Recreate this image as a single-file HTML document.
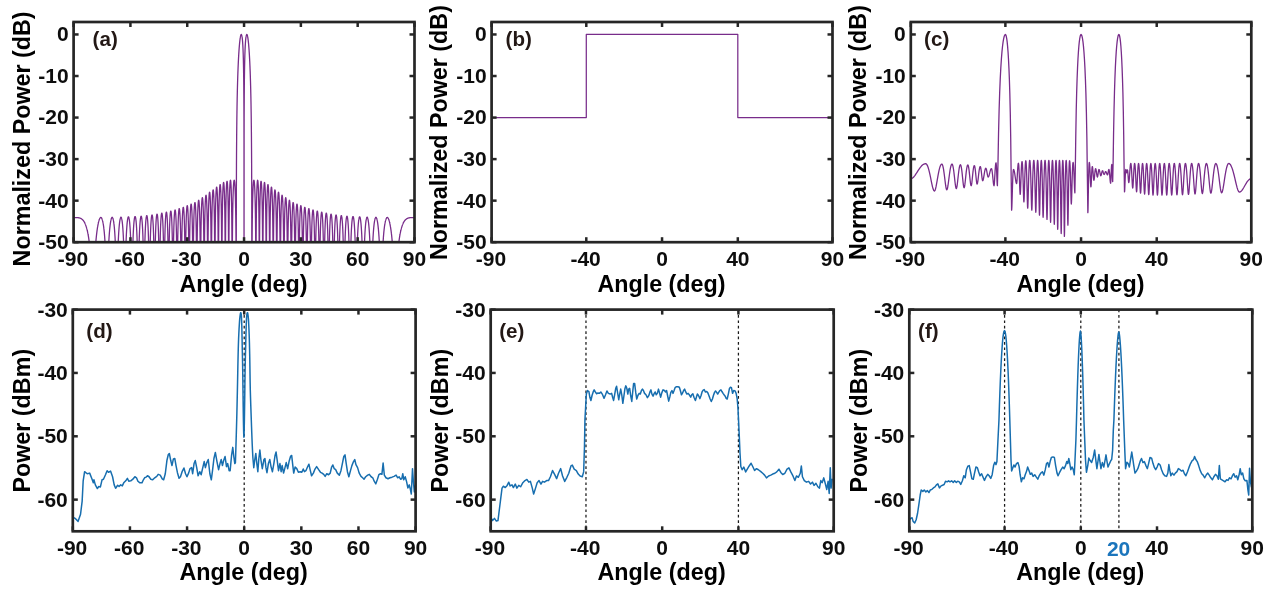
<!DOCTYPE html>
<html lang="en"><head><meta charset="utf-8"><title>Beam patterns</title>
<style>
html,body{margin:0;padding:0;background:#fff;}
body{width:1268px;height:592px;overflow:hidden;}
svg{display:block;}
text{font-family:"Liberation Sans", Arial, Helvetica, sans-serif;font-weight:bold;}
.tl{font-size:21px;fill:#0d0d0d;}
.al{font-size:23.3px;fill:#000;}
.tag{font-size:20.6px;fill:#231815;}
</style></head><body>
<svg width="1268" height="592" viewBox="0 0 1268 592">
<rect width="1268" height="592" fill="#fff"/>
<clipPath id="cpa"><rect x="73.60" y="22.00" width="340.90" height="220.20"/></clipPath>
<clipPath id="cpb"><rect x="491.60" y="22.00" width="340.90" height="220.20"/></clipPath>
<clipPath id="cpc"><rect x="910.80" y="22.00" width="340.50" height="220.20"/></clipPath>
<clipPath id="cpd"><rect x="72.80" y="309.60" width="342.80" height="221.70"/></clipPath>
<clipPath id="cpe"><rect x="490.70" y="309.60" width="343.00" height="221.70"/></clipPath>
<clipPath id="cpf"><rect x="909.30" y="309.60" width="343.00" height="221.70"/></clipPath>
<g clip-path="url(#cpa)">
<path d="M73.60,217.56 L73.65,217.56 L73.69,217.56 L73.74,217.56 L73.79,217.56 L73.84,217.56 L73.88,217.56 L73.93,217.56 L73.98,217.56 L74.03,217.56 L74.07,217.56 L74.12,217.56 L74.17,217.56 L74.22,217.56 L74.26,217.56 L74.31,217.56 L74.36,217.56 L74.40,217.56 L74.45,217.56 L74.50,217.56 L74.55,217.56 L74.59,217.56 L74.64,217.56 L74.69,217.56 L74.74,217.56 L74.78,217.56 L74.83,217.56 L74.88,217.56 L74.93,217.56 L74.97,217.56 L75.02,217.56 L75.07,217.56 L75.12,217.56 L75.16,217.56 L75.21,217.56 L75.26,217.56 L75.30,217.56 L75.35,217.57 L75.40,217.57 L75.45,217.57 L75.49,217.57 L75.54,217.57 L75.59,217.57 L75.64,217.57 L75.68,217.57 L75.73,217.57 L75.78,217.57 L75.83,217.57 L75.87,217.57 L75.92,217.57 L75.97,217.57 L76.01,217.57 L76.06,217.57 L76.11,217.57 L76.16,217.58 L76.20,217.58 L76.25,217.58 L76.30,217.58 L76.35,217.58 L76.39,217.58 L76.44,217.58 L76.49,217.58 L76.54,217.59 L76.58,217.59 L76.63,217.59 L76.68,217.59 L76.72,217.59 L76.77,217.59 L76.82,217.60 L76.87,217.60 L76.91,217.60 L76.96,217.60 L77.01,217.61 L77.06,217.61 L77.10,217.61 L77.15,217.61 L77.20,217.62 L77.25,217.62 L77.29,217.62 L77.34,217.63 L77.39,217.63 L77.44,217.63 L77.48,217.64 L77.53,217.64 L77.58,217.64 L77.62,217.65 L77.67,217.65 L77.72,217.66 L77.77,217.66 L77.81,217.66 L77.86,217.67 L77.91,217.67 L77.96,217.68 L78.00,217.68 L78.05,217.69 L78.10,217.69 L78.15,217.70 L78.19,217.71 L78.24,217.71 L78.29,217.72 L78.33,217.73 L78.38,217.73 L78.43,217.74 L78.48,217.75 L78.52,217.75 L78.57,217.76 L78.62,217.77 L78.67,217.78 L78.71,217.78 L78.76,217.79 L78.81,217.80 L78.86,217.81 L78.90,217.82 L78.95,217.83 L79.00,217.84 L79.04,217.85 L79.09,217.86 L79.14,217.87 L79.19,217.88 L79.23,217.89 L79.28,217.90 L79.33,217.91 L79.38,217.93 L79.42,217.94 L79.47,217.95 L79.52,217.96 L79.57,217.98 L79.61,217.99 L79.66,218.00 L79.71,218.02 L79.76,218.03 L79.80,218.05 L79.85,218.06 L79.90,218.08 L79.94,218.09 L79.99,218.11 L80.04,218.13 L80.09,218.14 L80.13,218.16 L80.18,218.18 L80.23,218.20 L80.28,218.21 L80.32,218.23 L80.37,218.25 L80.42,218.27 L80.47,218.29 L80.51,218.31 L80.56,218.33 L80.61,218.36 L80.65,218.38 L80.70,218.40 L80.75,218.42 L80.80,218.45 L80.84,218.47 L80.89,218.49 L80.94,218.52 L80.99,218.54 L81.03,218.57 L81.08,218.60 L81.13,218.62 L81.18,218.65 L81.22,218.68 L81.27,218.71 L81.32,218.73 L81.36,218.76 L81.41,218.79 L81.46,218.82 L81.51,218.86 L81.55,218.89 L81.60,218.92 L81.65,218.95 L81.70,218.99 L81.74,219.02 L81.79,219.05 L81.84,219.09 L81.89,219.13 L81.93,219.16 L81.98,219.20 L82.03,219.24 L82.08,219.28 L82.12,219.32 L82.17,219.36 L82.22,219.40 L82.26,219.44 L82.31,219.48 L82.36,219.52 L82.41,219.57 L82.45,219.61 L82.50,219.66 L82.55,219.70 L82.60,219.75 L82.64,219.80 L82.69,219.84 L82.74,219.89 L82.79,219.94 L82.83,219.99 L82.88,220.05 L82.93,220.10 L82.97,220.15 L83.02,220.21 L83.07,220.26 L83.12,220.32 L83.16,220.37 L83.21,220.43 L83.26,220.49 L83.31,220.55 L83.35,220.61 L83.40,220.67 L83.45,220.73 L83.50,220.80 L83.54,220.86 L83.59,220.93 L83.64,220.99 L83.68,221.06 L83.73,221.13 L83.78,221.20 L83.83,221.27 L83.87,221.34 L83.92,221.41 L83.97,221.49 L84.02,221.56 L84.06,221.64 L84.11,221.72 L84.16,221.79 L84.21,221.87 L84.25,221.95 L84.30,222.04 L84.35,222.12 L84.40,222.20 L84.44,222.29 L84.49,222.38 L84.54,222.47 L84.58,222.56 L84.63,222.65 L84.68,222.74 L84.73,222.83 L84.77,222.93 L84.82,223.02 L84.87,223.12 L84.92,223.22 L84.96,223.32 L85.01,223.42 L85.06,223.53 L85.11,223.63 L85.15,223.74 L85.20,223.85 L85.25,223.96 L85.29,224.07 L85.34,224.18 L85.39,224.30 L85.44,224.41 L85.48,224.53 L85.53,224.65 L85.58,224.77 L85.63,224.90 L85.67,225.02 L85.72,225.15 L85.77,225.28 L85.82,225.41 L85.86,225.54 L85.91,225.67 L85.96,225.81 L86.00,225.95 L86.05,226.09 L86.10,226.23 L86.15,226.37 L86.19,226.52 L86.24,226.67 L86.29,226.82 L86.34,226.97 L86.38,227.12 L86.43,227.28 L86.48,227.44 L86.53,227.60 L86.57,227.76 L86.62,227.93 L86.67,228.10 L86.72,228.27 L86.76,228.44 L86.81,228.62 L86.86,228.79 L86.90,228.97 L86.95,229.16 L87.00,229.34 L87.05,229.53 L87.09,229.72 L87.14,229.92 L87.19,230.11 L87.24,230.31 L87.28,230.52 L87.33,230.72 L87.38,230.93 L87.43,231.14 L87.47,231.36 L87.52,231.58 L87.57,231.80 L87.61,232.02 L87.66,232.25 L87.71,232.48 L87.76,232.71 L87.80,232.95 L87.85,233.19 L87.90,233.44 L87.95,233.69 L87.99,233.94 L88.04,234.20 L88.09,234.46 L88.14,234.72 L88.18,234.99 L88.23,235.26 L88.28,235.54 L88.32,235.82 L88.37,236.11 L88.42,236.40 L88.47,236.69 L88.51,236.99 L88.56,237.30 L88.61,237.61 L88.66,237.92 L88.70,238.24 L88.75,238.57 L88.80,238.89 L88.85,239.23 L88.89,239.57 L88.94,239.92 L88.99,240.27 L89.04,240.63 L89.08,240.99 L89.13,241.36 L89.18,241.74 L89.22,242.12 L89.27,242.52 L89.32,242.91 L89.37,243.32 L89.41,243.73 L89.46,244.15 L89.51,244.58 L89.56,245.01 L89.60,245.45 L89.65,245.90 L89.70,246.36 L89.75,246.83 L89.79,247.31 L89.84,247.80 L89.89,248.30 L89.93,248.80 L89.98,249.32 L90.03,249.85 L90.08,250.39 L90.12,250.94 L90.17,251.50 L90.22,252.07 L90.27,252.66 L90.31,253.26 L90.36,253.87 L90.41,254.50 L90.46,255.14 L90.50,255.80 L90.55,256.48 L90.60,257.16 L90.64,257.87 L90.69,258.60 L90.74,259.34 L90.79,260.10 L90.83,260.89 L90.88,261.69 L90.93,262.52 L90.98,263.37 L91.02,264.24 L91.07,265.14 L91.12,266.07 L91.17,267.03 L91.21,267.13 L91.26,267.13 L91.31,267.13 L91.36,267.13 L91.40,267.13 L91.45,267.13 L91.50,267.13 L91.54,267.13 L91.59,267.13 L91.64,267.13 L91.69,267.13 L91.73,267.13 L91.78,267.13 L91.83,267.13 L91.88,267.13 L91.92,267.13 L91.97,267.13 L92.02,267.13 L92.07,267.13 L92.11,267.13 L92.16,267.13 L92.21,267.13 L92.25,267.13 L92.30,267.13 L92.35,267.13 L92.40,267.13 L92.44,267.13 L92.49,267.13 L92.54,267.13 L92.59,267.13 L92.63,267.13 L92.68,267.13 L92.73,267.13 L92.78,267.13 L92.82,267.13 L92.87,267.13 L92.92,267.13 L92.97,267.13 L93.01,267.13 L93.06,267.13 L93.11,267.13 L93.15,267.13 L93.20,267.13 L93.25,267.13 L93.30,267.13 L93.34,267.13 L93.39,267.13 L93.44,267.13 L93.49,267.13 L93.53,267.13 L93.58,267.13 L93.63,267.13 L93.68,267.13 L93.72,267.13 L93.77,267.13 L93.82,267.13 L93.86,267.13 L93.91,267.13 L93.96,267.13 L94.01,267.13 L94.05,267.13 L94.10,267.13 L94.15,267.13 L94.20,267.13 L94.24,267.13 L94.29,267.13 L94.34,266.60 L94.39,265.48 L94.43,264.40 L94.48,263.35 L94.53,262.33 L94.57,261.34 L94.62,260.37 L94.67,259.43 L94.72,258.52 L94.76,257.63 L94.81,256.76 L94.86,255.91 L94.91,255.08 L94.95,254.27 L95.00,253.48 L95.05,252.71 L95.10,251.95 L95.14,251.21 L95.19,250.49 L95.24,249.78 L95.29,249.09 L95.33,248.41 L95.38,247.75 L95.43,247.10 L95.47,246.46 L95.52,245.83 L95.57,245.22 L95.62,244.62 L95.66,244.02 L95.71,243.45 L95.76,242.88 L95.81,242.32 L95.85,241.77 L95.90,241.23 L95.95,240.70 L96.00,240.18 L96.04,239.67 L96.09,239.17 L96.14,238.68 L96.18,238.20 L96.23,237.72 L96.28,237.25 L96.33,236.79 L96.37,236.34 L96.42,235.90 L96.47,235.46 L96.52,235.03 L96.56,234.61 L96.61,234.20 L96.66,233.79 L96.71,233.39 L96.75,232.99 L96.80,232.61 L96.85,232.22 L96.89,231.85 L96.94,231.48 L96.99,231.12 L97.04,230.76 L97.08,230.41 L97.13,230.07 L97.18,229.73 L97.23,229.39 L97.27,229.07 L97.32,228.74 L97.37,228.43 L97.42,228.11 L97.46,227.81 L97.51,227.51 L97.56,227.21 L97.61,226.92 L97.65,226.64 L97.70,226.36 L97.75,226.08 L97.79,225.81 L97.84,225.54 L97.89,225.28 L97.94,225.03 L97.98,224.78 L98.03,224.53 L98.08,224.29 L98.13,224.05 L98.17,223.82 L98.22,223.59 L98.27,223.37 L98.32,223.15 L98.36,222.93 L98.41,222.72 L98.46,222.52 L98.50,222.31 L98.55,222.12 L98.60,221.92 L98.65,221.73 L98.69,221.55 L98.74,221.37 L98.79,221.19 L98.84,221.02 L98.88,220.85 L98.93,220.69 L98.98,220.53 L99.03,220.37 L99.07,220.22 L99.12,220.08 L99.17,219.93 L99.21,219.79 L99.26,219.66 L99.31,219.53 L99.36,219.40 L99.40,219.28 L99.45,219.16 L99.50,219.05 L99.55,218.93 L99.59,218.83 L99.64,218.73 L99.69,218.63 L99.74,218.53 L99.78,218.44 L99.83,218.36 L99.88,218.27 L99.93,218.19 L99.97,218.12 L100.02,218.05 L100.07,217.98 L100.11,217.92 L100.16,217.86 L100.21,217.81 L100.26,217.76 L100.30,217.71 L100.35,217.67 L100.40,217.63 L100.45,217.60 L100.49,217.57 L100.54,217.54 L100.59,217.52 L100.64,217.51 L100.68,217.49 L100.73,217.48 L100.78,217.48 L100.82,217.48 L100.87,217.48 L100.92,217.49 L100.97,217.50 L101.01,217.52 L101.06,217.54 L101.11,217.57 L101.16,217.60 L101.20,217.63 L101.25,217.67 L101.30,217.71 L101.35,217.76 L101.39,217.81 L101.44,217.87 L101.49,217.93 L101.53,218.00 L101.58,218.07 L101.63,218.15 L101.68,218.23 L101.72,218.31 L101.77,218.41 L101.82,218.50 L101.87,218.60 L101.91,218.71 L101.96,218.82 L102.01,218.94 L102.06,219.06 L102.10,219.18 L102.15,219.32 L102.20,219.45 L102.25,219.60 L102.29,219.74 L102.34,219.90 L102.39,220.06 L102.43,220.22 L102.48,220.40 L102.53,220.57 L102.58,220.76 L102.62,220.95 L102.67,221.14 L102.72,221.34 L102.77,221.55 L102.81,221.77 L102.86,221.99 L102.91,222.22 L102.96,222.45 L103.00,222.69 L103.05,222.94 L103.10,223.20 L103.14,223.46 L103.19,223.73 L103.24,224.01 L103.29,224.30 L103.33,224.59 L103.38,224.89 L103.43,225.20 L103.48,225.52 L103.52,225.85 L103.57,226.19 L103.62,226.53 L103.67,226.88 L103.71,227.25 L103.76,227.62 L103.81,228.00 L103.85,228.40 L103.90,228.80 L103.95,229.21 L104.00,229.64 L104.04,230.07 L104.09,230.52 L104.14,230.98 L104.19,231.45 L104.23,231.93 L104.28,232.42 L104.33,232.93 L104.38,233.45 L104.42,233.99 L104.47,234.54 L104.52,235.11 L104.57,235.69 L104.61,236.29 L104.66,236.90 L104.71,237.53 L104.75,238.18 L104.80,238.85 L104.85,239.53 L104.90,240.24 L104.94,240.97 L104.99,241.72 L105.04,242.49 L105.09,243.29 L105.13,244.11 L105.18,244.96 L105.23,245.83 L105.28,246.74 L105.32,247.67 L105.37,248.64 L105.42,249.64 L105.46,250.68 L105.51,251.75 L105.56,252.87 L105.61,254.03 L105.65,255.24 L105.70,256.49 L105.75,257.80 L105.80,259.17 L105.84,260.60 L105.89,262.10 L105.94,263.67 L105.99,265.32 L106.03,267.05 L106.08,267.13 L106.13,267.13 L106.17,267.13 L106.22,267.13 L106.27,267.13 L106.32,267.13 L106.36,267.13 L106.41,267.13 L106.46,267.13 L106.51,267.13 L106.55,267.13 L106.60,267.13 L106.65,267.13 L106.70,267.13 L106.74,267.13 L106.79,267.13 L106.84,267.13 L106.89,267.13 L106.93,267.13 L106.98,267.13 L107.03,267.13 L107.07,267.13 L107.12,267.13 L107.17,267.13 L107.22,267.13 L107.26,267.13 L107.31,267.13 L107.36,267.13 L107.41,267.13 L107.45,267.13 L107.50,267.13 L107.55,267.13 L107.60,267.13 L107.64,267.13 L107.69,267.13 L107.74,267.13 L107.78,267.13 L107.83,267.13 L107.88,266.07 L107.93,264.28 L107.97,262.58 L108.02,260.97 L108.07,259.42 L108.12,257.95 L108.16,256.54 L108.21,255.18 L108.26,253.88 L108.31,252.63 L108.35,251.43 L108.40,250.27 L108.45,249.15 L108.49,248.07 L108.54,247.03 L108.59,246.02 L108.64,245.04 L108.68,244.10 L108.73,243.18 L108.78,242.30 L108.83,241.44 L108.87,240.60 L108.92,239.80 L108.97,239.01 L109.02,238.25 L109.06,237.51 L109.11,236.79 L109.16,236.09 L109.21,235.41 L109.25,234.75 L109.30,234.10 L109.35,233.48 L109.39,232.87 L109.44,232.28 L109.49,231.70 L109.54,231.14 L109.58,230.60 L109.63,230.06 L109.68,229.55 L109.73,229.05 L109.77,228.56 L109.82,228.08 L109.87,227.62 L109.92,227.17 L109.96,226.73 L110.01,226.30 L110.06,225.89 L110.10,225.49 L110.15,225.10 L110.20,224.72 L110.25,224.35 L110.29,223.99 L110.34,223.64 L110.39,223.31 L110.44,222.98 L110.48,222.66 L110.53,222.36 L110.58,222.06 L110.63,221.77 L110.67,221.50 L110.72,221.23 L110.77,220.97 L110.81,220.72 L110.86,220.48 L110.91,220.25 L110.96,220.03 L111.00,219.82 L111.05,219.61 L111.10,219.42 L111.15,219.23 L111.19,219.06 L111.24,218.89 L111.29,218.73 L111.34,218.57 L111.38,218.43 L111.43,218.30 L111.48,218.17 L111.53,218.05 L111.57,217.94 L111.62,217.84 L111.67,217.75 L111.71,217.66 L111.76,217.59 L111.81,217.52 L111.86,217.46 L111.90,217.41 L111.95,217.36 L112.00,217.33 L112.05,217.30 L112.09,217.28 L112.14,217.27 L112.19,217.27 L112.24,217.28 L112.28,217.30 L112.33,217.32 L112.38,217.35 L112.42,217.39 L112.47,217.44 L112.52,217.50 L112.57,217.57 L112.61,217.65 L112.66,217.73 L112.71,217.83 L112.76,217.93 L112.80,218.04 L112.85,218.16 L112.90,218.29 L112.95,218.44 L112.99,218.58 L113.04,218.74 L113.09,218.91 L113.13,219.09 L113.18,219.28 L113.23,219.48 L113.28,219.69 L113.32,219.91 L113.37,220.14 L113.42,220.38 L113.47,220.63 L113.51,220.89 L113.56,221.17 L113.61,221.45 L113.66,221.75 L113.70,222.06 L113.75,222.38 L113.80,222.72 L113.85,223.06 L113.89,223.42 L113.94,223.79 L113.99,224.18 L114.03,224.58 L114.08,225.00 L114.13,225.43 L114.18,225.87 L114.22,226.33 L114.27,226.80 L114.32,227.30 L114.37,227.81 L114.41,228.33 L114.46,228.88 L114.51,229.44 L114.56,230.02 L114.60,230.62 L114.65,231.24 L114.70,231.89 L114.74,232.55 L114.79,233.24 L114.84,233.95 L114.89,234.69 L114.93,235.45 L114.98,236.24 L115.03,237.06 L115.08,237.91 L115.12,238.79 L115.17,239.70 L115.22,240.65 L115.27,241.63 L115.31,242.66 L115.36,243.72 L115.41,244.83 L115.45,245.98 L115.50,247.19 L115.55,248.44 L115.60,249.76 L115.64,251.13 L115.69,252.57 L115.74,254.09 L115.79,255.68 L115.83,257.36 L115.88,259.13 L115.93,261.01 L115.98,263.00 L116.02,265.12 L116.07,267.13 L116.12,267.13 L116.17,267.13 L116.21,267.13 L116.26,267.13 L116.31,267.13 L116.35,267.13 L116.40,267.13 L116.45,267.13 L116.50,267.13 L116.54,267.13 L116.59,267.13 L116.64,267.13 L116.69,267.13 L116.73,267.13 L116.78,267.13 L116.83,267.13 L116.88,267.13 L116.92,267.13 L116.97,267.13 L117.02,267.13 L117.06,267.13 L117.11,267.13 L117.16,267.13 L117.21,267.13 L117.25,267.13 L117.30,267.13 L117.35,267.13 L117.40,267.13 L117.44,267.13 L117.49,266.50 L117.54,264.21 L117.59,262.08 L117.63,260.06 L117.68,258.17 L117.73,256.38 L117.77,254.68 L117.82,253.06 L117.87,251.53 L117.92,250.06 L117.96,248.66 L118.01,247.33 L118.06,246.05 L118.11,244.82 L118.15,243.65 L118.20,242.52 L118.25,241.43 L118.30,240.38 L118.34,239.38 L118.39,238.41 L118.44,237.48 L118.49,236.58 L118.53,235.71 L118.58,234.87 L118.63,234.07 L118.67,233.29 L118.72,232.53 L118.77,231.81 L118.82,231.10 L118.86,230.42 L118.91,229.77 L118.96,229.14 L119.01,228.52 L119.05,227.93 L119.10,227.36 L119.15,226.81 L119.20,226.28 L119.24,225.77 L119.29,225.27 L119.34,224.79 L119.38,224.33 L119.43,223.89 L119.48,223.46 L119.53,223.05 L119.57,222.66 L119.62,222.28 L119.67,221.91 L119.72,221.57 L119.76,221.23 L119.81,220.91 L119.86,220.60 L119.91,220.31 L119.95,220.03 L120.00,219.77 L120.05,219.52 L120.09,219.28 L120.14,219.06 L120.19,218.85 L120.24,218.65 L120.28,218.46 L120.33,218.29 L120.38,218.13 L120.43,217.99 L120.47,217.85 L120.52,217.73 L120.57,217.62 L120.62,217.52 L120.66,217.44 L120.71,217.37 L120.76,217.31 L120.81,217.26 L120.85,217.22 L120.90,217.20 L120.95,217.19 L120.99,217.19 L121.04,217.20 L121.09,217.23 L121.14,217.27 L121.18,217.32 L121.23,217.38 L121.28,217.46 L121.33,217.54 L121.37,217.65 L121.42,217.76 L121.47,217.89 L121.52,218.03 L121.56,218.18 L121.61,218.35 L121.66,218.53 L121.70,218.73 L121.75,218.94 L121.80,219.16 L121.85,219.40 L121.89,219.66 L121.94,219.92 L121.99,220.21 L122.04,220.51 L122.08,220.82 L122.13,221.16 L122.18,221.50 L122.23,221.87 L122.27,222.25 L122.32,222.65 L122.37,223.07 L122.41,223.51 L122.46,223.96 L122.51,224.44 L122.56,224.93 L122.60,225.45 L122.65,225.99 L122.70,226.55 L122.75,227.13 L122.79,227.74 L122.84,228.37 L122.89,229.02 L122.94,229.71 L122.98,230.42 L123.03,231.16 L123.08,231.93 L123.13,232.73 L123.17,233.56 L123.22,234.43 L123.27,235.33 L123.31,236.28 L123.36,237.26 L123.41,238.28 L123.46,239.35 L123.50,240.47 L123.55,241.64 L123.60,242.87 L123.65,244.15 L123.69,245.49 L123.74,246.91 L123.79,248.39 L123.84,249.96 L123.88,251.61 L123.93,253.36 L123.98,255.21 L124.02,257.19 L124.07,259.29 L124.12,261.54 L124.17,263.96 L124.21,266.56 L124.26,267.13 L124.31,267.13 L124.36,267.13 L124.40,267.13 L124.45,267.13 L124.50,267.13 L124.55,267.13 L124.59,267.13 L124.64,267.13 L124.69,267.13 L124.73,267.13 L124.78,267.13 L124.83,267.13 L124.88,267.13 L124.92,267.13 L124.97,267.13 L125.02,267.13 L125.07,267.13 L125.11,267.13 L125.16,267.13 L125.21,267.13 L125.26,267.13 L125.30,267.13 L125.35,267.13 L125.40,267.13 L125.45,265.71 L125.49,263.10 L125.54,260.67 L125.59,258.42 L125.63,256.30 L125.68,254.32 L125.73,252.45 L125.78,250.68 L125.82,249.02 L125.87,247.43 L125.92,245.93 L125.97,244.50 L126.01,243.14 L126.06,241.84 L126.11,240.59 L126.16,239.41 L126.20,238.27 L126.25,237.19 L126.30,236.14 L126.34,235.15 L126.39,234.19 L126.44,233.27 L126.49,232.39 L126.53,231.54 L126.58,230.73 L126.63,229.94 L126.68,229.19 L126.72,228.47 L126.77,227.78 L126.82,227.12 L126.87,226.48 L126.91,225.86 L126.96,225.28 L127.01,224.71 L127.06,224.17 L127.10,223.66 L127.15,223.16 L127.20,222.69 L127.24,222.23 L127.29,221.80 L127.34,221.39 L127.39,221.00 L127.43,220.63 L127.48,220.27 L127.53,219.94 L127.58,219.62 L127.62,219.32 L127.67,219.04 L127.72,218.78 L127.77,218.54 L127.81,218.31 L127.86,218.10 L127.91,217.90 L127.95,217.73 L128.00,217.57 L128.05,217.42 L128.10,217.29 L128.14,217.18 L128.19,217.09 L128.24,217.01 L128.29,216.95 L128.33,216.90 L128.38,216.87 L128.43,216.86 L128.48,216.86 L128.52,216.88 L128.57,216.91 L128.62,216.97 L128.66,217.03 L128.71,217.12 L128.76,217.22 L128.81,217.34 L128.85,217.47 L128.90,217.63 L128.95,217.80 L129.00,217.99 L129.04,218.19 L129.09,218.41 L129.14,218.66 L129.19,218.92 L129.23,219.20 L129.28,219.50 L129.33,219.81 L129.38,220.15 L129.42,220.51 L129.47,220.89 L129.52,221.29 L129.56,221.72 L129.61,222.16 L129.66,222.63 L129.71,223.12 L129.75,223.64 L129.80,224.18 L129.85,224.75 L129.90,225.35 L129.94,225.97 L129.99,226.62 L130.04,227.31 L130.09,228.02 L130.13,228.77 L130.18,229.55 L130.23,230.36 L130.27,231.22 L130.32,232.11 L130.37,233.04 L130.42,234.02 L130.46,235.04 L130.51,236.11 L130.56,237.24 L130.61,238.42 L130.65,239.65 L130.70,240.96 L130.75,242.32 L130.80,243.77 L130.84,245.29 L130.89,246.90 L130.94,248.60 L130.98,250.41 L131.03,252.34 L131.08,254.39 L131.13,256.59 L131.17,258.95 L131.22,261.50 L131.27,264.26 L131.32,267.13 L131.36,267.13 L131.41,267.13 L131.46,267.13 L131.51,267.13 L131.55,267.13 L131.60,267.13 L131.65,267.13 L131.70,267.13 L131.74,267.13 L131.79,267.13 L131.84,267.13 L131.88,267.13 L131.93,267.13 L131.98,267.13 L132.03,267.13 L132.07,267.13 L132.12,267.13 L132.17,267.13 L132.22,267.13 L132.26,267.13 L132.31,267.13 L132.36,267.13 L132.41,264.72 L132.45,261.86 L132.50,259.23 L132.55,256.79 L132.59,254.52 L132.64,252.40 L132.69,250.41 L132.74,248.54 L132.78,246.78 L132.83,245.12 L132.88,243.55 L132.93,242.06 L132.97,240.65 L133.02,239.31 L133.07,238.03 L133.12,236.81 L133.16,235.65 L133.21,234.55 L133.26,233.49 L133.30,232.48 L133.35,231.52 L133.40,230.60 L133.45,229.72 L133.49,228.88 L133.54,228.08 L133.59,227.31 L133.64,226.58 L133.68,225.88 L133.73,225.21 L133.78,224.57 L133.83,223.96 L133.87,223.38 L133.92,222.82 L133.97,222.30 L134.02,221.80 L134.06,221.32 L134.11,220.87 L134.16,220.45 L134.20,220.05 L134.25,219.67 L134.30,219.32 L134.35,218.98 L134.39,218.67 L134.44,218.39 L134.49,218.12 L134.54,217.87 L134.58,217.65 L134.63,217.45 L134.68,217.26 L134.73,217.10 L134.77,216.96 L134.82,216.84 L134.87,216.73 L134.91,216.65 L134.96,216.59 L135.01,216.55 L135.06,216.53 L135.10,216.53 L135.15,216.54 L135.20,216.58 L135.25,216.64 L135.29,216.72 L135.34,216.82 L135.39,216.94 L135.44,217.08 L135.48,217.24 L135.53,217.43 L135.58,217.63 L135.62,217.86 L135.67,218.10 L135.72,218.37 L135.77,218.67 L135.81,218.98 L135.86,219.33 L135.91,219.69 L135.96,220.08 L136.00,220.49 L136.05,220.93 L136.10,221.40 L136.15,221.90 L136.19,222.42 L136.24,222.97 L136.29,223.55 L136.34,224.17 L136.38,224.81 L136.43,225.49 L136.48,226.20 L136.52,226.95 L136.57,227.74 L136.62,228.57 L136.67,229.44 L136.71,230.35 L136.76,231.31 L136.81,232.31 L136.86,233.37 L136.90,234.48 L136.95,235.65 L137.00,236.88 L137.05,238.18 L137.09,239.55 L137.14,241.00 L137.19,242.53 L137.23,244.16 L137.28,245.88 L137.33,247.71 L137.38,249.67 L137.42,251.76 L137.47,254.01 L137.52,256.43 L137.57,259.04 L137.61,261.89 L137.66,265.01 L137.71,267.13 L137.76,267.13 L137.80,267.13 L137.85,267.13 L137.90,267.13 L137.94,267.13 L137.99,267.13 L138.04,267.13 L138.09,267.13 L138.13,267.13 L138.18,267.13 L138.23,267.13 L138.28,267.13 L138.32,267.13 L138.37,267.13 L138.42,267.13 L138.47,267.13 L138.51,267.13 L138.56,267.13 L138.61,267.13 L138.66,266.31 L138.70,263.02 L138.75,260.02 L138.80,257.27 L138.84,254.74 L138.89,252.39 L138.94,250.20 L138.99,248.16 L139.03,246.25 L139.08,244.45 L139.13,242.76 L139.18,241.17 L139.22,239.66 L139.27,238.23 L139.32,236.88 L139.37,235.60 L139.41,234.38 L139.46,233.23 L139.51,232.13 L139.55,231.08 L139.60,230.09 L139.65,229.14 L139.70,228.24 L139.74,227.38 L139.79,226.56 L139.84,225.79 L139.89,225.05 L139.93,224.35 L139.98,223.68 L140.03,223.05 L140.08,222.45 L140.12,221.88 L140.17,221.35 L140.22,220.84 L140.26,220.36 L140.31,219.91 L140.36,219.49 L140.41,219.10 L140.45,218.74 L140.50,218.40 L140.55,218.08 L140.60,217.79 L140.64,217.53 L140.69,217.29 L140.74,217.08 L140.79,216.89 L140.83,216.73 L140.88,216.59 L140.93,216.47 L140.98,216.37 L141.02,216.30 L141.07,216.26 L141.12,216.24 L141.16,216.23 L141.21,216.26 L141.26,216.30 L141.31,216.37 L141.35,216.46 L141.40,216.58 L141.45,216.72 L141.50,216.89 L141.54,217.08 L141.59,217.30 L141.64,217.54 L141.69,217.81 L141.73,218.10 L141.78,218.42 L141.83,218.77 L141.87,219.15 L141.92,219.55 L141.97,219.99 L142.02,220.45 L142.06,220.95 L142.11,221.47 L142.16,222.03 L142.21,222.63 L142.25,223.26 L142.30,223.92 L142.35,224.63 L142.40,225.37 L142.44,226.16 L142.49,226.98 L142.54,227.86 L142.58,228.78 L142.63,229.75 L142.68,230.77 L142.73,231.85 L142.77,232.99 L142.82,234.19 L142.87,235.46 L142.92,236.80 L142.96,238.23 L143.01,239.73 L143.06,241.34 L143.11,243.04 L143.15,244.85 L143.20,246.79 L143.25,248.87 L143.30,251.10 L143.34,253.51 L143.39,256.12 L143.44,258.96 L143.48,262.08 L143.53,265.52 L143.58,267.13 L143.63,267.13 L143.67,267.13 L143.72,267.13 L143.77,267.13 L143.82,267.13 L143.86,267.13 L143.91,267.13 L143.96,267.13 L144.01,267.13 L144.05,267.13 L144.10,267.13 L144.15,267.13 L144.19,267.13 L144.24,267.13 L144.29,267.13 L144.34,267.13 L144.38,267.13 L144.43,266.65 L144.48,263.04 L144.53,259.78 L144.57,256.80 L144.62,254.08 L144.67,251.57 L144.72,249.24 L144.76,247.08 L144.81,245.06 L144.86,243.18 L144.90,241.41 L144.95,239.74 L145.00,238.17 L145.05,236.70 L145.09,235.30 L145.14,233.98 L145.19,232.73 L145.24,231.55 L145.28,230.42 L145.33,229.36 L145.38,228.35 L145.43,227.40 L145.47,226.49 L145.52,225.63 L145.57,224.81 L145.62,224.04 L145.66,223.31 L145.71,222.62 L145.76,221.97 L145.80,221.35 L145.85,220.77 L145.90,220.23 L145.95,219.72 L145.99,219.24 L146.04,218.80 L146.09,218.38 L146.14,218.00 L146.18,217.64 L146.23,217.32 L146.28,217.02 L146.33,216.76 L146.37,216.52 L146.42,216.31 L146.47,216.13 L146.51,215.97 L146.56,215.85 L146.61,215.75 L146.66,215.67 L146.70,215.63 L146.75,215.61 L146.80,215.62 L146.85,215.65 L146.89,215.72 L146.94,215.81 L146.99,215.92 L147.04,216.07 L147.08,216.24 L147.13,216.44 L147.18,216.67 L147.22,216.93 L147.27,217.22 L147.32,217.54 L147.37,217.89 L147.41,218.28 L147.46,218.69 L147.51,219.14 L147.56,219.62 L147.60,220.14 L147.65,220.69 L147.70,221.28 L147.75,221.90 L147.79,222.57 L147.84,223.28 L147.89,224.03 L147.94,224.83 L147.98,225.67 L148.03,226.57 L148.08,227.51 L148.12,228.51 L148.17,229.57 L148.22,230.69 L148.27,231.88 L148.31,233.13 L148.36,234.47 L148.41,235.88 L148.46,237.38 L148.50,238.98 L148.55,240.68 L148.60,242.50 L148.65,244.44 L148.69,246.53 L148.74,248.78 L148.79,251.21 L148.83,253.85 L148.88,256.73 L148.93,259.90 L148.98,263.40 L149.02,267.13 L149.07,267.13 L149.12,267.13 L149.17,267.13 L149.21,267.13 L149.26,267.13 L149.31,267.13 L149.36,267.13 L149.40,267.13 L149.45,267.13 L149.50,267.13 L149.54,267.13 L149.59,267.13 L149.64,267.13 L149.69,267.13 L149.73,267.13 L149.78,267.13 L149.83,267.02 L149.88,263.08 L149.92,259.55 L149.97,256.37 L150.02,253.46 L150.07,250.80 L150.11,248.34 L150.16,246.07 L150.21,243.95 L150.26,241.98 L150.30,240.14 L150.35,238.42 L150.40,236.79 L150.44,235.27 L150.49,233.84 L150.54,232.48 L150.59,231.21 L150.63,230.00 L150.68,228.86 L150.73,227.79 L150.78,226.77 L150.82,225.81 L150.87,224.90 L150.92,224.04 L150.97,223.23 L151.01,222.47 L151.06,221.75 L151.11,221.07 L151.15,220.44 L151.20,219.84 L151.25,219.29 L151.30,218.77 L151.34,218.28 L151.39,217.84 L151.44,217.42 L151.49,217.05 L151.53,216.70 L151.58,216.39 L151.63,216.11 L151.68,215.86 L151.72,215.64 L151.77,215.46 L151.82,215.30 L151.86,215.18 L151.91,215.09 L151.96,215.02 L152.01,214.99 L152.05,214.99 L152.10,215.01 L152.15,215.07 L152.20,215.16 L152.24,215.28 L152.29,215.43 L152.34,215.61 L152.39,215.82 L152.43,216.06 L152.48,216.34 L152.53,216.65 L152.58,217.00 L152.62,217.38 L152.67,217.79 L152.72,218.25 L152.76,218.73 L152.81,219.26 L152.86,219.83 L152.91,220.44 L152.95,221.09 L153.00,221.78 L153.05,222.52 L153.10,223.31 L153.14,224.15 L153.19,225.04 L153.24,225.99 L153.29,227.00 L153.33,228.06 L153.38,229.20 L153.43,230.40 L153.47,231.68 L153.52,233.04 L153.57,234.48 L153.62,236.03 L153.66,237.67 L153.71,239.43 L153.76,241.31 L153.81,243.33 L153.85,245.50 L153.90,247.86 L153.95,250.41 L154.00,253.19 L154.04,256.24 L154.09,259.61 L154.14,263.37 L154.18,267.13 L154.23,267.13 L154.28,267.13 L154.33,267.13 L154.37,267.13 L154.42,267.13 L154.47,267.13 L154.52,267.13 L154.56,267.13 L154.61,267.13 L154.66,267.13 L154.71,267.13 L154.75,267.13 L154.80,267.13 L154.85,267.13 L154.90,267.13 L154.94,265.78 L154.99,261.69 L155.04,258.05 L155.08,254.77 L155.13,251.78 L155.18,249.06 L155.23,246.55 L155.27,244.23 L155.32,242.09 L155.37,240.09 L155.42,238.22 L155.46,236.48 L155.51,234.85 L155.56,233.32 L155.61,231.88 L155.65,230.52 L155.70,229.25 L155.75,228.05 L155.79,226.91 L155.84,225.85 L155.89,224.84 L155.94,223.90 L155.98,223.01 L156.03,222.17 L156.08,221.38 L156.13,220.64 L156.17,219.95 L156.22,219.30 L156.27,218.70 L156.32,218.13 L156.36,217.61 L156.41,217.13 L156.46,216.69 L156.50,216.28 L156.55,215.91 L156.60,215.58 L156.65,215.29 L156.69,215.02 L156.74,214.80 L156.79,214.61 L156.84,214.45 L156.88,214.32 L156.93,214.23 L156.98,214.18 L157.03,214.16 L157.07,214.16 L157.12,214.21 L157.17,214.28 L157.22,214.39 L157.26,214.54 L157.31,214.72 L157.36,214.93 L157.40,215.18 L157.45,215.46 L157.50,215.79 L157.55,216.15 L157.59,216.54 L157.64,216.98 L157.69,217.46 L157.74,217.98 L157.78,218.54 L157.83,219.14 L157.88,219.79 L157.93,220.49 L157.97,221.24 L158.02,222.04 L158.07,222.89 L158.11,223.80 L158.16,224.77 L158.21,225.81 L158.26,226.91 L158.30,228.08 L158.35,229.32 L158.40,230.65 L158.45,232.07 L158.49,233.58 L158.54,235.20 L158.59,236.93 L158.64,238.78 L158.68,240.78 L158.73,242.93 L158.78,245.25 L158.82,247.78 L158.87,250.53 L158.92,253.56 L158.97,256.90 L159.01,260.63 L159.06,264.83 L159.11,267.13 L159.16,267.13 L159.20,267.13 L159.25,267.13 L159.30,267.13 L159.35,267.13 L159.39,267.13 L159.44,267.13 L159.49,267.13 L159.54,267.13 L159.58,267.13 L159.63,267.13 L159.68,267.13 L159.72,267.13 L159.77,267.13 L159.82,263.39 L159.87,259.29 L159.91,255.63 L159.96,252.34 L160.01,249.36 L160.06,246.63 L160.10,244.13 L160.15,241.82 L160.20,239.68 L160.25,237.69 L160.29,235.84 L160.34,234.11 L160.39,232.49 L160.43,230.98 L160.48,229.55 L160.53,228.22 L160.58,226.96 L160.62,225.79 L160.67,224.68 L160.72,223.64 L160.77,222.66 L160.81,221.74 L160.86,220.88 L160.91,220.08 L160.96,219.32 L161.00,218.62 L161.05,217.96 L161.10,217.35 L161.15,216.79 L161.19,216.27 L161.24,215.79 L161.29,215.36 L161.33,214.96 L161.38,214.61 L161.43,214.29 L161.48,214.01 L161.52,213.77 L161.57,213.57 L161.62,213.41 L161.67,213.28 L161.71,213.19 L161.76,213.13 L161.81,213.12 L161.86,213.14 L161.90,213.19 L161.95,213.29 L162.00,213.42 L162.04,213.58 L162.09,213.79 L162.14,214.03 L162.19,214.32 L162.23,214.64 L162.28,215.00 L162.33,215.41 L162.38,215.86 L162.42,216.35 L162.47,216.88 L162.52,217.47 L162.57,218.10 L162.61,218.78 L162.66,219.51 L162.71,220.29 L162.75,221.13 L162.80,222.03 L162.85,223.00 L162.90,224.02 L162.94,225.12 L162.99,226.29 L163.04,227.54 L163.09,228.88 L163.13,230.31 L163.18,231.84 L163.23,233.47 L163.28,235.23 L163.32,237.11 L163.37,239.14 L163.42,241.34 L163.47,243.71 L163.51,246.30 L163.56,249.14 L163.61,252.26 L163.65,255.71 L163.70,259.59 L163.75,263.97 L163.80,267.13 L163.84,267.13 L163.89,267.13 L163.94,267.13 L163.99,267.13 L164.03,267.13 L164.08,267.13 L164.13,267.13 L164.18,267.13 L164.22,267.13 L164.27,267.13 L164.32,267.13 L164.36,267.13 L164.41,267.13 L164.46,263.93 L164.51,259.49 L164.55,255.56 L164.60,252.05 L164.65,248.89 L164.70,246.01 L164.74,243.38 L164.79,240.96 L164.84,238.73 L164.89,236.66 L164.93,234.74 L164.98,232.95 L165.03,231.28 L165.07,229.72 L165.12,228.26 L165.17,226.90 L165.22,225.62 L165.26,224.42 L165.31,223.29 L165.36,222.24 L165.41,221.25 L165.45,220.32 L165.50,219.46 L165.55,218.65 L165.60,217.90 L165.64,217.21 L165.69,216.56 L165.74,215.96 L165.79,215.41 L165.83,214.91 L165.88,214.45 L165.93,214.03 L165.97,213.66 L166.02,213.33 L166.07,213.04 L166.12,212.80 L166.16,212.59 L166.21,212.43 L166.26,212.30 L166.31,212.22 L166.35,212.17 L166.40,212.16 L166.45,212.19 L166.50,212.26 L166.54,212.37 L166.59,212.52 L166.64,212.72 L166.68,212.95 L166.73,213.22 L166.78,213.54 L166.83,213.90 L166.87,214.30 L166.92,214.75 L166.97,215.25 L167.02,215.80 L167.06,216.39 L167.11,217.03 L167.16,217.73 L167.21,218.49 L167.25,219.30 L167.30,220.17 L167.35,221.11 L167.39,222.11 L167.44,223.19 L167.49,224.34 L167.54,225.57 L167.58,226.88 L167.63,228.29 L167.68,229.81 L167.73,231.43 L167.77,233.17 L167.82,235.05 L167.87,237.07 L167.92,239.26 L167.96,241.63 L168.01,244.22 L168.06,247.06 L168.11,250.18 L168.15,253.65 L168.20,257.54 L168.25,261.95 L168.29,267.03 L168.34,267.13 L168.39,267.13 L168.44,267.13 L168.48,267.13 L168.53,267.13 L168.58,267.13 L168.63,267.13 L168.67,267.13 L168.72,267.13 L168.77,267.13 L168.82,267.13 L168.86,267.13 L168.91,266.38 L168.96,261.32 L169.00,256.92 L169.05,253.03 L169.10,249.55 L169.15,246.41 L169.19,243.56 L169.24,240.95 L169.29,238.56 L169.34,236.35 L169.38,234.31 L169.43,232.41 L169.48,230.64 L169.53,229.00 L169.57,227.47 L169.62,226.03 L169.67,224.69 L169.71,223.44 L169.76,222.27 L169.81,221.17 L169.86,220.15 L169.90,219.19 L169.95,218.30 L170.00,217.47 L170.05,216.70 L170.09,215.98 L170.14,215.32 L170.19,214.71 L170.24,214.15 L170.28,213.65 L170.33,213.18 L170.38,212.77 L170.43,212.40 L170.47,212.08 L170.52,211.80 L170.57,211.57 L170.61,211.38 L170.66,211.23 L170.71,211.12 L170.76,211.06 L170.80,211.04 L170.85,211.06 L170.90,211.12 L170.95,211.23 L170.99,211.38 L171.04,211.58 L171.09,211.81 L171.14,212.10 L171.18,212.42 L171.23,212.80 L171.28,213.22 L171.32,213.69 L171.37,214.21 L171.42,214.78 L171.47,215.40 L171.51,216.08 L171.56,216.82 L171.61,217.62 L171.66,218.48 L171.70,219.40 L171.75,220.40 L171.80,221.47 L171.85,222.61 L171.89,223.84 L171.94,225.16 L171.99,226.57 L172.03,228.09 L172.08,229.72 L172.13,231.48 L172.18,233.37 L172.22,235.42 L172.27,237.64 L172.32,240.05 L172.37,242.68 L172.41,245.57 L172.46,248.76 L172.51,252.32 L172.56,256.31 L172.60,260.86 L172.65,266.12 L172.70,267.13 L172.75,267.13 L172.79,267.13 L172.84,267.13 L172.89,267.13 L172.93,267.13 L172.98,267.13 L173.03,267.13 L173.08,267.13 L173.12,267.13 L173.17,267.13 L173.22,267.13 L173.27,262.91 L173.31,258.03 L173.36,253.77 L173.41,249.99 L173.46,246.61 L173.50,243.55 L173.55,240.78 L173.60,238.24 L173.64,235.90 L173.69,233.75 L173.74,231.76 L173.79,229.91 L173.83,228.19 L173.88,226.59 L173.93,225.11 L173.98,223.72 L174.02,222.42 L174.07,221.21 L174.12,220.08 L174.17,219.03 L174.21,218.05 L174.26,217.14 L174.31,216.29 L174.35,215.50 L174.40,214.78 L174.45,214.11 L174.50,213.50 L174.54,212.94 L174.59,212.43 L174.64,211.98 L174.69,211.57 L174.73,211.21 L174.78,210.90 L174.83,210.64 L174.88,210.42 L174.92,210.25 L174.97,210.12 L175.02,210.04 L175.07,210.00 L175.11,210.01 L175.16,210.06 L175.21,210.15 L175.25,210.29 L175.30,210.48 L175.35,210.71 L175.40,210.99 L175.44,211.32 L175.49,211.70 L175.54,212.12 L175.59,212.60 L175.63,213.14 L175.68,213.72 L175.73,214.37 L175.78,215.07 L175.82,215.83 L175.87,216.66 L175.92,217.55 L175.96,218.52 L176.01,219.56 L176.06,220.67 L176.11,221.88 L176.15,223.17 L176.20,224.56 L176.25,226.05 L176.30,227.66 L176.34,229.39 L176.39,231.27 L176.44,233.29 L176.49,235.49 L176.53,237.88 L176.58,240.49 L176.63,243.36 L176.67,246.53 L176.72,250.07 L176.77,254.04 L176.82,258.56 L176.86,263.79 L176.91,267.13 L176.96,267.13 L177.01,267.13 L177.05,267.13 L177.10,267.13 L177.15,267.13 L177.20,267.13 L177.24,267.13 L177.29,267.13 L177.34,267.13 L177.39,267.13 L177.43,266.49 L177.48,260.78 L177.53,255.89 L177.57,251.62 L177.62,247.84 L177.67,244.45 L177.72,241.40 L177.76,238.62 L177.81,236.08 L177.86,233.75 L177.91,231.61 L177.95,229.62 L178.00,227.78 L178.05,226.08 L178.10,224.49 L178.14,223.01 L178.19,221.64 L178.24,220.36 L178.28,219.16 L178.33,218.05 L178.38,217.02 L178.43,216.06 L178.47,215.17 L178.52,214.34 L178.57,213.58 L178.62,212.88 L178.66,212.24 L178.71,211.66 L178.76,211.13 L178.81,210.65 L178.85,210.23 L178.90,209.86 L178.95,209.54 L178.99,209.27 L179.04,209.04 L179.09,208.87 L179.14,208.74 L179.18,208.66 L179.23,208.63 L179.28,208.64 L179.33,208.71 L179.37,208.82 L179.42,208.98 L179.47,209.19 L179.52,209.44 L179.56,209.75 L179.61,210.11 L179.66,210.52 L179.71,210.99 L179.75,211.51 L179.80,212.08 L179.85,212.72 L179.89,213.41 L179.94,214.17 L179.99,215.00 L180.04,215.89 L180.08,216.86 L180.13,217.91 L180.18,219.04 L180.23,220.25 L180.27,221.56 L180.32,222.97 L180.37,224.49 L180.42,226.12 L180.46,227.89 L180.51,229.80 L180.56,231.88 L180.60,234.13 L180.65,236.59 L180.70,239.28 L180.75,242.24 L180.79,245.53 L180.84,249.21 L180.89,253.36 L180.94,258.11 L180.98,263.65 L181.03,267.13 L181.08,267.13 L181.13,267.13 L181.17,267.13 L181.22,267.13 L181.27,267.13 L181.31,267.13 L181.36,267.13 L181.41,267.13 L181.46,267.13 L181.50,267.13 L181.55,262.04 L181.60,256.66 L181.65,252.02 L181.69,247.95 L181.74,244.33 L181.79,241.08 L181.84,238.14 L181.88,235.47 L181.93,233.02 L181.98,230.77 L182.03,228.70 L182.07,226.79 L182.12,225.01 L182.17,223.37 L182.21,221.84 L182.26,220.42 L182.31,219.10 L182.36,217.87 L182.40,216.73 L182.45,215.67 L182.50,214.69 L182.55,213.78 L182.59,212.94 L182.64,212.17 L182.69,211.46 L182.74,210.81 L182.78,210.22 L182.83,209.69 L182.88,209.22 L182.92,208.80 L182.97,208.43 L183.02,208.12 L183.07,207.85 L183.11,207.64 L183.16,207.48 L183.21,207.37 L183.26,207.31 L183.30,207.30 L183.35,207.33 L183.40,207.42 L183.45,207.55 L183.49,207.74 L183.54,207.98 L183.59,208.27 L183.63,208.61 L183.68,209.01 L183.73,209.46 L183.78,209.97 L183.82,210.54 L183.87,211.18 L183.92,211.87 L183.97,212.63 L184.01,213.46 L184.06,214.36 L184.11,215.34 L184.16,216.39 L184.20,217.54 L184.25,218.77 L184.30,220.10 L184.35,221.54 L184.39,223.09 L184.44,224.77 L184.49,226.58 L184.53,228.55 L184.58,230.68 L184.63,233.01 L184.68,235.56 L184.72,238.35 L184.77,241.45 L184.82,244.89 L184.87,248.76 L184.91,253.15 L184.96,258.23 L185.01,264.20 L185.06,267.13 L185.10,267.13 L185.15,267.13 L185.20,267.13 L185.24,267.13 L185.29,267.13 L185.34,267.13 L185.39,267.13 L185.43,267.13 L185.48,267.13 L185.53,263.03 L185.58,257.15 L185.62,252.14 L185.67,247.77 L185.72,243.92 L185.77,240.48 L185.81,237.39 L185.86,234.58 L185.91,232.02 L185.95,229.67 L186.00,227.52 L186.05,225.53 L186.10,223.69 L186.14,221.98 L186.19,220.40 L186.24,218.94 L186.29,217.58 L186.33,216.32 L186.38,215.14 L186.43,214.06 L186.48,213.05 L186.52,212.12 L186.57,211.26 L186.62,210.48 L186.67,209.75 L186.71,209.10 L186.76,208.50 L186.81,207.97 L186.85,207.49 L186.90,207.07 L186.95,206.70 L187.00,206.39 L187.04,206.14 L187.09,205.93 L187.14,205.78 L187.19,205.68 L187.23,205.64 L187.28,205.65 L187.33,205.71 L187.38,205.82 L187.42,205.98 L187.47,206.20 L187.52,206.47 L187.56,206.80 L187.61,207.19 L187.66,207.63 L187.71,208.13 L187.75,208.69 L187.80,209.31 L187.85,210.00 L187.90,210.76 L187.94,211.59 L187.99,212.49 L188.04,213.47 L188.09,214.54 L188.13,215.69 L188.18,216.94 L188.23,218.28 L188.27,219.74 L188.32,221.31 L188.37,223.02 L188.42,224.86 L188.46,226.86 L188.51,229.04 L188.56,231.42 L188.61,234.03 L188.65,236.90 L188.70,240.08 L188.75,243.64 L188.80,247.64 L188.84,252.21 L188.89,257.52 L188.94,263.81 L188.99,267.13 L189.03,267.13 L189.08,267.13 L189.13,267.13 L189.17,267.13 L189.22,267.13 L189.27,267.13 L189.32,267.13 L189.36,267.13 L189.41,265.56 L189.46,258.88 L189.51,253.29 L189.55,248.48 L189.60,244.29 L189.65,240.58 L189.70,237.25 L189.74,234.26 L189.79,231.54 L189.84,229.05 L189.88,226.78 L189.93,224.68 L189.98,222.75 L190.03,220.97 L190.07,219.32 L190.12,217.79 L190.17,216.37 L190.22,215.06 L190.26,213.84 L190.31,212.72 L190.36,211.68 L190.41,210.72 L190.45,209.83 L190.50,209.02 L190.55,208.28 L190.59,207.60 L190.64,206.99 L190.69,206.44 L190.74,205.95 L190.78,205.52 L190.83,205.15 L190.88,204.84 L190.93,204.58 L190.97,204.38 L191.02,204.23 L191.07,204.14 L191.12,204.10 L191.16,204.11 L191.21,204.18 L191.26,204.31 L191.31,204.49 L191.35,204.72 L191.40,205.01 L191.45,205.36 L191.49,205.77 L191.54,206.24 L191.59,206.77 L191.64,207.36 L191.68,208.02 L191.73,208.75 L191.78,209.55 L191.83,210.43 L191.87,211.38 L191.92,212.42 L191.97,213.55 L192.02,214.77 L192.06,216.09 L192.11,217.52 L192.16,219.07 L192.20,220.75 L192.25,222.57 L192.30,224.55 L192.35,226.70 L192.39,229.05 L192.44,231.63 L192.49,234.47 L192.54,237.61 L192.58,241.12 L192.63,245.08 L192.68,249.59 L192.73,254.82 L192.77,261.01 L192.82,267.13 L192.87,267.13 L192.91,267.13 L192.96,267.13 L193.01,267.13 L193.06,267.13 L193.10,267.13 L193.15,267.13 L193.20,267.13 L193.25,264.00 L193.29,257.21 L193.34,251.54 L193.39,246.68 L193.44,242.45 L193.48,238.70 L193.53,235.35 L193.58,232.34 L193.63,229.60 L193.67,227.11 L193.72,224.83 L193.77,222.73 L193.81,220.80 L193.86,219.02 L193.91,217.37 L193.96,215.84 L194.00,214.43 L194.05,213.12 L194.10,211.92 L194.15,210.80 L194.19,209.77 L194.24,208.82 L194.29,207.95 L194.34,207.15 L194.38,206.43 L194.43,205.77 L194.48,205.18 L194.52,204.65 L194.57,204.18 L194.62,203.78 L194.67,203.43 L194.71,203.15 L194.76,202.92 L194.81,202.75 L194.86,202.63 L194.90,202.57 L194.95,202.56 L195.00,202.60 L195.05,202.70 L195.09,202.86 L195.14,203.07 L195.19,203.35 L195.24,203.68 L195.28,204.07 L195.33,204.52 L195.38,205.04 L195.42,205.63 L195.47,206.28 L195.52,207.00 L195.57,207.80 L195.61,208.68 L195.66,209.63 L195.71,210.67 L195.76,211.81 L195.80,213.04 L195.85,214.37 L195.90,215.82 L195.95,217.39 L195.99,219.10 L196.04,220.95 L196.09,222.96 L196.13,225.16 L196.18,227.57 L196.23,230.22 L196.28,233.14 L196.32,236.39 L196.37,240.03 L196.42,244.15 L196.47,248.87 L196.51,254.38 L196.56,260.98 L196.61,267.13 L196.66,267.13 L196.70,267.13 L196.75,267.13 L196.80,267.13 L196.84,267.13 L196.89,267.13 L196.94,267.13 L196.99,266.72 L197.03,258.93 L197.08,252.57 L197.13,247.20 L197.18,242.57 L197.22,238.52 L197.27,234.91 L197.32,231.69 L197.37,228.77 L197.41,226.12 L197.46,223.71 L197.51,221.49 L197.56,219.45 L197.60,217.58 L197.65,215.84 L197.70,214.24 L197.74,212.76 L197.79,211.39 L197.84,210.13 L197.89,208.96 L197.93,207.88 L197.98,206.88 L198.03,205.97 L198.08,205.14 L198.12,204.38 L198.17,203.69 L198.22,203.07 L198.27,202.51 L198.31,202.02 L198.36,201.59 L198.41,201.23 L198.45,200.92 L198.50,200.67 L198.55,200.49 L198.60,200.36 L198.64,200.29 L198.69,200.27 L198.74,200.31 L198.79,200.41 L198.83,200.57 L198.88,200.79 L198.93,201.07 L198.98,201.41 L199.02,201.81 L199.07,202.28 L199.12,202.81 L199.16,203.41 L199.21,204.08 L199.26,204.83 L199.31,205.65 L199.35,206.55 L199.40,207.54 L199.45,208.62 L199.50,209.80 L199.54,211.07 L199.59,212.46 L199.64,213.97 L199.69,215.60 L199.73,217.38 L199.78,219.32 L199.83,221.43 L199.88,223.74 L199.92,226.28 L199.97,229.08 L200.02,232.19 L200.06,235.66 L200.11,239.57 L200.16,244.03 L200.21,249.21 L200.25,255.34 L200.30,262.81 L200.35,267.13 L200.40,267.13 L200.44,267.13 L200.49,267.13 L200.54,267.13 L200.59,267.13 L200.63,267.13 L200.68,267.13 L200.73,258.74 L200.77,251.89 L200.82,246.18 L200.87,241.29 L200.92,237.03 L200.96,233.26 L201.01,229.90 L201.06,226.88 L201.11,224.13 L201.15,221.64 L201.20,219.35 L201.25,217.25 L201.30,215.32 L201.34,213.54 L201.39,211.90 L201.44,210.38 L201.48,208.98 L201.53,207.68 L201.58,206.49 L201.63,205.39 L201.67,204.37 L201.72,203.44 L201.77,202.59 L201.82,201.82 L201.86,201.12 L201.91,200.49 L201.96,199.93 L202.01,199.43 L202.05,199.00 L202.10,198.63 L202.15,198.32 L202.20,198.08 L202.24,197.89 L202.29,197.77 L202.34,197.70 L202.38,197.70 L202.43,197.76 L202.48,197.87 L202.53,198.05 L202.57,198.29 L202.62,198.59 L202.67,198.95 L202.72,199.38 L202.76,199.88 L202.81,200.44 L202.86,201.08 L202.91,201.79 L202.95,202.58 L203.00,203.44 L203.05,204.40 L203.09,205.44 L203.14,206.57 L203.19,207.81 L203.24,209.16 L203.28,210.62 L203.33,212.21 L203.38,213.95 L203.43,215.83 L203.47,217.89 L203.52,220.14 L203.57,222.61 L203.62,225.33 L203.66,228.35 L203.71,231.71 L203.76,235.49 L203.80,239.80 L203.85,244.76 L203.90,250.61 L203.95,257.67 L203.99,266.56 L204.04,267.13 L204.09,267.13 L204.14,267.13 L204.18,267.13 L204.23,267.13 L204.28,267.13 L204.33,266.88 L204.37,257.79 L204.42,250.58 L204.47,244.61 L204.52,239.53 L204.56,235.12 L204.61,231.24 L204.66,227.79 L204.70,224.69 L204.75,221.89 L204.80,219.33 L204.85,217.00 L204.89,214.87 L204.94,212.91 L204.99,211.10 L205.04,209.44 L205.08,207.90 L205.13,206.48 L205.18,205.17 L205.23,203.97 L205.27,202.85 L205.32,201.83 L205.37,200.90 L205.41,200.05 L205.46,199.27 L205.51,198.57 L205.56,197.94 L205.60,197.38 L205.65,196.89 L205.70,196.47 L205.75,196.11 L205.79,195.81 L205.84,195.58 L205.89,195.41 L205.94,195.30 L205.98,195.24 L206.03,195.25 L206.08,195.31 L206.12,195.44 L206.17,195.63 L206.22,195.89 L206.27,196.20 L206.31,196.59 L206.36,197.04 L206.41,197.56 L206.46,198.15 L206.50,198.81 L206.55,199.55 L206.60,200.38 L206.65,201.28 L206.69,202.28 L206.74,203.37 L206.79,204.56 L206.84,205.85 L206.88,207.27 L206.93,208.81 L206.98,210.48 L207.02,212.31 L207.07,214.30 L207.12,216.48 L207.17,218.87 L207.21,221.51 L207.26,224.42 L207.31,227.67 L207.36,231.32 L207.40,235.46 L207.45,240.22 L207.50,245.78 L207.55,252.46 L207.59,260.76 L207.64,267.13 L207.69,267.13 L207.73,267.13 L207.78,267.13 L207.83,267.13 L207.88,267.13 L207.92,266.61 L207.97,256.83 L208.02,249.18 L208.07,242.91 L208.11,237.61 L208.16,233.04 L208.21,229.02 L208.26,225.46 L208.30,222.27 L208.35,219.38 L208.40,216.77 L208.44,214.38 L208.49,212.19 L208.54,210.18 L208.59,208.34 L208.63,206.64 L208.68,205.07 L208.73,203.62 L208.78,202.29 L208.82,201.06 L208.87,199.93 L208.92,198.89 L208.97,197.94 L209.01,197.07 L209.06,196.28 L209.11,195.57 L209.16,194.93 L209.20,194.36 L209.25,193.87 L209.30,193.44 L209.34,193.07 L209.39,192.77 L209.44,192.54 L209.49,192.36 L209.53,192.25 L209.58,192.21 L209.63,192.24 L209.68,192.33 L209.72,192.48 L209.77,192.70 L209.82,192.98 L209.87,193.32 L209.91,193.74 L209.96,194.22 L210.01,194.78 L210.05,195.41 L210.10,196.11 L210.15,196.90 L210.20,197.77 L210.24,198.72 L210.29,199.77 L210.34,200.92 L210.39,202.17 L210.43,203.54 L210.48,205.02 L210.53,206.64 L210.58,208.41 L210.62,210.34 L210.67,212.44 L210.72,214.75 L210.76,217.29 L210.81,220.09 L210.86,223.20 L210.91,226.69 L210.95,230.62 L211.00,235.12 L211.05,240.34 L211.10,246.54 L211.14,254.11 L211.19,263.81 L211.24,267.13 L211.29,267.13 L211.33,267.13 L211.38,267.13 L211.43,267.13 L211.48,267.13 L211.52,257.42 L211.57,249.05 L211.62,242.30 L211.66,236.66 L211.71,231.83 L211.76,227.62 L211.81,223.91 L211.85,220.59 L211.90,217.60 L211.95,214.90 L212.00,212.44 L212.04,210.19 L212.09,208.13 L212.14,206.24 L212.19,204.50 L212.23,202.90 L212.28,201.42 L212.33,200.06 L212.37,198.82 L212.42,197.67 L212.47,196.61 L212.52,195.65 L212.56,194.77 L212.61,193.98 L212.66,193.26 L212.71,192.62 L212.75,192.05 L212.80,191.55 L212.85,191.12 L212.90,190.76 L212.94,190.46 L212.99,190.23 L213.04,190.07 L213.08,189.96 L213.13,189.92 L213.18,189.94 L213.23,190.03 L213.27,190.17 L213.32,190.39 L213.37,190.67 L213.42,191.01 L213.46,191.43 L213.51,191.91 L213.56,192.47 L213.61,193.11 L213.65,193.82 L213.70,194.62 L213.75,195.50 L213.80,196.47 L213.84,197.53 L213.89,198.70 L213.94,199.98 L213.98,201.37 L214.03,202.88 L214.08,204.54 L214.13,206.35 L214.17,208.32 L214.22,210.48 L214.27,212.86 L214.32,215.47 L214.36,218.37 L214.41,221.60 L214.46,225.23 L214.51,229.34 L214.55,234.07 L214.60,239.60 L214.65,246.22 L214.69,254.45 L214.74,265.23 L214.79,267.13 L214.84,267.13 L214.88,267.13 L214.93,267.13 L214.98,267.13 L215.03,261.07 L215.07,251.19 L215.12,243.49 L215.17,237.18 L215.22,231.86 L215.26,227.27 L215.31,223.25 L215.36,219.68 L215.40,216.48 L215.45,213.60 L215.50,210.99 L215.55,208.61 L215.59,206.43 L215.64,204.43 L215.69,202.60 L215.74,200.91 L215.78,199.35 L215.83,197.92 L215.88,196.61 L215.93,195.40 L215.97,194.29 L216.02,193.27 L216.07,192.34 L216.12,191.50 L216.16,190.73 L216.21,190.05 L216.26,189.44 L216.30,188.91 L216.35,188.44 L216.40,188.04 L216.45,187.72 L216.49,187.45 L216.54,187.26 L216.59,187.13 L216.64,187.06 L216.68,187.07 L216.73,187.14 L216.78,187.28 L216.83,187.48 L216.87,187.75 L216.92,188.09 L216.97,188.50 L217.01,188.98 L217.06,189.53 L217.11,190.16 L217.16,190.87 L217.20,191.66 L217.25,192.54 L217.30,193.51 L217.35,194.58 L217.39,195.74 L217.44,197.02 L217.49,198.41 L217.54,199.93 L217.58,201.59 L217.63,203.40 L217.68,205.38 L217.72,207.55 L217.77,209.93 L217.82,212.55 L217.87,215.46 L217.91,218.70 L217.96,222.34 L218.01,226.47 L218.06,231.22 L218.10,236.78 L218.15,243.44 L218.20,251.73 L218.25,262.61 L218.29,267.13 L218.34,267.13 L218.39,267.13 L218.44,267.13 L218.48,267.13 L218.53,257.81 L218.58,248.02 L218.62,240.37 L218.67,234.10 L218.72,228.81 L218.77,224.25 L218.81,220.25 L218.86,216.70 L218.91,213.53 L218.96,210.66 L219.00,208.07 L219.05,205.70 L219.10,203.54 L219.15,201.56 L219.19,199.74 L219.24,198.07 L219.29,196.53 L219.33,195.12 L219.38,193.82 L219.43,192.62 L219.48,191.53 L219.52,190.53 L219.57,189.62 L219.62,188.79 L219.67,188.05 L219.71,187.39 L219.76,186.80 L219.81,186.28 L219.86,185.84 L219.90,185.46 L219.95,185.16 L220.00,184.92 L220.04,184.75 L220.09,184.65 L220.14,184.61 L220.19,184.64 L220.23,184.74 L220.28,184.91 L220.33,185.14 L220.38,185.44 L220.42,185.81 L220.47,186.26 L220.52,186.77 L220.57,187.37 L220.61,188.04 L220.66,188.79 L220.71,189.63 L220.76,190.55 L220.80,191.58 L220.85,192.70 L220.90,193.93 L220.94,195.27 L220.99,196.73 L221.04,198.33 L221.09,200.08 L221.13,201.99 L221.18,204.08 L221.23,206.37 L221.28,208.89 L221.32,211.68 L221.37,214.78 L221.42,218.25 L221.47,222.18 L221.51,226.66 L221.56,231.87 L221.61,238.05 L221.65,245.60 L221.70,255.28 L221.75,267.13 L221.80,267.13 L221.84,267.13 L221.89,267.13 L221.94,267.13 L221.99,260.12 L222.03,249.11 L222.08,240.72 L222.13,233.97 L222.18,228.33 L222.22,223.50 L222.27,219.30 L222.32,215.59 L222.36,212.28 L222.41,209.31 L222.46,206.62 L222.51,204.17 L222.55,201.94 L222.60,199.90 L222.65,198.03 L222.70,196.31 L222.74,194.73 L222.79,193.28 L222.84,191.95 L222.89,190.72 L222.93,189.60 L222.98,188.58 L223.03,187.65 L223.08,186.80 L223.12,186.04 L223.17,185.36 L223.22,184.76 L223.26,184.23 L223.31,183.77 L223.36,183.39 L223.41,183.07 L223.45,182.82 L223.50,182.65 L223.55,182.54 L223.60,182.49 L223.64,182.53 L223.69,182.63 L223.74,182.80 L223.79,183.04 L223.83,183.35 L223.88,183.73 L223.93,184.18 L223.97,184.71 L224.02,185.31 L224.07,185.99 L224.12,186.75 L224.16,187.60 L224.21,188.54 L224.26,189.58 L224.31,190.71 L224.35,191.96 L224.40,193.32 L224.45,194.80 L224.50,196.42 L224.54,198.18 L224.59,200.12 L224.64,202.23 L224.68,204.55 L224.73,207.10 L224.78,209.92 L224.83,213.06 L224.87,216.58 L224.92,220.55 L224.97,225.10 L225.02,230.39 L225.06,236.68 L225.11,244.39 L225.16,254.30 L225.21,267.13 L225.25,267.13 L225.30,267.13 L225.35,267.13 L225.40,267.13 L225.44,257.21 L225.49,246.49 L225.54,238.29 L225.58,231.66 L225.63,226.11 L225.68,221.36 L225.73,217.21 L225.77,213.56 L225.82,210.29 L225.87,207.36 L225.92,204.71 L225.96,202.30 L226.01,200.10 L226.06,198.09 L226.11,196.25 L226.15,194.56 L226.20,193.01 L226.25,191.59 L226.29,190.28 L226.34,189.09 L226.39,187.99 L226.44,187.00 L226.48,186.09 L226.53,185.28 L226.58,184.54 L226.63,183.89 L226.67,183.32 L226.72,182.82 L226.77,182.39 L226.82,182.03 L226.86,181.75 L226.91,181.53 L226.96,181.38 L227.00,181.31 L227.05,181.29 L227.10,181.35 L227.15,181.48 L227.19,181.67 L227.24,181.94 L227.29,182.27 L227.34,182.68 L227.38,183.16 L227.43,183.71 L227.48,184.35 L227.53,185.06 L227.57,185.86 L227.62,186.75 L227.67,187.73 L227.72,188.81 L227.76,189.99 L227.81,191.29 L227.86,192.70 L227.90,194.25 L227.95,195.94 L228.00,197.78 L228.05,199.79 L228.09,202.00 L228.14,204.43 L228.19,207.11 L228.24,210.08 L228.28,213.39 L228.33,217.12 L228.38,221.35 L228.43,226.24 L228.47,231.97 L228.52,238.88 L228.57,247.53 L228.61,259.04 L228.66,267.13 L228.71,267.13 L228.76,267.13 L228.80,267.13 L228.85,262.97 L228.90,250.28 L228.95,240.95 L228.99,233.59 L229.04,227.54 L229.09,222.41 L229.14,217.97 L229.18,214.08 L229.23,210.63 L229.28,207.54 L229.33,204.76 L229.37,202.23 L229.42,199.93 L229.47,197.83 L229.51,195.91 L229.56,194.16 L229.61,192.54 L229.66,191.06 L229.70,189.70 L229.75,188.46 L229.80,187.32 L229.85,186.28 L229.89,185.34 L229.94,184.49 L229.99,183.72 L230.04,183.04 L230.08,182.43 L230.13,181.90 L230.18,181.45 L230.22,181.07 L230.27,180.76 L230.32,180.52 L230.37,180.35 L230.41,180.24 L230.46,180.21 L230.51,180.26 L230.56,180.38 L230.60,180.57 L230.65,180.83 L230.70,181.15 L230.75,181.56 L230.79,182.03 L230.84,182.58 L230.89,183.21 L230.93,183.92 L230.98,184.71 L231.03,185.59 L231.08,186.56 L231.12,187.63 L231.17,188.81 L231.22,190.09 L231.27,191.49 L231.31,193.02 L231.36,194.69 L231.41,196.52 L231.46,198.51 L231.50,200.69 L231.55,203.09 L231.60,205.73 L231.65,208.65 L231.69,211.91 L231.74,215.57 L231.79,219.71 L231.83,224.47 L231.88,230.04 L231.93,236.71 L231.98,244.99 L232.02,255.83 L232.07,267.13 L232.12,267.13 L232.17,267.13 L232.21,267.13 L232.26,267.13 L232.31,258.27 L232.36,248.43 L232.40,240.75 L232.45,234.46 L232.50,229.15 L232.54,224.56 L232.59,220.53 L232.64,216.95 L232.69,213.74 L232.73,210.83 L232.78,208.18 L232.83,205.76 L232.88,203.54 L232.92,201.49 L232.97,199.59 L233.02,197.84 L233.07,196.21 L233.11,194.70 L233.16,193.30 L233.21,191.99 L233.25,190.77 L233.30,189.65 L233.35,188.60 L233.40,187.63 L233.44,186.72 L233.49,185.89 L233.54,185.13 L233.59,184.42 L233.63,183.78 L233.68,183.19 L233.73,182.67 L233.78,182.19 L233.82,181.77 L233.87,181.40 L233.92,181.08 L233.97,180.82 L234.01,180.60 L234.06,180.43 L234.11,180.31 L234.15,180.24 L234.20,180.21 L234.25,180.23 L234.30,180.31 L234.34,180.42 L234.39,180.59 L234.44,180.81 L234.49,181.07 L234.53,181.39 L234.58,181.76 L234.63,182.18 L234.68,182.65 L234.72,183.18 L234.77,183.76 L234.82,184.40 L234.86,185.11 L234.91,185.87 L234.96,186.70 L235.01,187.60 L235.05,188.58 L235.10,189.62 L235.15,190.75 L235.20,191.97 L235.24,193.27 L235.29,194.68 L235.34,196.19 L235.39,197.82 L235.43,199.58 L235.48,201.48 L235.53,203.53 L235.57,205.76 L235.62,208.19 L235.67,210.84 L235.72,213.75 L235.76,216.98 L235.81,220.57 L235.86,224.62 L235.91,229.23 L235.95,234.57 L236.00,240.91 L236.05,248.65 L236.10,258.59 L236.14,267.13 L236.19,267.13 L236.24,267.13 L236.29,246.04 L236.33,210.02 L236.38,189.86 L236.43,175.79 L236.47,164.96 L236.52,156.16 L236.57,148.74 L236.62,142.33 L236.66,136.69 L236.71,131.65 L236.76,127.10 L236.81,122.95 L236.85,119.14 L236.90,115.61 L236.95,112.33 L237.00,109.26 L237.04,106.39 L237.09,103.68 L237.14,101.12 L237.18,98.70 L237.23,96.40 L237.28,94.21 L237.33,92.12 L237.37,90.12 L237.42,88.21 L237.47,86.37 L237.52,84.61 L237.56,82.92 L237.61,81.29 L237.66,79.72 L237.71,78.20 L237.75,76.74 L237.80,75.32 L237.85,73.96 L237.89,72.63 L237.94,71.35 L237.99,70.11 L238.04,68.90 L238.08,67.74 L238.13,66.60 L238.18,65.50 L238.23,64.43 L238.27,63.39 L238.32,62.38 L238.37,61.39 L238.42,60.44 L238.46,59.50 L238.51,58.60 L238.56,57.71 L238.61,56.85 L238.65,56.02 L238.70,55.20 L238.75,54.41 L238.79,53.63 L238.84,52.88 L238.89,52.15 L238.94,51.43 L238.98,50.73 L239.03,50.05 L239.08,49.39 L239.13,48.75 L239.17,48.12 L239.22,47.51 L239.27,46.92 L239.32,46.34 L239.36,45.77 L239.41,45.23 L239.46,44.69 L239.50,44.18 L239.55,43.67 L239.60,43.18 L239.65,42.71 L239.69,42.25 L239.74,41.80 L239.79,41.37 L239.84,40.95 L239.88,40.54 L239.93,40.15 L239.98,39.77 L240.03,39.40 L240.07,39.05 L240.12,38.71 L240.17,38.38 L240.21,38.07 L240.26,37.77 L240.31,37.48 L240.36,37.20 L240.40,36.94 L240.45,36.69 L240.50,36.45 L240.55,36.23 L240.59,36.02 L240.64,35.82 L240.69,35.64 L240.74,35.46 L240.78,35.31 L240.83,35.16 L240.88,35.03 L240.93,34.91 L240.97,34.80 L241.02,34.71 L241.07,34.64 L241.11,34.57 L241.16,34.52 L241.21,34.49 L241.26,34.47 L241.30,34.46 L241.35,34.47 L241.40,34.50 L241.45,34.54 L241.49,34.60 L241.54,34.67 L241.59,34.77 L241.64,34.87 L241.68,35.00 L241.73,35.14 L241.78,35.31 L241.82,35.49 L241.87,35.69 L241.92,35.91 L241.97,36.15 L242.01,36.42 L242.06,36.70 L242.11,37.01 L242.16,37.35 L242.20,37.70 L242.25,38.09 L242.30,38.50 L242.35,38.94 L242.39,39.41 L242.44,39.91 L242.49,40.44 L242.53,41.01 L242.58,41.61 L242.63,42.25 L242.68,42.93 L242.72,43.65 L242.77,44.42 L242.82,45.24 L242.87,46.11 L242.91,47.03 L242.96,48.02 L243.01,49.07 L243.06,50.19 L243.10,51.39 L243.15,52.67 L243.20,54.05 L243.25,55.53 L243.29,57.12 L243.34,58.85 L243.39,60.72 L243.43,62.75 L243.48,64.98 L243.53,67.44 L243.58,70.16 L243.62,73.21 L243.67,76.65 L243.72,80.60 L243.77,85.20 L243.81,90.69 L243.86,97.47 L243.91,106.29 L243.96,118.80 L244.00,140.33 L244.05,267.13 L244.10,140.33 L244.14,118.80 L244.19,106.29 L244.24,97.47 L244.29,90.69 L244.33,85.20 L244.38,80.60 L244.43,76.65 L244.48,73.21 L244.52,70.16 L244.57,67.44 L244.62,64.98 L244.67,62.75 L244.71,60.72 L244.76,58.85 L244.81,57.12 L244.85,55.53 L244.90,54.05 L244.95,52.67 L245.00,51.39 L245.04,50.19 L245.09,49.07 L245.14,48.02 L245.19,47.03 L245.23,46.11 L245.28,45.24 L245.33,44.42 L245.38,43.65 L245.42,42.93 L245.47,42.25 L245.52,41.61 L245.57,41.01 L245.61,40.44 L245.66,39.91 L245.71,39.41 L245.75,38.94 L245.80,38.50 L245.85,38.09 L245.90,37.70 L245.94,37.35 L245.99,37.01 L246.04,36.70 L246.09,36.42 L246.13,36.15 L246.18,35.91 L246.23,35.69 L246.28,35.49 L246.32,35.31 L246.37,35.14 L246.42,35.00 L246.46,34.87 L246.51,34.77 L246.56,34.67 L246.61,34.60 L246.65,34.54 L246.70,34.50 L246.75,34.47 L246.80,34.46 L246.84,34.47 L246.89,34.49 L246.94,34.52 L246.99,34.57 L247.03,34.64 L247.08,34.71 L247.13,34.80 L247.17,34.91 L247.22,35.03 L247.27,35.16 L247.32,35.31 L247.36,35.46 L247.41,35.64 L247.46,35.82 L247.51,36.02 L247.55,36.23 L247.60,36.45 L247.65,36.69 L247.70,36.94 L247.74,37.20 L247.79,37.48 L247.84,37.77 L247.89,38.07 L247.93,38.38 L247.98,38.71 L248.03,39.05 L248.07,39.40 L248.12,39.77 L248.17,40.15 L248.22,40.54 L248.26,40.95 L248.31,41.37 L248.36,41.80 L248.41,42.25 L248.45,42.71 L248.50,43.18 L248.55,43.67 L248.60,44.18 L248.64,44.69 L248.69,45.23 L248.74,45.77 L248.78,46.34 L248.83,46.92 L248.88,47.51 L248.93,48.12 L248.97,48.75 L249.02,49.39 L249.07,50.05 L249.12,50.73 L249.16,51.43 L249.21,52.15 L249.26,52.88 L249.31,53.63 L249.35,54.41 L249.40,55.20 L249.45,56.02 L249.49,56.85 L249.54,57.71 L249.59,58.60 L249.64,59.50 L249.68,60.44 L249.73,61.39 L249.78,62.38 L249.83,63.39 L249.87,64.43 L249.92,65.50 L249.97,66.60 L250.02,67.74 L250.06,68.90 L250.11,70.11 L250.16,71.35 L250.21,72.63 L250.25,73.96 L250.30,75.32 L250.35,76.74 L250.39,78.20 L250.44,79.72 L250.49,81.29 L250.54,82.92 L250.58,84.61 L250.63,86.37 L250.68,88.21 L250.73,90.12 L250.77,92.12 L250.82,94.21 L250.87,96.40 L250.92,98.70 L250.96,101.12 L251.01,103.68 L251.06,106.39 L251.10,109.26 L251.15,112.33 L251.20,115.61 L251.25,119.14 L251.29,122.95 L251.34,127.10 L251.39,131.65 L251.44,136.69 L251.48,142.33 L251.53,148.74 L251.58,156.16 L251.63,164.96 L251.67,175.79 L251.72,189.86 L251.77,210.02 L251.81,246.04 L251.86,267.13 L251.91,267.13 L251.96,267.13 L252.00,258.59 L252.05,248.65 L252.10,240.91 L252.15,234.57 L252.19,229.23 L252.24,224.62 L252.29,220.57 L252.34,216.98 L252.38,213.75 L252.43,210.84 L252.48,208.19 L252.53,205.76 L252.57,203.53 L252.62,201.48 L252.67,199.58 L252.71,197.82 L252.76,196.19 L252.81,194.68 L252.86,193.27 L252.90,191.97 L252.95,190.75 L253.00,189.62 L253.05,188.58 L253.09,187.60 L253.14,186.70 L253.19,185.87 L253.24,185.11 L253.28,184.40 L253.33,183.76 L253.38,183.18 L253.42,182.65 L253.47,182.18 L253.52,181.76 L253.57,181.39 L253.61,181.07 L253.66,180.81 L253.71,180.59 L253.76,180.42 L253.80,180.31 L253.85,180.23 L253.90,180.21 L253.95,180.24 L253.99,180.31 L254.04,180.43 L254.09,180.60 L254.13,180.82 L254.18,181.08 L254.23,181.40 L254.28,181.77 L254.32,182.19 L254.37,182.67 L254.42,183.19 L254.47,183.78 L254.51,184.42 L254.56,185.13 L254.61,185.89 L254.66,186.72 L254.70,187.63 L254.75,188.60 L254.80,189.65 L254.85,190.77 L254.89,191.99 L254.94,193.30 L254.99,194.70 L255.03,196.21 L255.08,197.84 L255.13,199.59 L255.18,201.49 L255.22,203.54 L255.27,205.76 L255.32,208.18 L255.37,210.83 L255.41,213.74 L255.46,216.95 L255.51,220.53 L255.56,224.56 L255.60,229.15 L255.65,234.46 L255.70,240.75 L255.74,248.43 L255.79,258.27 L255.84,267.13 L255.89,267.13 L255.93,267.13 L255.98,267.13 L256.03,267.13 L256.08,255.83 L256.12,244.99 L256.17,236.71 L256.22,230.04 L256.27,224.47 L256.31,219.71 L256.36,215.57 L256.41,211.91 L256.45,208.65 L256.50,205.73 L256.55,203.09 L256.60,200.69 L256.64,198.51 L256.69,196.52 L256.74,194.69 L256.79,193.02 L256.83,191.49 L256.88,190.09 L256.93,188.81 L256.98,187.63 L257.02,186.56 L257.07,185.59 L257.12,184.71 L257.17,183.92 L257.21,183.21 L257.26,182.58 L257.31,182.03 L257.35,181.56 L257.40,181.15 L257.45,180.83 L257.50,180.57 L257.54,180.38 L257.59,180.26 L257.64,180.21 L257.69,180.24 L257.73,180.35 L257.78,180.52 L257.83,180.76 L257.88,181.07 L257.92,181.45 L257.97,181.90 L258.02,182.43 L258.06,183.04 L258.11,183.72 L258.16,184.49 L258.21,185.34 L258.25,186.28 L258.30,187.32 L258.35,188.46 L258.40,189.70 L258.44,191.06 L258.49,192.54 L258.54,194.16 L258.59,195.91 L258.63,197.83 L258.68,199.93 L258.73,202.23 L258.77,204.76 L258.82,207.54 L258.87,210.63 L258.92,214.08 L258.96,217.97 L259.01,222.41 L259.06,227.54 L259.11,233.59 L259.15,240.95 L259.20,250.28 L259.25,262.97 L259.30,267.13 L259.34,267.13 L259.39,267.13 L259.44,267.13 L259.49,259.04 L259.53,247.53 L259.58,238.88 L259.63,231.97 L259.67,226.24 L259.72,221.35 L259.77,217.12 L259.82,213.39 L259.86,210.08 L259.91,207.11 L259.96,204.43 L260.01,202.00 L260.05,199.79 L260.10,197.78 L260.15,195.94 L260.20,194.25 L260.24,192.70 L260.29,191.29 L260.34,189.99 L260.38,188.81 L260.43,187.73 L260.48,186.75 L260.53,185.86 L260.57,185.06 L260.62,184.35 L260.67,183.71 L260.72,183.16 L260.76,182.68 L260.81,182.27 L260.86,181.94 L260.91,181.67 L260.95,181.48 L261.00,181.35 L261.05,181.29 L261.10,181.31 L261.14,181.38 L261.19,181.53 L261.24,181.75 L261.28,182.03 L261.33,182.39 L261.38,182.82 L261.43,183.32 L261.47,183.89 L261.52,184.54 L261.57,185.28 L261.62,186.09 L261.66,187.00 L261.71,187.99 L261.76,189.09 L261.81,190.28 L261.85,191.59 L261.90,193.01 L261.95,194.56 L261.99,196.25 L262.04,198.09 L262.09,200.10 L262.14,202.30 L262.18,204.71 L262.23,207.36 L262.28,210.29 L262.33,213.56 L262.37,217.21 L262.42,221.36 L262.47,226.11 L262.52,231.66 L262.56,238.29 L262.61,246.49 L262.66,257.21 L262.70,267.13 L262.75,267.13 L262.80,267.13 L262.85,267.13 L262.89,267.13 L262.94,254.30 L262.99,244.39 L263.04,236.68 L263.08,230.39 L263.13,225.10 L263.18,220.55 L263.23,216.58 L263.27,213.06 L263.32,209.92 L263.37,207.10 L263.42,204.55 L263.46,202.23 L263.51,200.12 L263.56,198.18 L263.60,196.42 L263.65,194.80 L263.70,193.32 L263.75,191.96 L263.79,190.71 L263.84,189.58 L263.89,188.54 L263.94,187.60 L263.98,186.75 L264.03,185.99 L264.08,185.31 L264.13,184.71 L264.17,184.18 L264.22,183.73 L264.27,183.35 L264.31,183.04 L264.36,182.80 L264.41,182.63 L264.46,182.53 L264.50,182.49 L264.55,182.54 L264.60,182.65 L264.65,182.82 L264.69,183.07 L264.74,183.39 L264.79,183.77 L264.84,184.23 L264.88,184.76 L264.93,185.36 L264.98,186.04 L265.02,186.80 L265.07,187.65 L265.12,188.58 L265.17,189.60 L265.21,190.72 L265.26,191.95 L265.31,193.28 L265.36,194.73 L265.40,196.31 L265.45,198.03 L265.50,199.90 L265.55,201.94 L265.59,204.17 L265.64,206.62 L265.69,209.31 L265.74,212.28 L265.78,215.59 L265.83,219.30 L265.88,223.50 L265.92,228.33 L265.97,233.97 L266.02,240.72 L266.07,249.11 L266.11,260.12 L266.16,267.13 L266.21,267.13 L266.26,267.13 L266.30,267.13 L266.35,267.13 L266.40,255.28 L266.45,245.60 L266.49,238.05 L266.54,231.87 L266.59,226.66 L266.63,222.18 L266.68,218.25 L266.73,214.78 L266.78,211.68 L266.82,208.89 L266.87,206.37 L266.92,204.08 L266.97,201.99 L267.01,200.08 L267.06,198.33 L267.11,196.73 L267.16,195.27 L267.20,193.93 L267.25,192.70 L267.30,191.58 L267.34,190.55 L267.39,189.63 L267.44,188.79 L267.49,188.04 L267.53,187.37 L267.58,186.77 L267.63,186.26 L267.68,185.81 L267.72,185.44 L267.77,185.14 L267.82,184.91 L267.87,184.74 L267.91,184.64 L267.96,184.61 L268.01,184.65 L268.06,184.75 L268.10,184.92 L268.15,185.16 L268.20,185.46 L268.24,185.84 L268.29,186.28 L268.34,186.80 L268.39,187.39 L268.43,188.05 L268.48,188.79 L268.53,189.62 L268.58,190.53 L268.62,191.53 L268.67,192.62 L268.72,193.82 L268.77,195.12 L268.81,196.53 L268.86,198.07 L268.91,199.74 L268.95,201.56 L269.00,203.54 L269.05,205.70 L269.10,208.07 L269.14,210.66 L269.19,213.53 L269.24,216.70 L269.29,220.25 L269.33,224.25 L269.38,228.81 L269.43,234.10 L269.48,240.37 L269.52,248.02 L269.57,257.81 L269.62,267.13 L269.66,267.13 L269.71,267.13 L269.76,267.13 L269.81,267.13 L269.85,262.61 L269.90,251.73 L269.95,243.44 L270.00,236.78 L270.04,231.22 L270.09,226.47 L270.14,222.34 L270.19,218.70 L270.23,215.46 L270.28,212.55 L270.33,209.93 L270.38,207.55 L270.42,205.38 L270.47,203.40 L270.52,201.59 L270.56,199.93 L270.61,198.41 L270.66,197.02 L270.71,195.74 L270.75,194.58 L270.80,193.51 L270.85,192.54 L270.90,191.66 L270.94,190.87 L270.99,190.16 L271.04,189.53 L271.09,188.98 L271.13,188.50 L271.18,188.09 L271.23,187.75 L271.27,187.48 L271.32,187.28 L271.37,187.14 L271.42,187.07 L271.46,187.06 L271.51,187.13 L271.56,187.26 L271.61,187.45 L271.65,187.72 L271.70,188.04 L271.75,188.44 L271.80,188.91 L271.84,189.44 L271.89,190.05 L271.94,190.73 L271.98,191.50 L272.03,192.34 L272.08,193.27 L272.13,194.29 L272.17,195.40 L272.22,196.61 L272.27,197.92 L272.32,199.35 L272.36,200.91 L272.41,202.60 L272.46,204.43 L272.51,206.43 L272.55,208.61 L272.60,210.99 L272.65,213.60 L272.70,216.48 L272.74,219.68 L272.79,223.25 L272.84,227.27 L272.88,231.86 L272.93,237.18 L272.98,243.49 L273.03,251.19 L273.07,261.07 L273.12,267.13 L273.17,267.13 L273.22,267.13 L273.26,267.13 L273.31,267.13 L273.36,265.23 L273.41,254.45 L273.45,246.22 L273.50,239.60 L273.55,234.07 L273.59,229.34 L273.64,225.23 L273.69,221.60 L273.74,218.37 L273.78,215.47 L273.83,212.86 L273.88,210.48 L273.93,208.32 L273.97,206.35 L274.02,204.54 L274.07,202.88 L274.12,201.37 L274.16,199.98 L274.21,198.70 L274.26,197.53 L274.30,196.47 L274.35,195.50 L274.40,194.62 L274.45,193.82 L274.49,193.11 L274.54,192.47 L274.59,191.91 L274.64,191.43 L274.68,191.01 L274.73,190.67 L274.78,190.39 L274.83,190.17 L274.87,190.03 L274.92,189.94 L274.97,189.92 L275.02,189.96 L275.06,190.07 L275.11,190.23 L275.16,190.46 L275.20,190.76 L275.25,191.12 L275.30,191.55 L275.35,192.05 L275.39,192.62 L275.44,193.26 L275.49,193.98 L275.54,194.77 L275.58,195.65 L275.63,196.61 L275.68,197.67 L275.73,198.82 L275.77,200.06 L275.82,201.42 L275.87,202.90 L275.91,204.50 L275.96,206.24 L276.01,208.13 L276.06,210.19 L276.10,212.44 L276.15,214.90 L276.20,217.60 L276.25,220.59 L276.29,223.91 L276.34,227.62 L276.39,231.83 L276.44,236.66 L276.48,242.30 L276.53,249.05 L276.58,257.42 L276.62,267.13 L276.67,267.13 L276.72,267.13 L276.77,267.13 L276.81,267.13 L276.86,267.13 L276.91,263.81 L276.96,254.11 L277.00,246.54 L277.05,240.34 L277.10,235.12 L277.15,230.62 L277.19,226.69 L277.24,223.20 L277.29,220.09 L277.34,217.29 L277.38,214.75 L277.43,212.44 L277.48,210.34 L277.52,208.41 L277.57,206.64 L277.62,205.02 L277.67,203.54 L277.71,202.17 L277.76,200.92 L277.81,199.77 L277.86,198.72 L277.90,197.77 L277.95,196.90 L278.00,196.11 L278.05,195.41 L278.09,194.78 L278.14,194.22 L278.19,193.74 L278.23,193.32 L278.28,192.98 L278.33,192.70 L278.38,192.48 L278.42,192.33 L278.47,192.24 L278.52,192.21 L278.57,192.25 L278.61,192.36 L278.66,192.54 L278.71,192.77 L278.76,193.07 L278.80,193.44 L278.85,193.87 L278.90,194.36 L278.94,194.93 L278.99,195.57 L279.04,196.28 L279.09,197.07 L279.13,197.94 L279.18,198.89 L279.23,199.93 L279.28,201.06 L279.32,202.29 L279.37,203.62 L279.42,205.07 L279.47,206.64 L279.51,208.34 L279.56,210.18 L279.61,212.19 L279.66,214.38 L279.70,216.77 L279.75,219.38 L279.80,222.27 L279.84,225.46 L279.89,229.02 L279.94,233.04 L279.99,237.61 L280.03,242.91 L280.08,249.18 L280.13,256.83 L280.18,266.61 L280.22,267.13 L280.27,267.13 L280.32,267.13 L280.37,267.13 L280.41,267.13 L280.46,267.13 L280.51,260.76 L280.55,252.46 L280.60,245.78 L280.65,240.22 L280.70,235.46 L280.74,231.32 L280.79,227.67 L280.84,224.42 L280.89,221.51 L280.93,218.87 L280.98,216.48 L281.03,214.30 L281.08,212.31 L281.12,210.48 L281.17,208.81 L281.22,207.27 L281.26,205.85 L281.31,204.56 L281.36,203.37 L281.41,202.28 L281.45,201.28 L281.50,200.38 L281.55,199.55 L281.60,198.81 L281.64,198.15 L281.69,197.56 L281.74,197.04 L281.79,196.59 L281.83,196.20 L281.88,195.89 L281.93,195.63 L281.98,195.44 L282.02,195.31 L282.07,195.25 L282.12,195.24 L282.16,195.30 L282.21,195.41 L282.26,195.58 L282.31,195.81 L282.35,196.11 L282.40,196.47 L282.45,196.89 L282.50,197.38 L282.54,197.94 L282.59,198.57 L282.64,199.27 L282.69,200.05 L282.73,200.90 L282.78,201.83 L282.83,202.85 L282.87,203.97 L282.92,205.17 L282.97,206.48 L283.02,207.90 L283.06,209.44 L283.11,211.10 L283.16,212.91 L283.21,214.87 L283.25,217.00 L283.30,219.33 L283.35,221.89 L283.40,224.69 L283.44,227.79 L283.49,231.24 L283.54,235.12 L283.58,239.53 L283.63,244.61 L283.68,250.58 L283.73,257.79 L283.77,266.88 L283.82,267.13 L283.87,267.13 L283.92,267.13 L283.96,267.13 L284.01,267.13 L284.06,267.13 L284.11,266.56 L284.15,257.67 L284.20,250.61 L284.25,244.76 L284.30,239.80 L284.34,235.49 L284.39,231.71 L284.44,228.35 L284.48,225.33 L284.53,222.61 L284.58,220.14 L284.63,217.89 L284.67,215.83 L284.72,213.95 L284.77,212.21 L284.82,210.62 L284.86,209.16 L284.91,207.81 L284.96,206.57 L285.01,205.44 L285.05,204.40 L285.10,203.44 L285.15,202.58 L285.19,201.79 L285.24,201.08 L285.29,200.44 L285.34,199.88 L285.38,199.38 L285.43,198.95 L285.48,198.59 L285.53,198.29 L285.57,198.05 L285.62,197.87 L285.67,197.76 L285.72,197.70 L285.76,197.70 L285.81,197.77 L285.86,197.89 L285.90,198.08 L285.95,198.32 L286.00,198.63 L286.05,199.00 L286.09,199.43 L286.14,199.93 L286.19,200.49 L286.24,201.12 L286.28,201.82 L286.33,202.59 L286.38,203.44 L286.43,204.37 L286.47,205.39 L286.52,206.49 L286.57,207.68 L286.62,208.98 L286.66,210.38 L286.71,211.90 L286.76,213.54 L286.80,215.32 L286.85,217.25 L286.90,219.35 L286.95,221.64 L286.99,224.13 L287.04,226.88 L287.09,229.90 L287.14,233.26 L287.18,237.03 L287.23,241.29 L287.28,246.18 L287.33,251.89 L287.37,258.74 L287.42,267.13 L287.47,267.13 L287.51,267.13 L287.56,267.13 L287.61,267.13 L287.66,267.13 L287.70,267.13 L287.75,267.13 L287.80,262.81 L287.85,255.34 L287.89,249.21 L287.94,244.03 L287.99,239.57 L288.04,235.66 L288.08,232.19 L288.13,229.08 L288.18,226.28 L288.22,223.74 L288.27,221.43 L288.32,219.32 L288.37,217.38 L288.41,215.60 L288.46,213.97 L288.51,212.46 L288.56,211.07 L288.60,209.80 L288.65,208.62 L288.70,207.54 L288.75,206.55 L288.79,205.65 L288.84,204.83 L288.89,204.08 L288.94,203.41 L288.98,202.81 L289.03,202.28 L289.08,201.81 L289.12,201.41 L289.17,201.07 L289.22,200.79 L289.27,200.57 L289.31,200.41 L289.36,200.31 L289.41,200.27 L289.46,200.29 L289.50,200.36 L289.55,200.49 L289.60,200.67 L289.65,200.92 L289.69,201.23 L289.74,201.59 L289.79,202.02 L289.83,202.51 L289.88,203.07 L289.93,203.69 L289.98,204.38 L290.02,205.14 L290.07,205.97 L290.12,206.88 L290.17,207.88 L290.21,208.96 L290.26,210.13 L290.31,211.39 L290.36,212.76 L290.40,214.24 L290.45,215.84 L290.50,217.58 L290.54,219.45 L290.59,221.49 L290.64,223.71 L290.69,226.12 L290.73,228.77 L290.78,231.69 L290.83,234.91 L290.88,238.52 L290.92,242.57 L290.97,247.20 L291.02,252.57 L291.07,258.93 L291.11,266.72 L291.16,267.13 L291.21,267.13 L291.26,267.13 L291.30,267.13 L291.35,267.13 L291.40,267.13 L291.44,267.13 L291.49,267.13 L291.54,260.98 L291.59,254.38 L291.63,248.87 L291.68,244.15 L291.73,240.03 L291.78,236.39 L291.82,233.14 L291.87,230.22 L291.92,227.57 L291.97,225.16 L292.01,222.96 L292.06,220.95 L292.11,219.10 L292.15,217.39 L292.20,215.82 L292.25,214.37 L292.30,213.04 L292.34,211.81 L292.39,210.67 L292.44,209.63 L292.49,208.68 L292.53,207.80 L292.58,207.00 L292.63,206.28 L292.68,205.63 L292.72,205.04 L292.77,204.52 L292.82,204.07 L292.86,203.68 L292.91,203.35 L292.96,203.07 L293.01,202.86 L293.05,202.70 L293.10,202.60 L293.15,202.56 L293.20,202.57 L293.24,202.63 L293.29,202.75 L293.34,202.92 L293.39,203.15 L293.43,203.43 L293.48,203.78 L293.53,204.18 L293.58,204.65 L293.62,205.18 L293.67,205.77 L293.72,206.43 L293.76,207.15 L293.81,207.95 L293.86,208.82 L293.91,209.77 L293.95,210.80 L294.00,211.92 L294.05,213.12 L294.10,214.43 L294.14,215.84 L294.19,217.37 L294.24,219.02 L294.29,220.80 L294.33,222.73 L294.38,224.83 L294.43,227.11 L294.47,229.60 L294.52,232.34 L294.57,235.35 L294.62,238.70 L294.66,242.45 L294.71,246.68 L294.76,251.54 L294.81,257.21 L294.85,264.00 L294.90,267.13 L294.95,267.13 L295.00,267.13 L295.04,267.13 L295.09,267.13 L295.14,267.13 L295.18,267.13 L295.23,267.13 L295.28,267.13 L295.33,261.01 L295.37,254.82 L295.42,249.59 L295.47,245.08 L295.52,241.12 L295.56,237.61 L295.61,234.47 L295.66,231.63 L295.71,229.05 L295.75,226.70 L295.80,224.55 L295.85,222.57 L295.90,220.75 L295.94,219.07 L295.99,217.52 L296.04,216.09 L296.08,214.77 L296.13,213.55 L296.18,212.42 L296.23,211.38 L296.27,210.43 L296.32,209.55 L296.37,208.75 L296.42,208.02 L296.46,207.36 L296.51,206.77 L296.56,206.24 L296.61,205.77 L296.65,205.36 L296.70,205.01 L296.75,204.72 L296.79,204.49 L296.84,204.31 L296.89,204.18 L296.94,204.11 L296.98,204.10 L297.03,204.14 L297.08,204.23 L297.13,204.38 L297.17,204.58 L297.22,204.84 L297.27,205.15 L297.32,205.52 L297.36,205.95 L297.41,206.44 L297.46,206.99 L297.51,207.60 L297.55,208.28 L297.60,209.02 L297.65,209.83 L297.69,210.72 L297.74,211.68 L297.79,212.72 L297.84,213.84 L297.88,215.06 L297.93,216.37 L297.98,217.79 L298.03,219.32 L298.07,220.97 L298.12,222.75 L298.17,224.68 L298.22,226.78 L298.26,229.05 L298.31,231.54 L298.36,234.26 L298.40,237.25 L298.45,240.58 L298.50,244.29 L298.55,248.48 L298.59,253.29 L298.64,258.88 L298.69,265.56 L298.74,267.13 L298.78,267.13 L298.83,267.13 L298.88,267.13 L298.93,267.13 L298.97,267.13 L299.02,267.13 L299.07,267.13 L299.11,267.13 L299.16,263.81 L299.21,257.52 L299.26,252.21 L299.30,247.64 L299.35,243.64 L299.40,240.08 L299.45,236.90 L299.49,234.03 L299.54,231.42 L299.59,229.04 L299.64,226.86 L299.68,224.86 L299.73,223.02 L299.78,221.31 L299.83,219.74 L299.87,218.28 L299.92,216.94 L299.97,215.69 L300.01,214.54 L300.06,213.47 L300.11,212.49 L300.16,211.59 L300.20,210.76 L300.25,210.00 L300.30,209.31 L300.35,208.69 L300.39,208.13 L300.44,207.63 L300.49,207.19 L300.54,206.80 L300.58,206.47 L300.63,206.20 L300.68,205.98 L300.72,205.82 L300.77,205.71 L300.82,205.65 L300.87,205.64 L300.91,205.68 L300.96,205.78 L301.01,205.93 L301.06,206.14 L301.10,206.39 L301.15,206.70 L301.20,207.07 L301.25,207.49 L301.29,207.97 L301.34,208.50 L301.39,209.10 L301.43,209.75 L301.48,210.48 L301.53,211.26 L301.58,212.12 L301.62,213.05 L301.67,214.06 L301.72,215.14 L301.77,216.32 L301.81,217.58 L301.86,218.94 L301.91,220.40 L301.96,221.98 L302.00,223.69 L302.05,225.53 L302.10,227.52 L302.15,229.67 L302.19,232.02 L302.24,234.58 L302.29,237.39 L302.33,240.48 L302.38,243.92 L302.43,247.77 L302.48,252.14 L302.52,257.15 L302.57,263.03 L302.62,267.13 L302.67,267.13 L302.71,267.13 L302.76,267.13 L302.81,267.13 L302.86,267.13 L302.90,267.13 L302.95,267.13 L303.00,267.13 L303.04,267.13 L303.09,264.20 L303.14,258.23 L303.19,253.15 L303.23,248.76 L303.28,244.89 L303.33,241.45 L303.38,238.35 L303.42,235.56 L303.47,233.01 L303.52,230.68 L303.57,228.55 L303.61,226.58 L303.66,224.77 L303.71,223.09 L303.75,221.54 L303.80,220.10 L303.85,218.77 L303.90,217.54 L303.94,216.39 L303.99,215.34 L304.04,214.36 L304.09,213.46 L304.13,212.63 L304.18,211.87 L304.23,211.18 L304.28,210.54 L304.32,209.97 L304.37,209.46 L304.42,209.01 L304.47,208.61 L304.51,208.27 L304.56,207.98 L304.61,207.74 L304.65,207.55 L304.70,207.42 L304.75,207.33 L304.80,207.30 L304.84,207.31 L304.89,207.37 L304.94,207.48 L304.99,207.64 L305.03,207.85 L305.08,208.12 L305.13,208.43 L305.18,208.80 L305.22,209.22 L305.27,209.69 L305.32,210.22 L305.36,210.81 L305.41,211.46 L305.46,212.17 L305.51,212.94 L305.55,213.78 L305.60,214.69 L305.65,215.67 L305.70,216.73 L305.74,217.87 L305.79,219.10 L305.84,220.42 L305.89,221.84 L305.93,223.37 L305.98,225.01 L306.03,226.79 L306.07,228.70 L306.12,230.77 L306.17,233.02 L306.22,235.47 L306.26,238.14 L306.31,241.08 L306.36,244.33 L306.41,247.95 L306.45,252.02 L306.50,256.66 L306.55,262.04 L306.60,267.13 L306.64,267.13 L306.69,267.13 L306.74,267.13 L306.79,267.13 L306.83,267.13 L306.88,267.13 L306.93,267.13 L306.97,267.13 L307.02,267.13 L307.07,267.13 L307.12,263.65 L307.16,258.11 L307.21,253.36 L307.26,249.21 L307.31,245.53 L307.35,242.24 L307.40,239.28 L307.45,236.59 L307.50,234.13 L307.54,231.88 L307.59,229.80 L307.64,227.89 L307.68,226.12 L307.73,224.49 L307.78,222.97 L307.83,221.56 L307.87,220.25 L307.92,219.04 L307.97,217.91 L308.02,216.86 L308.06,215.89 L308.11,215.00 L308.16,214.17 L308.21,213.41 L308.25,212.72 L308.30,212.08 L308.35,211.51 L308.39,210.99 L308.44,210.52 L308.49,210.11 L308.54,209.75 L308.58,209.44 L308.63,209.19 L308.68,208.98 L308.73,208.82 L308.77,208.71 L308.82,208.64 L308.87,208.63 L308.92,208.66 L308.96,208.74 L309.01,208.87 L309.06,209.04 L309.11,209.27 L309.15,209.54 L309.20,209.86 L309.25,210.23 L309.29,210.65 L309.34,211.13 L309.39,211.66 L309.44,212.24 L309.48,212.88 L309.53,213.58 L309.58,214.34 L309.63,215.17 L309.67,216.06 L309.72,217.02 L309.77,218.05 L309.82,219.16 L309.86,220.36 L309.91,221.64 L309.96,223.01 L310.00,224.49 L310.05,226.08 L310.10,227.78 L310.15,229.62 L310.19,231.61 L310.24,233.75 L310.29,236.08 L310.34,238.62 L310.38,241.40 L310.43,244.45 L310.48,247.84 L310.53,251.62 L310.57,255.89 L310.62,260.78 L310.67,266.49 L310.71,267.13 L310.76,267.13 L310.81,267.13 L310.86,267.13 L310.90,267.13 L310.95,267.13 L311.00,267.13 L311.05,267.13 L311.09,267.13 L311.14,267.13 L311.19,267.13 L311.24,263.79 L311.28,258.56 L311.33,254.04 L311.38,250.07 L311.43,246.53 L311.47,243.36 L311.52,240.49 L311.57,237.88 L311.61,235.49 L311.66,233.29 L311.71,231.27 L311.76,229.39 L311.80,227.66 L311.85,226.05 L311.90,224.56 L311.95,223.17 L311.99,221.88 L312.04,220.67 L312.09,219.56 L312.14,218.52 L312.18,217.55 L312.23,216.66 L312.28,215.83 L312.32,215.07 L312.37,214.37 L312.42,213.72 L312.47,213.14 L312.51,212.60 L312.56,212.12 L312.61,211.70 L312.66,211.32 L312.70,210.99 L312.75,210.71 L312.80,210.48 L312.85,210.29 L312.89,210.15 L312.94,210.06 L312.99,210.01 L313.03,210.00 L313.08,210.04 L313.13,210.12 L313.18,210.25 L313.22,210.42 L313.27,210.64 L313.32,210.90 L313.37,211.21 L313.41,211.57 L313.46,211.98 L313.51,212.43 L313.56,212.94 L313.60,213.50 L313.65,214.11 L313.70,214.78 L313.75,215.50 L313.79,216.29 L313.84,217.14 L313.89,218.05 L313.93,219.03 L313.98,220.08 L314.03,221.21 L314.08,222.42 L314.12,223.72 L314.17,225.11 L314.22,226.59 L314.27,228.19 L314.31,229.91 L314.36,231.76 L314.41,233.75 L314.46,235.90 L314.50,238.24 L314.55,240.78 L314.60,243.55 L314.64,246.61 L314.69,249.99 L314.74,253.77 L314.79,258.03 L314.83,262.91 L314.88,267.13 L314.93,267.13 L314.98,267.13 L315.02,267.13 L315.07,267.13 L315.12,267.13 L315.17,267.13 L315.21,267.13 L315.26,267.13 L315.31,267.13 L315.35,267.13 L315.40,267.13 L315.45,266.12 L315.50,260.86 L315.54,256.31 L315.59,252.32 L315.64,248.76 L315.69,245.57 L315.73,242.68 L315.78,240.05 L315.83,237.64 L315.88,235.42 L315.92,233.37 L315.97,231.48 L316.02,229.72 L316.07,228.09 L316.11,226.57 L316.16,225.16 L316.21,223.84 L316.25,222.61 L316.30,221.47 L316.35,220.40 L316.40,219.40 L316.44,218.48 L316.49,217.62 L316.54,216.82 L316.59,216.08 L316.63,215.40 L316.68,214.78 L316.73,214.21 L316.78,213.69 L316.82,213.22 L316.87,212.80 L316.92,212.42 L316.96,212.10 L317.01,211.81 L317.06,211.58 L317.11,211.38 L317.15,211.23 L317.20,211.12 L317.25,211.06 L317.30,211.04 L317.34,211.06 L317.39,211.12 L317.44,211.23 L317.49,211.38 L317.53,211.57 L317.58,211.80 L317.63,212.08 L317.67,212.40 L317.72,212.77 L317.77,213.18 L317.82,213.65 L317.86,214.15 L317.91,214.71 L317.96,215.32 L318.01,215.98 L318.05,216.70 L318.10,217.47 L318.15,218.30 L318.20,219.19 L318.24,220.15 L318.29,221.17 L318.34,222.27 L318.39,223.44 L318.43,224.69 L318.48,226.03 L318.53,227.47 L318.57,229.00 L318.62,230.64 L318.67,232.41 L318.72,234.31 L318.76,236.35 L318.81,238.56 L318.86,240.95 L318.91,243.56 L318.95,246.41 L319.00,249.55 L319.05,253.03 L319.10,256.92 L319.14,261.32 L319.19,266.38 L319.24,267.13 L319.28,267.13 L319.33,267.13 L319.38,267.13 L319.43,267.13 L319.47,267.13 L319.52,267.13 L319.57,267.13 L319.62,267.13 L319.66,267.13 L319.71,267.13 L319.76,267.13 L319.81,267.03 L319.85,261.95 L319.90,257.54 L319.95,253.65 L319.99,250.18 L320.04,247.06 L320.09,244.22 L320.14,241.63 L320.18,239.26 L320.23,237.07 L320.28,235.05 L320.33,233.17 L320.37,231.43 L320.42,229.81 L320.47,228.29 L320.52,226.88 L320.56,225.57 L320.61,224.34 L320.66,223.19 L320.71,222.11 L320.75,221.11 L320.80,220.17 L320.85,219.30 L320.89,218.49 L320.94,217.73 L320.99,217.03 L321.04,216.39 L321.08,215.80 L321.13,215.25 L321.18,214.75 L321.23,214.30 L321.27,213.90 L321.32,213.54 L321.37,213.22 L321.42,212.95 L321.46,212.72 L321.51,212.52 L321.56,212.37 L321.60,212.26 L321.65,212.19 L321.70,212.16 L321.75,212.17 L321.79,212.22 L321.84,212.30 L321.89,212.43 L321.94,212.59 L321.98,212.80 L322.03,213.04 L322.08,213.33 L322.13,213.66 L322.17,214.03 L322.22,214.45 L322.27,214.91 L322.31,215.41 L322.36,215.96 L322.41,216.56 L322.46,217.21 L322.50,217.90 L322.55,218.65 L322.60,219.46 L322.65,220.32 L322.69,221.25 L322.74,222.24 L322.79,223.29 L322.84,224.42 L322.88,225.62 L322.93,226.90 L322.98,228.26 L323.03,229.72 L323.07,231.28 L323.12,232.95 L323.17,234.74 L323.21,236.66 L323.26,238.73 L323.31,240.96 L323.36,243.38 L323.40,246.01 L323.45,248.89 L323.50,252.05 L323.55,255.56 L323.59,259.49 L323.64,263.93 L323.69,267.13 L323.74,267.13 L323.78,267.13 L323.83,267.13 L323.88,267.13 L323.92,267.13 L323.97,267.13 L324.02,267.13 L324.07,267.13 L324.11,267.13 L324.16,267.13 L324.21,267.13 L324.26,267.13 L324.30,267.13 L324.35,263.97 L324.40,259.59 L324.45,255.71 L324.49,252.26 L324.54,249.14 L324.59,246.30 L324.63,243.71 L324.68,241.34 L324.73,239.14 L324.78,237.11 L324.82,235.23 L324.87,233.47 L324.92,231.84 L324.97,230.31 L325.01,228.88 L325.06,227.54 L325.11,226.29 L325.16,225.12 L325.20,224.02 L325.25,223.00 L325.30,222.03 L325.35,221.13 L325.39,220.29 L325.44,219.51 L325.49,218.78 L325.53,218.10 L325.58,217.47 L325.63,216.88 L325.68,216.35 L325.72,215.86 L325.77,215.41 L325.82,215.00 L325.87,214.64 L325.91,214.32 L325.96,214.03 L326.01,213.79 L326.06,213.58 L326.10,213.42 L326.15,213.29 L326.20,213.19 L326.24,213.14 L326.29,213.12 L326.34,213.13 L326.39,213.19 L326.43,213.28 L326.48,213.41 L326.53,213.57 L326.58,213.77 L326.62,214.01 L326.67,214.29 L326.72,214.61 L326.77,214.96 L326.81,215.36 L326.86,215.79 L326.91,216.27 L326.95,216.79 L327.00,217.35 L327.05,217.96 L327.10,218.62 L327.14,219.32 L327.19,220.08 L327.24,220.88 L327.29,221.74 L327.33,222.66 L327.38,223.64 L327.43,224.68 L327.48,225.79 L327.52,226.96 L327.57,228.22 L327.62,229.55 L327.67,230.98 L327.71,232.49 L327.76,234.11 L327.81,235.84 L327.85,237.69 L327.90,239.68 L327.95,241.82 L328.00,244.13 L328.04,246.63 L328.09,249.36 L328.14,252.34 L328.19,255.63 L328.23,259.29 L328.28,263.39 L328.33,267.13 L328.38,267.13 L328.42,267.13 L328.47,267.13 L328.52,267.13 L328.56,267.13 L328.61,267.13 L328.66,267.13 L328.71,267.13 L328.75,267.13 L328.80,267.13 L328.85,267.13 L328.90,267.13 L328.94,267.13 L328.99,267.13 L329.04,264.83 L329.09,260.63 L329.13,256.90 L329.18,253.56 L329.23,250.53 L329.27,247.78 L329.32,245.25 L329.37,242.93 L329.42,240.78 L329.46,238.78 L329.51,236.93 L329.56,235.20 L329.61,233.58 L329.65,232.07 L329.70,230.65 L329.75,229.32 L329.80,228.08 L329.84,226.91 L329.89,225.81 L329.94,224.77 L329.99,223.80 L330.03,222.89 L330.08,222.04 L330.13,221.24 L330.17,220.49 L330.22,219.79 L330.27,219.14 L330.32,218.54 L330.36,217.98 L330.41,217.46 L330.46,216.98 L330.51,216.54 L330.55,216.15 L330.60,215.79 L330.65,215.46 L330.70,215.18 L330.74,214.93 L330.79,214.72 L330.84,214.54 L330.88,214.39 L330.93,214.28 L330.98,214.21 L331.03,214.16 L331.07,214.16 L331.12,214.18 L331.17,214.23 L331.22,214.32 L331.26,214.45 L331.31,214.61 L331.36,214.80 L331.41,215.02 L331.45,215.29 L331.50,215.58 L331.55,215.91 L331.60,216.28 L331.64,216.69 L331.69,217.13 L331.74,217.61 L331.78,218.13 L331.83,218.70 L331.88,219.30 L331.93,219.95 L331.97,220.64 L332.02,221.38 L332.07,222.17 L332.12,223.01 L332.16,223.90 L332.21,224.84 L332.26,225.85 L332.31,226.91 L332.35,228.05 L332.40,229.25 L332.45,230.52 L332.49,231.88 L332.54,233.32 L332.59,234.85 L332.64,236.48 L332.68,238.22 L332.73,240.09 L332.78,242.09 L332.83,244.23 L332.87,246.55 L332.92,249.06 L332.97,251.78 L333.02,254.77 L333.06,258.05 L333.11,261.69 L333.16,265.78 L333.20,267.13 L333.25,267.13 L333.30,267.13 L333.35,267.13 L333.39,267.13 L333.44,267.13 L333.49,267.13 L333.54,267.13 L333.58,267.13 L333.63,267.13 L333.68,267.13 L333.73,267.13 L333.77,267.13 L333.82,267.13 L333.87,267.13 L333.92,267.13 L333.96,263.37 L334.01,259.61 L334.06,256.24 L334.10,253.19 L334.15,250.41 L334.20,247.86 L334.25,245.50 L334.29,243.33 L334.34,241.31 L334.39,239.43 L334.44,237.67 L334.48,236.03 L334.53,234.48 L334.58,233.04 L334.63,231.68 L334.67,230.40 L334.72,229.20 L334.77,228.06 L334.81,227.00 L334.86,225.99 L334.91,225.04 L334.96,224.15 L335.00,223.31 L335.05,222.52 L335.10,221.78 L335.15,221.09 L335.19,220.44 L335.24,219.83 L335.29,219.26 L335.34,218.73 L335.38,218.25 L335.43,217.79 L335.48,217.38 L335.52,217.00 L335.57,216.65 L335.62,216.34 L335.67,216.06 L335.71,215.82 L335.76,215.61 L335.81,215.43 L335.86,215.28 L335.90,215.16 L335.95,215.07 L336.00,215.01 L336.05,214.99 L336.09,214.99 L336.14,215.02 L336.19,215.09 L336.24,215.18 L336.28,215.30 L336.33,215.46 L336.38,215.64 L336.42,215.86 L336.47,216.11 L336.52,216.39 L336.57,216.70 L336.61,217.05 L336.66,217.42 L336.71,217.84 L336.76,218.28 L336.80,218.77 L336.85,219.29 L336.90,219.84 L336.95,220.44 L336.99,221.07 L337.04,221.75 L337.09,222.47 L337.13,223.23 L337.18,224.04 L337.23,224.90 L337.28,225.81 L337.32,226.77 L337.37,227.79 L337.42,228.86 L337.47,230.00 L337.51,231.21 L337.56,232.48 L337.61,233.84 L337.66,235.27 L337.70,236.79 L337.75,238.42 L337.80,240.14 L337.84,241.98 L337.89,243.95 L337.94,246.07 L337.99,248.34 L338.03,250.80 L338.08,253.46 L338.13,256.37 L338.18,259.55 L338.22,263.08 L338.27,267.02 L338.32,267.13 L338.37,267.13 L338.41,267.13 L338.46,267.13 L338.51,267.13 L338.56,267.13 L338.60,267.13 L338.65,267.13 L338.70,267.13 L338.74,267.13 L338.79,267.13 L338.84,267.13 L338.89,267.13 L338.93,267.13 L338.98,267.13 L339.03,267.13 L339.08,267.13 L339.12,263.40 L339.17,259.90 L339.22,256.73 L339.27,253.85 L339.31,251.21 L339.36,248.78 L339.41,246.53 L339.45,244.44 L339.50,242.50 L339.55,240.68 L339.60,238.98 L339.64,237.38 L339.69,235.88 L339.74,234.47 L339.79,233.13 L339.83,231.88 L339.88,230.69 L339.93,229.57 L339.98,228.51 L340.02,227.51 L340.07,226.57 L340.12,225.67 L340.16,224.83 L340.21,224.03 L340.26,223.28 L340.31,222.57 L340.35,221.90 L340.40,221.28 L340.45,220.69 L340.50,220.14 L340.54,219.62 L340.59,219.14 L340.64,218.69 L340.69,218.28 L340.73,217.89 L340.78,217.54 L340.83,217.22 L340.88,216.93 L340.92,216.67 L340.97,216.44 L341.02,216.24 L341.06,216.07 L341.11,215.92 L341.16,215.81 L341.21,215.72 L341.25,215.65 L341.30,215.62 L341.35,215.61 L341.40,215.63 L341.44,215.67 L341.49,215.75 L341.54,215.85 L341.59,215.97 L341.63,216.13 L341.68,216.31 L341.73,216.52 L341.77,216.76 L341.82,217.02 L341.87,217.32 L341.92,217.64 L341.96,218.00 L342.01,218.38 L342.06,218.80 L342.11,219.24 L342.15,219.72 L342.20,220.23 L342.25,220.77 L342.30,221.35 L342.34,221.97 L342.39,222.62 L342.44,223.31 L342.48,224.04 L342.53,224.81 L342.58,225.63 L342.63,226.49 L342.67,227.40 L342.72,228.35 L342.77,229.36 L342.82,230.42 L342.86,231.55 L342.91,232.73 L342.96,233.98 L343.01,235.30 L343.05,236.70 L343.10,238.17 L343.15,239.74 L343.20,241.41 L343.24,243.18 L343.29,245.06 L343.34,247.08 L343.38,249.24 L343.43,251.57 L343.48,254.08 L343.53,256.80 L343.57,259.78 L343.62,263.04 L343.67,266.65 L343.72,267.13 L343.76,267.13 L343.81,267.13 L343.86,267.13 L343.91,267.13 L343.95,267.13 L344.00,267.13 L344.05,267.13 L344.09,267.13 L344.14,267.13 L344.19,267.13 L344.24,267.13 L344.28,267.13 L344.33,267.13 L344.38,267.13 L344.43,267.13 L344.47,267.13 L344.52,267.13 L344.57,265.52 L344.62,262.08 L344.66,258.96 L344.71,256.12 L344.76,253.51 L344.80,251.10 L344.85,248.87 L344.90,246.79 L344.95,244.85 L344.99,243.04 L345.04,241.34 L345.09,239.73 L345.14,238.23 L345.18,236.80 L345.23,235.46 L345.28,234.19 L345.33,232.99 L345.37,231.85 L345.42,230.77 L345.47,229.75 L345.52,228.78 L345.56,227.86 L345.61,226.98 L345.66,226.16 L345.70,225.37 L345.75,224.63 L345.80,223.92 L345.85,223.26 L345.89,222.63 L345.94,222.03 L345.99,221.47 L346.04,220.95 L346.08,220.45 L346.13,219.99 L346.18,219.55 L346.23,219.15 L346.27,218.77 L346.32,218.42 L346.37,218.10 L346.41,217.81 L346.46,217.54 L346.51,217.30 L346.56,217.08 L346.60,216.89 L346.65,216.72 L346.70,216.58 L346.75,216.46 L346.79,216.37 L346.84,216.30 L346.89,216.26 L346.94,216.23 L346.98,216.24 L347.03,216.26 L347.08,216.30 L347.12,216.37 L347.17,216.47 L347.22,216.59 L347.27,216.73 L347.31,216.89 L347.36,217.08 L347.41,217.29 L347.46,217.53 L347.50,217.79 L347.55,218.08 L347.60,218.40 L347.65,218.74 L347.69,219.10 L347.74,219.49 L347.79,219.91 L347.84,220.36 L347.88,220.84 L347.93,221.35 L347.98,221.88 L348.02,222.45 L348.07,223.05 L348.12,223.68 L348.17,224.35 L348.21,225.05 L348.26,225.79 L348.31,226.56 L348.36,227.38 L348.40,228.24 L348.45,229.14 L348.50,230.09 L348.55,231.08 L348.59,232.13 L348.64,233.23 L348.69,234.38 L348.73,235.60 L348.78,236.88 L348.83,238.23 L348.88,239.66 L348.92,241.17 L348.97,242.76 L349.02,244.45 L349.07,246.25 L349.11,248.16 L349.16,250.20 L349.21,252.39 L349.26,254.74 L349.30,257.27 L349.35,260.02 L349.40,263.02 L349.44,266.31 L349.49,267.13 L349.54,267.13 L349.59,267.13 L349.63,267.13 L349.68,267.13 L349.73,267.13 L349.78,267.13 L349.82,267.13 L349.87,267.13 L349.92,267.13 L349.97,267.13 L350.01,267.13 L350.06,267.13 L350.11,267.13 L350.16,267.13 L350.20,267.13 L350.25,267.13 L350.30,267.13 L350.34,267.13 L350.39,267.13 L350.44,265.01 L350.49,261.89 L350.53,259.04 L350.58,256.43 L350.63,254.01 L350.68,251.76 L350.72,249.67 L350.77,247.71 L350.82,245.88 L350.87,244.16 L350.91,242.53 L350.96,241.00 L351.01,239.55 L351.05,238.18 L351.10,236.88 L351.15,235.65 L351.20,234.48 L351.24,233.37 L351.29,232.31 L351.34,231.31 L351.39,230.35 L351.43,229.44 L351.48,228.57 L351.53,227.74 L351.58,226.95 L351.62,226.20 L351.67,225.49 L351.72,224.81 L351.76,224.17 L351.81,223.55 L351.86,222.97 L351.91,222.42 L351.95,221.90 L352.00,221.40 L352.05,220.93 L352.10,220.49 L352.14,220.08 L352.19,219.69 L352.24,219.33 L352.29,218.98 L352.33,218.67 L352.38,218.37 L352.43,218.10 L352.48,217.86 L352.52,217.63 L352.57,217.43 L352.62,217.24 L352.66,217.08 L352.71,216.94 L352.76,216.82 L352.81,216.72 L352.85,216.64 L352.90,216.58 L352.95,216.54 L353.00,216.53 L353.04,216.53 L353.09,216.55 L353.14,216.59 L353.19,216.65 L353.23,216.73 L353.28,216.84 L353.33,216.96 L353.37,217.10 L353.42,217.26 L353.47,217.45 L353.52,217.65 L353.56,217.87 L353.61,218.12 L353.66,218.39 L353.71,218.67 L353.75,218.98 L353.80,219.32 L353.85,219.67 L353.90,220.05 L353.94,220.45 L353.99,220.87 L354.04,221.32 L354.08,221.80 L354.13,222.30 L354.18,222.82 L354.23,223.38 L354.27,223.96 L354.32,224.57 L354.37,225.21 L354.42,225.88 L354.46,226.58 L354.51,227.31 L354.56,228.08 L354.61,228.88 L354.65,229.72 L354.70,230.60 L354.75,231.52 L354.80,232.48 L354.84,233.49 L354.89,234.55 L354.94,235.65 L354.98,236.81 L355.03,238.03 L355.08,239.31 L355.13,240.65 L355.17,242.06 L355.22,243.55 L355.27,245.12 L355.32,246.78 L355.36,248.54 L355.41,250.41 L355.46,252.40 L355.51,254.52 L355.55,256.79 L355.60,259.23 L355.65,261.86 L355.69,264.72 L355.74,267.13 L355.79,267.13 L355.84,267.13 L355.88,267.13 L355.93,267.13 L355.98,267.13 L356.03,267.13 L356.07,267.13 L356.12,267.13 L356.17,267.13 L356.22,267.13 L356.26,267.13 L356.31,267.13 L356.36,267.13 L356.40,267.13 L356.45,267.13 L356.50,267.13 L356.55,267.13 L356.59,267.13 L356.64,267.13 L356.69,267.13 L356.74,267.13 L356.78,267.13 L356.83,264.26 L356.88,261.50 L356.93,258.95 L356.97,256.59 L357.02,254.39 L357.07,252.34 L357.12,250.41 L357.16,248.60 L357.21,246.90 L357.26,245.29 L357.30,243.77 L357.35,242.32 L357.40,240.96 L357.45,239.65 L357.49,238.42 L357.54,237.24 L357.59,236.11 L357.64,235.04 L357.68,234.02 L357.73,233.04 L357.78,232.11 L357.83,231.22 L357.87,230.36 L357.92,229.55 L357.97,228.77 L358.01,228.02 L358.06,227.31 L358.11,226.62 L358.16,225.97 L358.20,225.35 L358.25,224.75 L358.30,224.18 L358.35,223.64 L358.39,223.12 L358.44,222.63 L358.49,222.16 L358.54,221.72 L358.58,221.29 L358.63,220.89 L358.68,220.51 L358.72,220.15 L358.77,219.81 L358.82,219.50 L358.87,219.20 L358.91,218.92 L358.96,218.66 L359.01,218.41 L359.06,218.19 L359.10,217.99 L359.15,217.80 L359.20,217.63 L359.25,217.47 L359.29,217.34 L359.34,217.22 L359.39,217.12 L359.44,217.03 L359.48,216.97 L359.53,216.91 L359.58,216.88 L359.62,216.86 L359.67,216.86 L359.72,216.87 L359.77,216.90 L359.81,216.95 L359.86,217.01 L359.91,217.09 L359.96,217.18 L360.00,217.29 L360.05,217.42 L360.10,217.57 L360.15,217.73 L360.19,217.90 L360.24,218.10 L360.29,218.31 L360.33,218.54 L360.38,218.78 L360.43,219.04 L360.48,219.32 L360.52,219.62 L360.57,219.94 L360.62,220.27 L360.67,220.63 L360.71,221.00 L360.76,221.39 L360.81,221.80 L360.86,222.23 L360.90,222.69 L360.95,223.16 L361.00,223.66 L361.04,224.17 L361.09,224.71 L361.14,225.28 L361.19,225.86 L361.23,226.48 L361.28,227.12 L361.33,227.78 L361.38,228.47 L361.42,229.19 L361.47,229.94 L361.52,230.73 L361.57,231.54 L361.61,232.39 L361.66,233.27 L361.71,234.19 L361.76,235.15 L361.80,236.14 L361.85,237.19 L361.90,238.27 L361.94,239.41 L361.99,240.59 L362.04,241.84 L362.09,243.14 L362.13,244.50 L362.18,245.93 L362.23,247.43 L362.28,249.02 L362.32,250.68 L362.37,252.45 L362.42,254.32 L362.47,256.30 L362.51,258.42 L362.56,260.67 L362.61,263.10 L362.65,265.71 L362.70,267.13 L362.75,267.13 L362.80,267.13 L362.84,267.13 L362.89,267.13 L362.94,267.13 L362.99,267.13 L363.03,267.13 L363.08,267.13 L363.13,267.13 L363.18,267.13 L363.22,267.13 L363.27,267.13 L363.32,267.13 L363.37,267.13 L363.41,267.13 L363.46,267.13 L363.51,267.13 L363.55,267.13 L363.60,267.13 L363.65,267.13 L363.70,267.13 L363.74,267.13 L363.79,267.13 L363.84,267.13 L363.89,266.56 L363.93,263.96 L363.98,261.54 L364.03,259.29 L364.08,257.19 L364.12,255.21 L364.17,253.36 L364.22,251.61 L364.26,249.96 L364.31,248.39 L364.36,246.91 L364.41,245.49 L364.45,244.15 L364.50,242.87 L364.55,241.64 L364.60,240.47 L364.64,239.35 L364.69,238.28 L364.74,237.26 L364.79,236.28 L364.83,235.33 L364.88,234.43 L364.93,233.56 L364.97,232.73 L365.02,231.93 L365.07,231.16 L365.12,230.42 L365.16,229.71 L365.21,229.02 L365.26,228.37 L365.31,227.74 L365.35,227.13 L365.40,226.55 L365.45,225.99 L365.50,225.45 L365.54,224.93 L365.59,224.44 L365.64,223.96 L365.69,223.51 L365.73,223.07 L365.78,222.65 L365.83,222.25 L365.87,221.87 L365.92,221.50 L365.97,221.16 L366.02,220.82 L366.06,220.51 L366.11,220.21 L366.16,219.92 L366.21,219.66 L366.25,219.40 L366.30,219.16 L366.35,218.94 L366.40,218.73 L366.44,218.53 L366.49,218.35 L366.54,218.18 L366.58,218.03 L366.63,217.89 L366.68,217.76 L366.73,217.65 L366.77,217.54 L366.82,217.46 L366.87,217.38 L366.92,217.32 L366.96,217.27 L367.01,217.23 L367.06,217.20 L367.11,217.19 L367.15,217.19 L367.20,217.20 L367.25,217.22 L367.29,217.26 L367.34,217.31 L367.39,217.37 L367.44,217.44 L367.48,217.52 L367.53,217.62 L367.58,217.73 L367.63,217.85 L367.67,217.99 L367.72,218.13 L367.77,218.29 L367.82,218.46 L367.86,218.65 L367.91,218.85 L367.96,219.06 L368.01,219.28 L368.05,219.52 L368.10,219.77 L368.15,220.03 L368.19,220.31 L368.24,220.60 L368.29,220.91 L368.34,221.23 L368.38,221.57 L368.43,221.91 L368.48,222.28 L368.53,222.66 L368.57,223.05 L368.62,223.46 L368.67,223.89 L368.72,224.33 L368.76,224.79 L368.81,225.27 L368.86,225.77 L368.90,226.28 L368.95,226.81 L369.00,227.36 L369.05,227.93 L369.09,228.52 L369.14,229.14 L369.19,229.77 L369.24,230.42 L369.28,231.10 L369.33,231.81 L369.38,232.53 L369.43,233.29 L369.47,234.07 L369.52,234.87 L369.57,235.71 L369.61,236.58 L369.66,237.48 L369.71,238.41 L369.76,239.38 L369.80,240.38 L369.85,241.43 L369.90,242.52 L369.95,243.65 L369.99,244.82 L370.04,246.05 L370.09,247.33 L370.14,248.66 L370.18,250.06 L370.23,251.53 L370.28,253.06 L370.33,254.68 L370.37,256.38 L370.42,258.17 L370.47,260.06 L370.51,262.08 L370.56,264.21 L370.61,266.50 L370.66,267.13 L370.70,267.13 L370.75,267.13 L370.80,267.13 L370.85,267.13 L370.89,267.13 L370.94,267.13 L370.99,267.13 L371.04,267.13 L371.08,267.13 L371.13,267.13 L371.18,267.13 L371.22,267.13 L371.27,267.13 L371.32,267.13 L371.37,267.13 L371.41,267.13 L371.46,267.13 L371.51,267.13 L371.56,267.13 L371.60,267.13 L371.65,267.13 L371.70,267.13 L371.75,267.13 L371.79,267.13 L371.84,267.13 L371.89,267.13 L371.93,267.13 L371.98,267.13 L372.03,267.13 L372.08,265.12 L372.12,263.00 L372.17,261.01 L372.22,259.13 L372.27,257.36 L372.31,255.68 L372.36,254.09 L372.41,252.57 L372.46,251.13 L372.50,249.76 L372.55,248.44 L372.60,247.19 L372.65,245.98 L372.69,244.83 L372.74,243.72 L372.79,242.66 L372.83,241.63 L372.88,240.65 L372.93,239.70 L372.98,238.79 L373.02,237.91 L373.07,237.06 L373.12,236.24 L373.17,235.45 L373.21,234.69 L373.26,233.95 L373.31,233.24 L373.36,232.55 L373.40,231.89 L373.45,231.24 L373.50,230.62 L373.54,230.02 L373.59,229.44 L373.64,228.88 L373.69,228.33 L373.73,227.81 L373.78,227.30 L373.83,226.80 L373.88,226.33 L373.92,225.87 L373.97,225.43 L374.02,225.00 L374.07,224.58 L374.11,224.18 L374.16,223.79 L374.21,223.42 L374.25,223.06 L374.30,222.72 L374.35,222.38 L374.40,222.06 L374.44,221.75 L374.49,221.45 L374.54,221.17 L374.59,220.89 L374.63,220.63 L374.68,220.38 L374.73,220.14 L374.78,219.91 L374.82,219.69 L374.87,219.48 L374.92,219.28 L374.97,219.09 L375.01,218.91 L375.06,218.74 L375.11,218.58 L375.15,218.44 L375.20,218.29 L375.25,218.16 L375.30,218.04 L375.34,217.93 L375.39,217.83 L375.44,217.73 L375.49,217.65 L375.53,217.57 L375.58,217.50 L375.63,217.44 L375.68,217.39 L375.72,217.35 L375.77,217.32 L375.82,217.30 L375.86,217.28 L375.91,217.27 L375.96,217.27 L376.01,217.28 L376.05,217.30 L376.10,217.33 L376.15,217.36 L376.20,217.41 L376.24,217.46 L376.29,217.52 L376.34,217.59 L376.39,217.66 L376.43,217.75 L376.48,217.84 L376.53,217.94 L376.57,218.05 L376.62,218.17 L376.67,218.30 L376.72,218.43 L376.76,218.57 L376.81,218.73 L376.86,218.89 L376.91,219.06 L376.95,219.23 L377.00,219.42 L377.05,219.61 L377.10,219.82 L377.14,220.03 L377.19,220.25 L377.24,220.48 L377.29,220.72 L377.33,220.97 L377.38,221.23 L377.43,221.50 L377.47,221.77 L377.52,222.06 L377.57,222.36 L377.62,222.66 L377.66,222.98 L377.71,223.31 L377.76,223.64 L377.81,223.99 L377.85,224.35 L377.90,224.72 L377.95,225.10 L378.00,225.49 L378.04,225.89 L378.09,226.30 L378.14,226.73 L378.18,227.17 L378.23,227.62 L378.28,228.08 L378.33,228.56 L378.37,229.05 L378.42,229.55 L378.47,230.06 L378.52,230.60 L378.56,231.14 L378.61,231.70 L378.66,232.28 L378.71,232.87 L378.75,233.48 L378.80,234.10 L378.85,234.75 L378.89,235.41 L378.94,236.09 L378.99,236.79 L379.04,237.51 L379.08,238.25 L379.13,239.01 L379.18,239.80 L379.23,240.60 L379.27,241.44 L379.32,242.30 L379.37,243.18 L379.42,244.10 L379.46,245.04 L379.51,246.02 L379.56,247.03 L379.61,248.07 L379.65,249.15 L379.70,250.27 L379.75,251.43 L379.79,252.63 L379.84,253.88 L379.89,255.18 L379.94,256.54 L379.98,257.95 L380.03,259.42 L380.08,260.97 L380.13,262.58 L380.17,264.28 L380.22,266.07 L380.27,267.13 L380.32,267.13 L380.36,267.13 L380.41,267.13 L380.46,267.13 L380.50,267.13 L380.55,267.13 L380.60,267.13 L380.65,267.13 L380.69,267.13 L380.74,267.13 L380.79,267.13 L380.84,267.13 L380.88,267.13 L380.93,267.13 L380.98,267.13 L381.03,267.13 L381.07,267.13 L381.12,267.13 L381.17,267.13 L381.21,267.13 L381.26,267.13 L381.31,267.13 L381.36,267.13 L381.40,267.13 L381.45,267.13 L381.50,267.13 L381.55,267.13 L381.59,267.13 L381.64,267.13 L381.69,267.13 L381.74,267.13 L381.78,267.13 L381.83,267.13 L381.88,267.13 L381.93,267.13 L381.97,267.13 L382.02,267.13 L382.07,267.05 L382.11,265.32 L382.16,263.67 L382.21,262.10 L382.26,260.60 L382.30,259.17 L382.35,257.80 L382.40,256.49 L382.45,255.24 L382.49,254.03 L382.54,252.87 L382.59,251.75 L382.64,250.68 L382.68,249.64 L382.73,248.64 L382.78,247.67 L382.82,246.74 L382.87,245.83 L382.92,244.96 L382.97,244.11 L383.01,243.29 L383.06,242.49 L383.11,241.72 L383.16,240.97 L383.20,240.24 L383.25,239.53 L383.30,238.85 L383.35,238.18 L383.39,237.53 L383.44,236.90 L383.49,236.29 L383.53,235.69 L383.58,235.11 L383.63,234.54 L383.68,233.99 L383.72,233.45 L383.77,232.93 L383.82,232.42 L383.87,231.93 L383.91,231.45 L383.96,230.98 L384.01,230.52 L384.06,230.07 L384.10,229.64 L384.15,229.21 L384.20,228.80 L384.25,228.40 L384.29,228.00 L384.34,227.62 L384.39,227.25 L384.43,226.88 L384.48,226.53 L384.53,226.19 L384.58,225.85 L384.62,225.52 L384.67,225.20 L384.72,224.89 L384.77,224.59 L384.81,224.30 L384.86,224.01 L384.91,223.73 L384.96,223.46 L385.00,223.20 L385.05,222.94 L385.10,222.69 L385.14,222.45 L385.19,222.22 L385.24,221.99 L385.29,221.77 L385.33,221.55 L385.38,221.34 L385.43,221.14 L385.48,220.95 L385.52,220.76 L385.57,220.57 L385.62,220.40 L385.67,220.22 L385.71,220.06 L385.76,219.90 L385.81,219.74 L385.85,219.60 L385.90,219.45 L385.95,219.32 L386.00,219.18 L386.04,219.06 L386.09,218.94 L386.14,218.82 L386.19,218.71 L386.23,218.60 L386.28,218.50 L386.33,218.41 L386.38,218.31 L386.42,218.23 L386.47,218.15 L386.52,218.07 L386.57,218.00 L386.61,217.93 L386.66,217.87 L386.71,217.81 L386.75,217.76 L386.80,217.71 L386.85,217.67 L386.90,217.63 L386.94,217.60 L386.99,217.57 L387.04,217.54 L387.09,217.52 L387.13,217.50 L387.18,217.49 L387.23,217.48 L387.28,217.48 L387.32,217.48 L387.37,217.48 L387.42,217.49 L387.46,217.51 L387.51,217.52 L387.56,217.54 L387.61,217.57 L387.65,217.60 L387.70,217.63 L387.75,217.67 L387.80,217.71 L387.84,217.76 L387.89,217.81 L387.94,217.86 L387.99,217.92 L388.03,217.98 L388.08,218.05 L388.13,218.12 L388.17,218.19 L388.22,218.27 L388.27,218.36 L388.32,218.44 L388.36,218.53 L388.41,218.63 L388.46,218.73 L388.51,218.83 L388.55,218.93 L388.60,219.05 L388.65,219.16 L388.70,219.28 L388.74,219.40 L388.79,219.53 L388.84,219.66 L388.89,219.79 L388.93,219.93 L388.98,220.08 L389.03,220.22 L389.07,220.37 L389.12,220.53 L389.17,220.69 L389.22,220.85 L389.26,221.02 L389.31,221.19 L389.36,221.37 L389.41,221.55 L389.45,221.73 L389.50,221.92 L389.55,222.12 L389.60,222.31 L389.64,222.52 L389.69,222.72 L389.74,222.93 L389.78,223.15 L389.83,223.37 L389.88,223.59 L389.93,223.82 L389.97,224.05 L390.02,224.29 L390.07,224.53 L390.12,224.78 L390.16,225.03 L390.21,225.28 L390.26,225.54 L390.31,225.81 L390.35,226.08 L390.40,226.36 L390.45,226.64 L390.49,226.92 L390.54,227.21 L390.59,227.51 L390.64,227.81 L390.68,228.11 L390.73,228.43 L390.78,228.74 L390.83,229.07 L390.87,229.39 L390.92,229.73 L390.97,230.07 L391.02,230.41 L391.06,230.76 L391.11,231.12 L391.16,231.48 L391.21,231.85 L391.25,232.22 L391.30,232.61 L391.35,232.99 L391.39,233.39 L391.44,233.79 L391.49,234.20 L391.54,234.61 L391.58,235.03 L391.63,235.46 L391.68,235.90 L391.73,236.34 L391.77,236.79 L391.82,237.25 L391.87,237.72 L391.92,238.20 L391.96,238.68 L392.01,239.17 L392.06,239.67 L392.10,240.18 L392.15,240.70 L392.20,241.23 L392.25,241.77 L392.29,242.32 L392.34,242.88 L392.39,243.45 L392.44,244.02 L392.48,244.62 L392.53,245.22 L392.58,245.83 L392.63,246.46 L392.67,247.10 L392.72,247.75 L392.77,248.41 L392.81,249.09 L392.86,249.78 L392.91,250.49 L392.96,251.21 L393.00,251.95 L393.05,252.71 L393.10,253.48 L393.15,254.27 L393.19,255.08 L393.24,255.91 L393.29,256.76 L393.34,257.63 L393.38,258.52 L393.43,259.43 L393.48,260.37 L393.53,261.34 L393.57,262.33 L393.62,263.35 L393.67,264.40 L393.71,265.48 L393.76,266.60 L393.81,267.13 L393.86,267.13 L393.90,267.13 L393.95,267.13 L394.00,267.13 L394.05,267.13 L394.09,267.13 L394.14,267.13 L394.19,267.13 L394.24,267.13 L394.28,267.13 L394.33,267.13 L394.38,267.13 L394.42,267.13 L394.47,267.13 L394.52,267.13 L394.57,267.13 L394.61,267.13 L394.66,267.13 L394.71,267.13 L394.76,267.13 L394.80,267.13 L394.85,267.13 L394.90,267.13 L394.95,267.13 L394.99,267.13 L395.04,267.13 L395.09,267.13 L395.13,267.13 L395.18,267.13 L395.23,267.13 L395.28,267.13 L395.32,267.13 L395.37,267.13 L395.42,267.13 L395.47,267.13 L395.51,267.13 L395.56,267.13 L395.61,267.13 L395.66,267.13 L395.70,267.13 L395.75,267.13 L395.80,267.13 L395.85,267.13 L395.89,267.13 L395.94,267.13 L395.99,267.13 L396.03,267.13 L396.08,267.13 L396.13,267.13 L396.18,267.13 L396.22,267.13 L396.27,267.13 L396.32,267.13 L396.37,267.13 L396.41,267.13 L396.46,267.13 L396.51,267.13 L396.56,267.13 L396.60,267.13 L396.65,267.13 L396.70,267.13 L396.74,267.13 L396.79,267.13 L396.84,267.13 L396.89,267.13 L396.93,267.03 L396.98,266.07 L397.03,265.14 L397.08,264.24 L397.12,263.37 L397.17,262.52 L397.22,261.69 L397.27,260.89 L397.31,260.10 L397.36,259.34 L397.41,258.60 L397.45,257.87 L397.50,257.16 L397.55,256.48 L397.60,255.80 L397.64,255.14 L397.69,254.50 L397.74,253.87 L397.79,253.26 L397.83,252.66 L397.88,252.07 L397.93,251.50 L397.98,250.94 L398.02,250.39 L398.07,249.85 L398.12,249.32 L398.17,248.80 L398.21,248.30 L398.26,247.80 L398.31,247.31 L398.35,246.83 L398.40,246.36 L398.45,245.90 L398.50,245.45 L398.54,245.01 L398.59,244.58 L398.64,244.15 L398.69,243.73 L398.73,243.32 L398.78,242.91 L398.83,242.52 L398.88,242.12 L398.92,241.74 L398.97,241.36 L399.02,240.99 L399.06,240.63 L399.11,240.27 L399.16,239.92 L399.21,239.57 L399.25,239.23 L399.30,238.89 L399.35,238.57 L399.40,238.24 L399.44,237.92 L399.49,237.61 L399.54,237.30 L399.59,236.99 L399.63,236.69 L399.68,236.40 L399.73,236.11 L399.78,235.82 L399.82,235.54 L399.87,235.26 L399.92,234.99 L399.96,234.72 L400.01,234.46 L400.06,234.20 L400.11,233.94 L400.15,233.69 L400.20,233.44 L400.25,233.19 L400.30,232.95 L400.34,232.71 L400.39,232.48 L400.44,232.25 L400.49,232.02 L400.53,231.80 L400.58,231.58 L400.63,231.36 L400.67,231.14 L400.72,230.93 L400.77,230.72 L400.82,230.52 L400.86,230.31 L400.91,230.11 L400.96,229.92 L401.01,229.72 L401.05,229.53 L401.10,229.34 L401.15,229.16 L401.20,228.97 L401.24,228.79 L401.29,228.62 L401.34,228.44 L401.38,228.27 L401.43,228.10 L401.48,227.93 L401.53,227.76 L401.57,227.60 L401.62,227.44 L401.67,227.28 L401.72,227.12 L401.76,226.97 L401.81,226.82 L401.86,226.67 L401.91,226.52 L401.95,226.37 L402.00,226.23 L402.05,226.09 L402.10,225.95 L402.14,225.81 L402.19,225.67 L402.24,225.54 L402.28,225.41 L402.33,225.28 L402.38,225.15 L402.43,225.02 L402.47,224.90 L402.52,224.77 L402.57,224.65 L402.62,224.53 L402.66,224.41 L402.71,224.30 L402.76,224.18 L402.81,224.07 L402.85,223.96 L402.90,223.85 L402.95,223.74 L402.99,223.63 L403.04,223.53 L403.09,223.42 L403.14,223.32 L403.18,223.22 L403.23,223.12 L403.28,223.02 L403.33,222.93 L403.37,222.83 L403.42,222.74 L403.47,222.65 L403.52,222.56 L403.56,222.47 L403.61,222.38 L403.66,222.29 L403.70,222.20 L403.75,222.12 L403.80,222.04 L403.85,221.95 L403.89,221.87 L403.94,221.79 L403.99,221.72 L404.04,221.64 L404.08,221.56 L404.13,221.49 L404.18,221.41 L404.23,221.34 L404.27,221.27 L404.32,221.20 L404.37,221.13 L404.42,221.06 L404.46,220.99 L404.51,220.93 L404.56,220.86 L404.60,220.80 L404.65,220.73 L404.70,220.67 L404.75,220.61 L404.79,220.55 L404.84,220.49 L404.89,220.43 L404.94,220.37 L404.98,220.32 L405.03,220.26 L405.08,220.21 L405.13,220.15 L405.17,220.10 L405.22,220.05 L405.27,219.99 L405.31,219.94 L405.36,219.89 L405.41,219.84 L405.46,219.80 L405.50,219.75 L405.55,219.70 L405.60,219.66 L405.65,219.61 L405.69,219.57 L405.74,219.52 L405.79,219.48 L405.84,219.44 L405.88,219.40 L405.93,219.36 L405.98,219.32 L406.02,219.28 L406.07,219.24 L406.12,219.20 L406.17,219.16 L406.21,219.13 L406.26,219.09 L406.31,219.05 L406.36,219.02 L406.40,218.99 L406.45,218.95 L406.50,218.92 L406.55,218.89 L406.59,218.86 L406.64,218.82 L406.69,218.79 L406.74,218.76 L406.78,218.73 L406.83,218.71 L406.88,218.68 L406.92,218.65 L406.97,218.62 L407.02,218.60 L407.07,218.57 L407.11,218.54 L407.16,218.52 L407.21,218.49 L407.26,218.47 L407.30,218.45 L407.35,218.42 L407.40,218.40 L407.45,218.38 L407.49,218.36 L407.54,218.33 L407.59,218.31 L407.63,218.29 L407.68,218.27 L407.73,218.25 L407.78,218.23 L407.82,218.21 L407.87,218.20 L407.92,218.18 L407.97,218.16 L408.01,218.14 L408.06,218.13 L408.11,218.11 L408.16,218.09 L408.20,218.08 L408.25,218.06 L408.30,218.05 L408.34,218.03 L408.39,218.02 L408.44,218.00 L408.49,217.99 L408.53,217.98 L408.58,217.96 L408.63,217.95 L408.68,217.94 L408.72,217.93 L408.77,217.91 L408.82,217.90 L408.87,217.89 L408.91,217.88 L408.96,217.87 L409.01,217.86 L409.06,217.85 L409.10,217.84 L409.15,217.83 L409.20,217.82 L409.24,217.81 L409.29,217.80 L409.34,217.79 L409.39,217.78 L409.43,217.78 L409.48,217.77 L409.53,217.76 L409.58,217.75 L409.62,217.75 L409.67,217.74 L409.72,217.73 L409.77,217.73 L409.81,217.72 L409.86,217.71 L409.91,217.71 L409.95,217.70 L410.00,217.69 L410.05,217.69 L410.10,217.68 L410.14,217.68 L410.19,217.67 L410.24,217.67 L410.29,217.66 L410.33,217.66 L410.38,217.66 L410.43,217.65 L410.48,217.65 L410.52,217.64 L410.57,217.64 L410.62,217.64 L410.66,217.63 L410.71,217.63 L410.76,217.63 L410.81,217.62 L410.85,217.62 L410.90,217.62 L410.95,217.61 L411.00,217.61 L411.04,217.61 L411.09,217.61 L411.14,217.60 L411.19,217.60 L411.23,217.60 L411.28,217.60 L411.33,217.59 L411.38,217.59 L411.42,217.59 L411.47,217.59 L411.52,217.59 L411.56,217.59 L411.61,217.58 L411.66,217.58 L411.71,217.58 L411.75,217.58 L411.80,217.58 L411.85,217.58 L411.90,217.58 L411.94,217.58 L411.99,217.57 L412.04,217.57 L412.09,217.57 L412.13,217.57 L412.18,217.57 L412.23,217.57 L412.27,217.57 L412.32,217.57 L412.37,217.57 L412.42,217.57 L412.46,217.57 L412.51,217.57 L412.56,217.57 L412.61,217.57 L412.65,217.57 L412.70,217.57 L412.75,217.57 L412.80,217.56 L412.84,217.56 L412.89,217.56 L412.94,217.56 L412.98,217.56 L413.03,217.56 L413.08,217.56 L413.13,217.56 L413.17,217.56 L413.22,217.56 L413.27,217.56 L413.32,217.56 L413.36,217.56 L413.41,217.56 L413.46,217.56 L413.51,217.56 L413.55,217.56 L413.60,217.56 L413.65,217.56 L413.70,217.56 L413.74,217.56 L413.79,217.56 L413.84,217.56 L413.88,217.56 L413.93,217.56 L413.98,217.56 L414.03,217.56 L414.07,217.56 L414.12,217.56 L414.17,217.56 L414.22,217.56 L414.26,217.56 L414.31,217.56 L414.36,217.56 L414.41,217.56 L414.45,217.56 L414.50,217.56" fill="none" stroke="#782C8A" stroke-width="1.3" stroke-linejoin="round" stroke-linecap="butt" />
</g>
<g clip-path="url(#cpb)">
<path d="M491.60,117.56 L586.29,117.56 L586.29,34.46 L737.81,34.46 L737.81,117.56 L832.50,117.56" fill="none" stroke="#782C8A" stroke-width="1.25" stroke-linejoin="round" stroke-linecap="butt" />
</g>
<g clip-path="url(#cpc)">
<path d="M910.80,178.63 L911.86,178.40 L912.92,177.73 L913.98,176.67 L915.04,175.30 L916.10,173.73 L917.16,172.06 L918.22,170.38 L919.28,168.78 L920.34,167.32 L921.40,166.06 L922.46,165.04 L923.52,164.29 L924.58,163.83 L925.64,163.68 L926.27,163.92 L926.89,164.64 L927.52,165.83 L928.14,167.49 L928.77,169.57 L929.39,172.04 L930.02,174.84 L930.65,177.88 L931.27,181.02 L931.90,184.09 L932.52,186.87 L933.15,189.12 L933.77,190.59 L934.40,191.10 L934.93,190.60 L935.46,189.16 L935.99,186.96 L936.51,184.23 L937.04,181.21 L937.57,178.12 L938.10,175.12 L938.63,172.36 L939.16,169.92 L939.69,167.86 L940.21,166.23 L940.74,165.05 L941.27,164.33 L941.80,164.09 L942.16,164.32 L942.51,165.01 L942.87,166.16 L943.23,167.74 L943.59,169.72 L943.94,172.07 L944.30,174.72 L944.66,177.58 L945.01,180.53 L945.37,183.39 L945.73,185.97 L946.09,188.04 L946.44,189.38 L946.80,189.85 L947.17,189.38 L947.54,188.04 L947.91,185.97 L948.29,183.39 L948.66,180.53 L949.03,177.58 L949.40,174.72 L949.77,172.07 L950.14,169.72 L950.51,167.74 L950.89,166.16 L951.26,165.01 L951.63,164.32 L952.00,164.09 L952.31,164.32 L952.61,164.98 L952.92,166.09 L953.23,167.61 L953.54,169.52 L953.84,171.77 L954.15,174.31 L954.46,177.03 L954.76,179.83 L955.07,182.54 L955.38,184.97 L955.69,186.91 L955.99,188.17 L956.30,188.60 L956.59,188.18 L956.89,186.96 L957.18,185.09 L957.47,182.73 L957.76,180.10 L958.06,177.38 L958.35,174.72 L958.64,172.24 L958.94,170.03 L959.23,168.16 L959.52,166.67 L959.81,165.59 L960.11,164.93 L960.40,164.71 L960.66,164.93 L960.93,165.57 L961.19,166.62 L961.46,168.07 L961.72,169.89 L961.99,172.03 L962.25,174.43 L962.51,177.00 L962.78,179.63 L963.04,182.16 L963.31,184.41 L963.57,186.21 L963.84,187.37 L964.10,187.77 L964.36,187.38 L964.63,186.23 L964.89,184.45 L965.16,182.22 L965.42,179.72 L965.69,177.12 L965.95,174.57 L966.21,172.19 L966.48,170.06 L966.74,168.26 L967.01,166.82 L967.27,165.77 L967.54,165.14 L967.80,164.92 L968.04,165.12 L968.28,165.71 L968.52,166.69 L968.76,168.03 L969.00,169.70 L969.24,171.65 L969.47,173.83 L969.71,176.16 L969.95,178.51 L970.19,180.76 L970.43,182.76 L970.67,184.33 L970.91,185.35 L971.15,185.70 L971.38,185.36 L971.60,184.39 L971.82,182.88 L972.05,180.97 L972.27,178.80 L972.50,176.53 L972.72,174.28 L972.95,172.17 L973.17,170.27 L973.40,168.65 L973.62,167.35 L973.85,166.40 L974.07,165.82 L974.30,165.63 L974.50,165.81 L974.70,166.35 L974.90,167.24 L975.10,168.45 L975.30,169.96 L975.50,171.72 L975.70,173.67 L975.90,175.73 L976.10,177.81 L976.30,179.78 L976.50,181.51 L976.70,182.86 L976.90,183.73 L977.10,184.03 L977.33,183.75 L977.55,182.94 L977.77,181.67 L978.00,180.04 L978.23,178.18 L978.45,176.22 L978.67,174.26 L978.90,172.41 L979.12,170.73 L979.35,169.29 L979.58,168.13 L979.80,167.28 L980.02,166.76 L980.25,166.58 L980.42,166.73 L980.60,167.17 L980.77,167.88 L980.95,168.85 L981.12,170.05 L981.30,171.44 L981.48,172.96 L981.65,174.55 L981.83,176.12 L982.00,177.59 L982.18,178.87 L982.35,179.86 L982.53,180.49 L982.70,180.71 L982.92,180.52 L983.14,179.98 L983.36,179.12 L983.59,178.01 L983.81,176.72 L984.03,175.34 L984.25,173.94 L984.47,172.59 L984.69,171.36 L984.91,170.29 L985.14,169.41 L985.36,168.77 L985.58,168.38 L985.80,168.25 L985.97,168.34 L986.14,168.63 L986.31,169.10 L986.49,169.74 L986.66,170.51 L986.83,171.39 L987.00,172.35 L987.17,173.32 L987.34,174.28 L987.51,175.16 L987.69,175.91 L987.86,176.49 L988.03,176.85 L988.20,176.97 L988.43,176.85 L988.66,176.51 L988.89,175.97 L989.11,175.25 L989.34,174.42 L989.57,173.51 L989.80,172.58 L990.03,171.67 L990.26,170.83 L990.49,170.09 L990.71,169.48 L990.94,169.03 L991.17,168.75 L991.40,168.66 L991.59,168.83 L991.77,169.34 L991.96,170.17 L992.14,171.31 L992.33,172.73 L992.51,174.37 L992.70,176.18 L992.89,178.09 L993.07,180.01 L993.26,181.81 L993.44,183.40 L993.63,184.63 L993.81,185.42 L994.00,185.70 L994.14,185.30 L994.29,184.15 L994.43,182.37 L994.57,180.14 L994.71,177.64 L994.86,175.04 L995.00,172.49 L995.14,170.11 L995.29,167.99 L995.43,166.18 L995.57,164.74 L995.71,163.69 L995.86,163.06 L996.00,162.84 L996.10,163.06 L996.20,163.69 L996.30,164.74 L996.40,166.18 L996.50,167.99 L996.60,170.11 L996.70,172.49 L996.80,175.04 L996.90,177.64 L997.00,180.14 L997.10,182.37 L997.20,184.15 L997.30,185.30 L997.40,185.70 L997.97,164.17 L998.54,133.72 L999.11,110.21 L999.68,92.45 L1000.25,78.65 L1000.82,67.71 L1001.39,58.94 L1001.96,51.88 L1002.53,46.26 L1003.10,41.86 L1003.67,38.57 L1004.24,36.27 L1004.81,34.91 L1005.38,34.46 L1005.83,34.92 L1006.27,36.28 L1006.72,38.60 L1007.16,41.93 L1007.60,46.36 L1008.05,52.05 L1008.49,59.20 L1008.94,68.13 L1009.38,79.32 L1009.82,93.55 L1010.27,112.23 L1010.71,137.96 L1011.16,175.43 L1011.60,210.21 L1011.74,209.28 L1011.87,206.65 L1012.01,202.80 L1012.14,198.23 L1012.28,193.44 L1012.41,188.75 L1012.55,184.39 L1012.69,180.50 L1012.82,177.16 L1012.96,174.41 L1013.09,172.26 L1013.23,170.72 L1013.36,169.80 L1013.50,169.49 L1013.72,169.64 L1013.94,170.08 L1014.16,170.79 L1014.39,171.76 L1014.61,172.96 L1014.83,174.35 L1015.05,175.87 L1015.27,177.45 L1015.49,179.03 L1015.71,180.50 L1015.94,181.78 L1016.16,182.77 L1016.38,183.40 L1016.60,183.62 L1016.73,183.28 L1016.86,182.29 L1016.99,180.75 L1017.11,178.81 L1017.24,176.60 L1017.37,174.30 L1017.50,172.02 L1017.63,169.88 L1017.76,167.96 L1017.89,166.32 L1018.01,165.00 L1018.14,164.04 L1018.27,163.46 L1018.40,163.26 L1018.53,163.52 L1018.66,164.31 L1018.79,165.61 L1018.91,167.42 L1019.04,169.71 L1019.17,172.45 L1019.30,175.58 L1019.43,179.00 L1019.56,182.58 L1019.69,186.13 L1019.81,189.39 L1019.94,192.05 L1020.07,193.81 L1020.20,194.42 L1020.33,193.76 L1020.46,191.86 L1020.60,189.01 L1020.73,185.53 L1020.86,181.77 L1020.99,177.99 L1021.12,174.40 L1021.26,171.13 L1021.39,168.28 L1021.52,165.90 L1021.65,164.03 L1021.79,162.68 L1021.92,161.87 L1022.05,161.60 L1022.18,161.90 L1022.31,162.82 L1022.45,164.35 L1022.58,166.48 L1022.71,169.22 L1022.84,172.54 L1022.97,176.39 L1023.11,180.71 L1023.24,185.35 L1023.37,190.10 L1023.50,194.60 L1023.64,198.40 L1023.77,200.98 L1023.90,201.90 L1024.04,200.95 L1024.17,198.29 L1024.31,194.37 L1024.44,189.75 L1024.58,184.90 L1024.71,180.16 L1024.85,175.77 L1024.99,171.85 L1025.12,168.48 L1025.26,165.71 L1025.39,163.55 L1025.53,162.00 L1025.66,161.08 L1025.80,160.77 L1025.94,161.10 L1026.07,162.10 L1026.21,163.77 L1026.34,166.11 L1026.48,169.13 L1026.61,172.83 L1026.75,177.18 L1026.89,182.13 L1027.02,187.55 L1027.16,193.23 L1027.29,198.77 L1027.43,203.58 L1027.56,206.92 L1027.70,208.13 L1027.85,206.90 L1027.99,203.51 L1028.14,198.64 L1028.29,193.04 L1028.43,187.31 L1028.58,181.84 L1028.72,176.85 L1028.87,172.47 L1029.02,168.76 L1029.16,165.72 L1029.31,163.36 L1029.46,161.69 L1029.60,160.69 L1029.75,160.35 L1029.90,160.69 L1030.04,161.72 L1030.19,163.43 L1030.34,165.84 L1030.48,168.95 L1030.63,172.77 L1030.78,177.28 L1030.92,182.44 L1031.07,188.13 L1031.21,194.13 L1031.36,200.05 L1031.51,205.24 L1031.65,208.88 L1031.80,210.21 L1031.94,208.88 L1032.09,205.24 L1032.23,200.05 L1032.37,194.13 L1032.51,188.13 L1032.66,182.44 L1032.80,177.28 L1032.94,172.77 L1033.09,168.95 L1033.23,165.84 L1033.37,163.43 L1033.51,161.72 L1033.66,160.69 L1033.80,160.35 L1033.94,160.70 L1034.09,161.74 L1034.23,163.49 L1034.37,165.95 L1034.51,169.13 L1034.66,173.05 L1034.80,177.69 L1034.94,183.01 L1035.09,188.92 L1035.23,195.20 L1035.37,201.43 L1035.51,206.95 L1035.66,210.86 L1035.80,212.29 L1035.93,210.86 L1036.06,206.95 L1036.20,201.43 L1036.33,195.20 L1036.46,188.92 L1036.59,183.01 L1036.72,177.69 L1036.86,173.05 L1036.99,169.13 L1037.12,165.95 L1037.25,163.49 L1037.39,161.74 L1037.52,160.70 L1037.65,160.35 L1037.78,160.71 L1037.91,161.78 L1038.05,163.57 L1038.18,166.09 L1038.31,169.37 L1038.44,173.41 L1038.58,178.23 L1038.71,183.78 L1038.84,189.99 L1038.97,196.64 L1039.10,203.32 L1039.24,209.32 L1039.37,213.61 L1039.50,215.19 L1039.63,213.61 L1039.76,209.32 L1039.89,203.32 L1040.01,196.64 L1040.14,189.99 L1040.27,183.78 L1040.40,178.23 L1040.53,173.41 L1040.66,169.37 L1040.79,166.09 L1040.91,163.57 L1041.04,161.78 L1041.17,160.71 L1041.30,160.35 L1041.43,160.71 L1041.56,161.80 L1041.69,163.62 L1041.81,166.19 L1041.94,169.53 L1042.07,173.66 L1042.20,178.59 L1042.33,184.30 L1042.46,190.71 L1042.59,197.63 L1042.71,204.64 L1042.84,210.99 L1042.97,215.57 L1043.10,217.27 L1043.24,215.57 L1043.38,210.99 L1043.52,204.64 L1043.66,197.63 L1043.80,190.71 L1043.94,184.30 L1044.07,178.59 L1044.21,173.66 L1044.35,169.53 L1044.49,166.19 L1044.63,163.62 L1044.77,161.80 L1044.91,160.71 L1045.05,160.35 L1045.19,160.72 L1045.33,161.82 L1045.47,163.67 L1045.61,166.28 L1045.75,169.68 L1045.89,173.90 L1046.03,178.94 L1046.16,184.80 L1046.30,191.41 L1046.44,198.60 L1046.58,205.93 L1046.72,212.64 L1046.86,217.53 L1047.00,219.35 L1047.13,217.53 L1047.26,212.64 L1047.39,205.93 L1047.51,198.60 L1047.64,191.41 L1047.77,184.80 L1047.90,178.94 L1048.03,173.90 L1048.16,169.68 L1048.29,166.28 L1048.41,163.67 L1048.54,161.82 L1048.67,160.72 L1048.80,160.35 L1048.93,160.73 L1049.06,161.85 L1049.19,163.73 L1049.31,166.40 L1049.44,169.88 L1049.57,174.21 L1049.70,179.40 L1049.83,185.46 L1049.96,192.35 L1050.09,199.90 L1050.21,207.69 L1050.34,214.91 L1050.47,220.25 L1050.60,222.26 L1050.73,220.25 L1050.86,214.91 L1051.00,207.69 L1051.13,199.90 L1051.26,192.35 L1051.39,185.46 L1051.52,179.40 L1051.66,174.21 L1051.79,169.88 L1051.92,166.40 L1052.05,163.73 L1052.19,161.85 L1052.32,160.73 L1052.45,160.35 L1052.58,160.73 L1052.71,161.87 L1052.85,163.78 L1052.98,166.48 L1053.11,170.02 L1053.24,174.41 L1053.38,179.71 L1053.51,185.91 L1053.64,192.99 L1053.77,200.79 L1053.90,208.91 L1054.04,216.51 L1054.17,222.19 L1054.30,224.33 L1054.42,222.19 L1054.54,216.51 L1054.66,208.91 L1054.79,200.79 L1054.91,192.99 L1055.03,185.91 L1055.15,179.71 L1055.27,174.41 L1055.39,170.02 L1055.51,166.48 L1055.64,163.78 L1055.76,161.87 L1055.88,160.73 L1056.00,160.35 L1056.12,160.74 L1056.24,161.91 L1056.36,163.87 L1056.49,166.66 L1056.61,170.31 L1056.73,174.87 L1056.85,180.39 L1056.97,186.90 L1057.09,194.42 L1057.21,202.81 L1057.34,211.72 L1057.46,220.26 L1057.58,226.80 L1057.70,229.32 L1057.83,226.80 L1057.95,220.26 L1058.08,211.72 L1058.20,202.81 L1058.33,194.42 L1058.45,186.90 L1058.58,180.39 L1058.70,174.87 L1058.83,170.31 L1058.95,166.66 L1059.08,163.87 L1059.20,161.91 L1059.33,160.74 L1059.45,160.35 L1059.58,160.75 L1059.70,161.94 L1059.83,163.94 L1059.95,166.79 L1060.08,170.53 L1060.20,175.21 L1060.33,180.90 L1060.45,187.65 L1060.58,195.50 L1060.70,204.37 L1060.83,213.94 L1060.95,223.29 L1061.08,230.61 L1061.20,233.48 L1061.31,230.61 L1061.43,223.29 L1061.54,213.94 L1061.66,204.37 L1061.77,195.50 L1061.89,187.65 L1062.00,180.90 L1062.11,175.21 L1062.23,170.53 L1062.34,166.79 L1062.46,163.94 L1062.57,161.94 L1062.69,160.75 L1062.80,160.35 L1062.91,160.75 L1063.03,161.96 L1063.14,163.99 L1063.26,166.88 L1063.37,170.67 L1063.49,175.43 L1063.60,181.22 L1063.71,188.13 L1063.83,196.21 L1063.94,205.40 L1064.06,215.42 L1064.17,225.35 L1064.29,233.26 L1064.40,236.38 L1064.53,233.26 L1064.65,225.35 L1064.78,215.42 L1064.90,205.40 L1065.03,196.21 L1065.15,188.13 L1065.28,181.22 L1065.40,175.43 L1065.53,170.67 L1065.65,166.88 L1065.78,163.99 L1065.90,161.96 L1066.03,160.75 L1066.15,160.35 L1066.28,160.73 L1066.40,161.87 L1066.53,163.79 L1066.65,166.52 L1066.78,170.07 L1066.90,174.49 L1067.03,179.82 L1067.15,186.08 L1067.28,193.23 L1067.40,201.14 L1067.53,209.39 L1067.65,217.15 L1067.78,222.96 L1067.90,225.17 L1068.02,222.99 L1068.14,217.25 L1068.26,209.57 L1068.39,201.38 L1068.51,193.53 L1068.63,186.41 L1068.75,180.18 L1068.87,174.87 L1068.99,170.46 L1069.11,166.92 L1069.24,164.20 L1069.36,162.29 L1069.48,161.15 L1069.60,160.77 L1069.72,161.08 L1069.84,162.04 L1069.96,163.63 L1070.09,165.85 L1070.21,168.71 L1070.33,172.19 L1070.45,176.26 L1070.57,180.84 L1070.69,185.81 L1070.81,190.94 L1070.94,195.86 L1071.06,200.07 L1071.18,202.95 L1071.30,203.98 L1071.43,203.01 L1071.56,200.31 L1071.69,196.33 L1071.81,191.65 L1071.94,186.74 L1072.07,181.96 L1072.20,177.53 L1072.33,173.58 L1072.46,170.19 L1072.59,167.40 L1072.71,165.23 L1072.84,163.67 L1072.97,162.74 L1073.10,162.43 L1073.23,162.69 L1073.36,163.46 L1073.49,164.74 L1073.61,166.51 L1073.74,168.76 L1073.87,171.44 L1074.00,174.50 L1074.13,177.84 L1074.26,181.32 L1074.39,184.76 L1074.51,187.91 L1074.64,190.48 L1074.77,192.17 L1074.90,192.76 L1075.34,167.84 L1075.78,135.19 L1076.22,110.93 L1076.66,92.84 L1077.10,78.89 L1077.54,67.86 L1077.97,59.03 L1078.41,51.94 L1078.85,46.30 L1079.29,41.89 L1079.73,38.58 L1080.17,36.27 L1080.61,34.91 L1081.05,34.46 L1081.54,34.92 L1082.02,36.28 L1082.51,38.60 L1082.99,41.93 L1083.48,46.37 L1083.96,52.06 L1084.45,59.22 L1084.94,68.16 L1085.42,79.36 L1085.91,93.63 L1086.39,112.37 L1086.88,138.28 L1087.36,176.35 L1087.85,212.70 L1087.95,211.36 L1088.06,207.66 L1088.16,202.40 L1088.26,196.43 L1088.37,190.37 L1088.47,184.63 L1088.57,179.44 L1088.68,174.90 L1088.78,171.06 L1088.89,167.94 L1088.99,165.52 L1089.09,163.80 L1089.20,162.77 L1089.30,162.43 L1089.41,162.65 L1089.53,163.32 L1089.64,164.42 L1089.76,165.94 L1089.87,167.85 L1089.99,170.11 L1090.10,172.64 L1090.21,175.37 L1090.33,178.17 L1090.44,180.88 L1090.56,183.30 L1090.67,185.25 L1090.79,186.51 L1090.90,186.94 L1091.00,186.60 L1091.10,185.61 L1091.20,184.08 L1091.30,182.13 L1091.40,179.93 L1091.50,177.62 L1091.60,175.35 L1091.70,173.20 L1091.80,171.28 L1091.90,169.64 L1092.00,168.32 L1092.10,167.36 L1092.20,166.78 L1092.30,166.58 L1092.41,166.73 L1092.53,167.15 L1092.64,167.85 L1092.76,168.80 L1092.87,169.97 L1092.99,171.32 L1093.10,172.79 L1093.21,174.33 L1093.33,175.86 L1093.44,177.28 L1093.56,178.52 L1093.67,179.48 L1093.79,180.09 L1093.90,180.29 L1094.02,180.12 L1094.14,179.62 L1094.26,178.83 L1094.39,177.80 L1094.51,176.60 L1094.63,175.32 L1094.75,174.01 L1094.87,172.75 L1094.99,171.59 L1095.11,170.58 L1095.24,169.76 L1095.36,169.16 L1095.48,168.79 L1095.60,168.66 L1095.73,168.75 L1095.86,169.03 L1095.99,169.48 L1096.11,170.09 L1096.24,170.83 L1096.37,171.67 L1096.50,172.58 L1096.63,173.51 L1096.76,174.42 L1096.89,175.25 L1097.01,175.97 L1097.14,176.51 L1097.27,176.85 L1097.40,176.97 L1097.51,176.87 L1097.63,176.56 L1097.74,176.08 L1097.86,175.44 L1097.97,174.69 L1098.09,173.88 L1098.20,173.04 L1098.31,172.22 L1098.43,171.46 L1098.54,170.79 L1098.66,170.24 L1098.77,169.83 L1098.89,169.58 L1099.00,169.49 L1099.13,169.56 L1099.26,169.78 L1099.39,170.12 L1099.51,170.59 L1099.64,171.15 L1099.77,171.79 L1099.90,172.47 L1100.03,173.17 L1100.16,173.85 L1100.29,174.47 L1100.41,174.99 L1100.54,175.39 L1100.67,175.64 L1100.80,175.72 L1100.92,175.66 L1101.04,175.46 L1101.16,175.15 L1101.29,174.73 L1101.41,174.24 L1101.53,173.70 L1101.65,173.15 L1101.77,172.60 L1101.89,172.08 L1102.01,171.63 L1102.14,171.25 L1102.26,170.97 L1102.38,170.80 L1102.50,170.74 L1102.61,170.78 L1102.73,170.92 L1102.84,171.13 L1102.96,171.41 L1103.07,171.76 L1103.19,172.15 L1103.30,172.56 L1103.41,172.98 L1103.53,173.38 L1103.64,173.74 L1103.76,174.05 L1103.87,174.28 L1103.99,174.43 L1104.10,174.48 L1104.21,174.44 L1104.33,174.33 L1104.44,174.15 L1104.56,173.91 L1104.67,173.63 L1104.79,173.32 L1104.90,172.99 L1105.01,172.67 L1105.13,172.37 L1105.24,172.10 L1105.36,171.88 L1105.47,171.71 L1105.59,171.60 L1105.70,171.57 L1105.83,171.61 L1105.96,171.73 L1106.09,171.92 L1106.21,172.17 L1106.34,172.48 L1106.47,172.83 L1106.60,173.19 L1106.73,173.56 L1106.86,173.92 L1106.99,174.24 L1107.11,174.52 L1107.24,174.72 L1107.37,174.85 L1107.50,174.89 L1107.60,174.82 L1107.70,174.61 L1107.80,174.26 L1107.90,173.81 L1108.00,173.28 L1108.10,172.70 L1108.20,172.09 L1108.30,171.50 L1108.40,170.94 L1108.50,170.45 L1108.60,170.04 L1108.70,169.74 L1108.80,169.56 L1108.90,169.49 L1109.02,169.64 L1109.14,170.06 L1109.26,170.76 L1109.39,171.71 L1109.51,172.87 L1109.63,174.22 L1109.75,175.70 L1109.87,177.24 L1109.99,178.77 L1110.11,180.19 L1110.24,181.43 L1110.36,182.39 L1110.48,182.99 L1110.60,183.20 L1110.69,182.90 L1110.77,182.01 L1110.86,180.63 L1110.94,178.86 L1111.03,176.86 L1111.11,174.75 L1111.20,172.66 L1111.29,170.68 L1111.37,168.89 L1111.46,167.36 L1111.54,166.13 L1111.63,165.24 L1111.71,164.69 L1111.80,164.51 L1111.86,164.68 L1111.93,165.19 L1111.99,166.02 L1112.06,167.16 L1112.12,168.57 L1112.19,170.21 L1112.25,172.03 L1112.31,173.94 L1112.38,175.85 L1112.44,177.66 L1112.51,179.24 L1112.57,180.48 L1112.64,181.27 L1112.70,181.54 L1113.14,161.85 L1113.58,132.74 L1114.03,109.73 L1114.47,92.18 L1114.91,78.49 L1115.35,67.61 L1115.79,58.87 L1116.23,51.84 L1116.67,46.23 L1117.12,41.85 L1117.56,38.56 L1118.00,36.26 L1118.44,34.91 L1118.88,34.46 L1119.28,34.91 L1119.69,36.27 L1120.09,38.58 L1120.49,41.88 L1120.89,46.29 L1121.29,51.94 L1121.69,59.02 L1122.09,67.85 L1122.49,78.86 L1122.90,92.80 L1123.30,110.85 L1123.70,135.03 L1124.10,167.43 L1124.50,191.93 L1124.59,191.54 L1124.69,190.42 L1124.78,188.68 L1124.87,186.50 L1124.96,184.05 L1125.06,181.50 L1125.15,178.99 L1125.24,176.65 L1125.34,174.56 L1125.43,172.78 L1125.52,171.36 L1125.61,170.33 L1125.71,169.70 L1125.80,169.49 L1125.86,169.53 L1125.91,169.65 L1125.97,169.84 L1126.03,170.10 L1126.09,170.40 L1126.14,170.75 L1126.20,171.12 L1126.26,171.49 L1126.31,171.84 L1126.37,172.17 L1126.43,172.44 L1126.49,172.64 L1126.54,172.77 L1126.60,172.82 L1126.66,172.78 L1126.71,172.67 L1126.77,172.49 L1126.83,172.25 L1126.89,171.97 L1126.94,171.66 L1127.00,171.33 L1127.06,171.01 L1127.11,170.71 L1127.17,170.44 L1127.23,170.21 L1127.29,170.05 L1127.34,169.94 L1127.40,169.91 L1127.50,170.04 L1127.60,170.44 L1127.70,171.09 L1127.80,171.98 L1127.90,173.07 L1128.00,174.32 L1128.10,175.69 L1128.20,177.11 L1128.30,178.52 L1128.40,179.83 L1128.50,180.96 L1128.60,181.84 L1128.70,182.39 L1128.80,182.58 L1128.94,182.27 L1129.09,181.35 L1129.23,179.93 L1129.37,178.12 L1129.51,176.07 L1129.66,173.91 L1129.80,171.77 L1129.94,169.75 L1130.09,167.93 L1130.23,166.38 L1130.37,165.12 L1130.51,164.21 L1130.66,163.65 L1130.80,163.47 L1130.94,163.69 L1131.07,164.36 L1131.21,165.47 L1131.35,167.00 L1131.48,168.91 L1131.62,171.18 L1131.76,173.72 L1131.89,176.46 L1132.03,179.28 L1132.17,182.00 L1132.30,184.44 L1132.44,186.40 L1132.58,187.67 L1132.71,188.11 L1132.85,187.67 L1132.99,186.40 L1133.13,184.44 L1133.26,182.00 L1133.40,179.28 L1133.54,176.46 L1133.68,173.72 L1133.82,171.18 L1133.95,168.91 L1134.09,167.00 L1134.23,165.47 L1134.37,164.36 L1134.50,163.69 L1134.64,163.47 L1134.78,163.71 L1134.92,164.45 L1135.06,165.67 L1135.20,167.36 L1135.34,169.49 L1135.48,172.02 L1135.62,174.90 L1135.76,178.02 L1135.89,181.26 L1136.03,184.44 L1136.17,187.32 L1136.31,189.66 L1136.45,191.19 L1136.59,191.72 L1136.73,191.19 L1136.87,189.66 L1137.01,187.32 L1137.15,184.44 L1137.29,181.26 L1137.43,178.02 L1137.57,174.90 L1137.72,172.02 L1137.86,169.49 L1138.00,167.36 L1138.14,165.67 L1138.28,164.45 L1138.42,163.71 L1138.56,163.47 L1138.70,163.72 L1138.84,164.48 L1138.99,165.75 L1139.13,167.50 L1139.27,169.71 L1139.41,172.35 L1139.55,175.35 L1139.70,178.62 L1139.84,182.03 L1139.98,185.40 L1140.12,188.47 L1140.26,190.96 L1140.41,192.60 L1140.55,193.17 L1140.69,192.60 L1140.84,190.96 L1140.98,188.47 L1141.12,185.40 L1141.27,182.03 L1141.41,178.62 L1141.55,175.35 L1141.70,172.35 L1141.84,169.71 L1141.99,167.50 L1142.13,165.75 L1142.27,164.48 L1142.42,163.72 L1142.56,163.47 L1142.71,163.73 L1142.85,164.50 L1143.00,165.79 L1143.14,167.57 L1143.29,169.83 L1143.43,172.52 L1143.58,175.60 L1143.72,178.96 L1143.87,182.47 L1144.01,185.94 L1144.16,189.11 L1144.31,191.70 L1144.45,193.41 L1144.60,194.01 L1144.74,193.41 L1144.89,191.70 L1145.04,189.11 L1145.19,185.94 L1145.33,182.47 L1145.48,178.96 L1145.63,175.60 L1145.77,172.52 L1145.92,169.83 L1146.07,167.57 L1146.22,165.79 L1146.36,164.50 L1146.51,163.73 L1146.66,163.47 L1146.81,163.73 L1146.96,164.52 L1147.11,165.82 L1147.25,167.64 L1147.40,169.93 L1147.55,172.68 L1147.70,175.81 L1147.85,179.24 L1148.00,182.83 L1148.15,186.39 L1148.30,189.66 L1148.45,192.33 L1148.60,194.09 L1148.75,194.71 L1148.90,194.09 L1149.05,192.33 L1149.20,189.66 L1149.35,186.39 L1149.50,182.83 L1149.66,179.24 L1149.81,175.81 L1149.96,172.68 L1150.11,169.93 L1150.26,167.64 L1150.41,165.82 L1150.56,164.52 L1150.71,163.73 L1150.87,163.47 L1151.02,163.73 L1151.17,164.53 L1151.33,165.84 L1151.48,167.66 L1151.63,169.98 L1151.79,172.75 L1151.94,175.91 L1152.09,179.37 L1152.25,183.01 L1152.40,186.61 L1152.56,189.92 L1152.71,192.63 L1152.86,194.42 L1153.02,195.04 L1153.17,194.42 L1153.33,192.63 L1153.48,189.92 L1153.64,186.61 L1153.80,183.01 L1153.95,179.37 L1154.11,175.91 L1154.26,172.75 L1154.42,169.98 L1154.58,167.66 L1154.73,165.84 L1154.89,164.53 L1155.04,163.73 L1155.20,163.47 L1155.36,163.73 L1155.52,164.53 L1155.68,165.84 L1155.84,167.66 L1155.99,169.98 L1156.15,172.75 L1156.31,175.91 L1156.47,179.37 L1156.63,183.01 L1156.79,186.61 L1156.95,189.92 L1157.10,192.63 L1157.26,194.42 L1157.42,195.04 L1157.58,194.42 L1157.74,192.63 L1157.91,189.92 L1158.07,186.61 L1158.23,183.01 L1158.39,179.37 L1158.55,175.91 L1158.71,172.75 L1158.87,169.98 L1159.04,167.66 L1159.20,165.84 L1159.36,164.53 L1159.52,163.73 L1159.68,163.47 L1159.85,163.73 L1160.01,164.53 L1160.18,165.84 L1160.34,167.66 L1160.50,169.98 L1160.67,172.75 L1160.83,175.91 L1161.00,179.37 L1161.16,183.01 L1161.33,186.61 L1161.49,189.92 L1161.66,192.63 L1161.82,194.42 L1161.98,195.04 L1162.15,194.42 L1162.32,192.63 L1162.49,189.92 L1162.66,186.61 L1162.82,183.01 L1162.99,179.37 L1163.16,175.91 L1163.33,172.75 L1163.49,169.98 L1163.66,167.66 L1163.83,165.84 L1164.00,164.53 L1164.17,163.73 L1164.33,163.47 L1164.50,163.73 L1164.68,164.53 L1164.85,165.84 L1165.02,167.66 L1165.19,169.98 L1165.36,172.75 L1165.53,175.91 L1165.70,179.37 L1165.88,183.01 L1166.05,186.61 L1166.22,189.92 L1166.39,192.63 L1166.56,194.42 L1166.73,195.04 L1166.91,194.42 L1167.08,192.63 L1167.26,189.92 L1167.43,186.61 L1167.61,183.01 L1167.78,179.37 L1167.96,175.91 L1168.13,172.75 L1168.31,169.98 L1168.49,167.66 L1168.66,165.84 L1168.84,164.53 L1169.01,163.73 L1169.19,163.47 L1169.37,163.73 L1169.55,164.53 L1169.73,165.84 L1169.91,167.66 L1170.08,169.98 L1170.26,172.75 L1170.44,175.91 L1170.62,179.37 L1170.80,183.01 L1170.98,186.61 L1171.16,189.92 L1171.34,192.63 L1171.52,194.42 L1171.70,195.04 L1171.89,194.42 L1172.07,192.63 L1172.25,189.92 L1172.44,186.61 L1172.62,183.01 L1172.81,179.37 L1172.99,175.91 L1173.18,172.75 L1173.36,169.98 L1173.54,167.66 L1173.73,165.84 L1173.91,164.53 L1174.10,163.73 L1174.28,163.47 L1174.47,163.73 L1174.66,164.52 L1174.85,165.83 L1175.04,167.65 L1175.23,169.96 L1175.42,172.72 L1175.61,175.87 L1175.80,179.32 L1175.99,182.94 L1176.18,186.53 L1176.37,189.82 L1176.56,192.52 L1176.75,194.30 L1176.94,194.92 L1177.13,194.30 L1177.33,192.52 L1177.52,189.82 L1177.72,186.53 L1177.91,182.94 L1178.11,179.32 L1178.30,175.87 L1178.50,172.72 L1178.70,169.96 L1178.89,167.65 L1179.09,165.83 L1179.28,164.52 L1179.48,163.73 L1179.67,163.47 L1179.87,163.73 L1180.08,164.52 L1180.28,165.83 L1180.48,167.64 L1180.68,169.94 L1180.88,172.68 L1181.09,175.82 L1181.29,179.26 L1181.49,182.86 L1181.69,186.42 L1181.89,189.69 L1182.10,192.37 L1182.30,194.13 L1182.50,194.75 L1182.71,194.13 L1182.92,192.37 L1183.13,189.69 L1183.34,186.42 L1183.55,182.86 L1183.76,179.26 L1183.97,175.82 L1184.18,172.68 L1184.39,169.94 L1184.59,167.64 L1184.80,165.83 L1185.01,164.52 L1185.22,163.73 L1185.43,163.47 L1185.65,163.73 L1185.87,164.51 L1186.09,165.81 L1186.30,167.61 L1186.52,169.89 L1186.74,172.61 L1186.96,175.72 L1187.18,179.13 L1187.39,182.68 L1187.61,186.21 L1187.83,189.44 L1188.05,192.07 L1188.27,193.81 L1188.48,194.42 L1188.71,193.81 L1188.94,192.07 L1189.17,189.44 L1189.39,186.21 L1189.62,182.68 L1189.85,179.13 L1190.08,175.72 L1190.30,172.61 L1190.53,169.89 L1190.76,167.61 L1190.99,165.81 L1191.22,164.51 L1191.44,163.73 L1191.67,163.47 L1191.91,163.73 L1192.15,164.50 L1192.39,165.79 L1192.63,167.57 L1192.87,169.83 L1193.11,172.52 L1193.35,175.60 L1193.58,178.96 L1193.82,182.47 L1194.06,185.94 L1194.30,189.11 L1194.54,191.70 L1194.78,193.41 L1195.02,194.01 L1195.27,193.41 L1195.53,191.70 L1195.78,189.11 L1196.03,185.94 L1196.28,182.47 L1196.54,178.96 L1196.79,175.60 L1197.04,172.52 L1197.30,169.83 L1197.55,167.57 L1197.80,165.79 L1198.05,164.50 L1198.31,163.73 L1198.56,163.47 L1198.83,163.73 L1199.10,164.49 L1199.37,165.77 L1199.64,167.53 L1199.91,169.77 L1200.18,172.44 L1200.45,175.47 L1200.72,178.79 L1200.99,182.25 L1201.26,185.67 L1201.53,188.79 L1201.80,191.33 L1202.07,193.00 L1202.33,193.59 L1202.63,193.00 L1202.92,191.33 L1203.21,188.79 L1203.50,185.67 L1203.79,182.25 L1204.08,178.79 L1204.37,175.47 L1204.66,172.44 L1204.95,169.77 L1205.24,167.53 L1205.53,165.77 L1205.82,164.49 L1206.11,163.73 L1206.40,163.47 L1206.72,163.72 L1207.04,164.48 L1207.36,165.75 L1207.67,167.50 L1207.99,169.71 L1208.31,172.35 L1208.63,175.35 L1208.94,178.62 L1209.26,182.03 L1209.58,185.40 L1209.90,188.47 L1210.22,190.96 L1210.53,192.60 L1210.85,193.17 L1211.21,192.60 L1211.56,190.96 L1211.92,188.47 L1212.27,185.40 L1212.63,182.03 L1212.98,178.62 L1213.34,175.35 L1213.69,172.35 L1214.05,169.71 L1214.40,167.50 L1214.76,165.75 L1215.11,164.48 L1215.47,163.72 L1215.82,163.47 L1216.24,163.72 L1216.65,164.48 L1217.06,165.73 L1217.47,167.46 L1217.88,169.65 L1218.29,172.25 L1218.71,175.22 L1219.12,178.45 L1219.53,181.81 L1219.94,185.12 L1220.35,188.14 L1220.76,190.59 L1221.17,192.20 L1221.59,192.76 L1222.10,192.20 L1222.61,190.59 L1223.12,188.14 L1223.63,185.12 L1224.14,181.81 L1224.65,178.45 L1225.16,175.22 L1225.67,172.25 L1226.18,169.65 L1226.69,167.46 L1227.20,165.73 L1227.71,164.48 L1228.22,163.72 L1228.73,163.47 L1229.49,163.72 L1230.25,164.46 L1231.01,165.69 L1231.77,167.40 L1232.54,169.55 L1233.30,172.12 L1234.06,175.03 L1234.82,178.19 L1235.58,181.48 L1236.34,184.71 L1237.10,187.65 L1237.86,190.03 L1238.62,191.59 L1239.38,192.14 L1240.23,191.93 L1241.09,191.33 L1241.94,190.39 L1242.79,189.18 L1243.64,187.77 L1244.49,186.27 L1245.34,184.76 L1246.19,183.30 L1247.04,181.97 L1247.89,180.82 L1248.75,179.88 L1249.60,179.19 L1250.45,178.77 L1251.30,178.63" fill="none" stroke="#782C8A" stroke-width="1.3" stroke-linejoin="round" stroke-linecap="butt" />
</g>
<line x1="244.20" y1="309.60" x2="244.20" y2="531.30" stroke="#1a1a1a" stroke-width="1.25" stroke-dasharray="2.7 2.7"/>
<g clip-path="url(#cpd)">
<path d="M72.80,516.90 L72.43,516.90 L75.07,518.32 L78.11,521.36 L80.54,514.26 L82.16,501.09 L83.18,480.81 L84.60,471.69 L87.23,473.72 L89.66,473.11 L91.89,478.79 L93.31,482.84 L93.92,479.80 L95.34,484.87 L97.37,488.52 L98.79,486.49 L100.41,486.90 L102.03,479.80 L103.45,479.19 L105.48,474.73 L107.10,470.68 L108.52,472.30 L110.54,471.08 L112.57,476.76 L114.19,484.87 L115.61,488.32 L117.64,485.27 L119.06,486.49 L120.68,484.87 L122.30,485.88 L123.72,482.84 L125.75,480.81 L127.37,478.38 L128.79,481.22 L130.81,480.81 L132.84,479.19 L134.87,476.76 L136.49,477.77 L137.91,481.22 L139.94,482.84 L141.96,482.84 L143.38,479.80 L144.60,477.77 L146.02,477.17 L147.44,475.75 L149.06,476.76 L150.68,479.19 L152.71,479.80 L154.74,477.77 L156.76,476.36 L158.18,474.33 L160.21,475.14 L162.24,478.79 L163.65,479.80 L165.28,473.72 L166.90,460.54 L168.32,454.46 L169.33,453.45 L170.75,460.54 L171.97,465.61 L173.39,458.92 L174.80,458.52 L176.02,465.61 L177.44,472.71 L179.06,478.18 L180.48,476.76 L182.10,471.69 L183.93,468.04 L185.55,473.72 L186.97,476.76 L188.59,473.11 L190.01,468.65 L191.63,467.64 L192.64,473.72 L194.06,463.58 L195.28,460.54 L196.70,467.64 L198.12,475.75 L199.74,471.69 L201.16,474.73 L202.78,467.64 L204.20,461.56 L205.41,467.64 L206.83,462.57 L208.25,459.53 L209.87,473.72 L211.29,479.80 L212.51,470.68 L213.93,458.52 L215.35,452.43 L216.97,461.56 L218.59,469.67 L220.01,463.58 L221.23,459.53 L222.44,465.61 L223.66,460.54 L225.08,456.49 L226.50,466.62 L227.71,463.58 L229.13,470.68 L230.15,470.68 L231.56,455.48 L232.78,447.37 L233.79,456.49 L234.81,463.58 L235.40,462.80 L235.51,459.54 L235.66,454.90 L235.83,449.51 L236.00,444.00 L236.17,438.51 L236.34,432.70 L236.52,426.54 L236.70,420.00 L236.88,412.92 L237.06,405.38 L237.23,397.64 L237.40,390.00 L237.56,382.30 L237.71,374.46 L237.85,366.89 L238.00,360.00 L238.14,353.96 L238.28,348.53 L238.43,343.50 L238.60,338.70 L238.81,333.95 L239.04,329.40 L239.28,325.30 L239.50,321.90 L239.69,319.37 L239.87,317.54 L240.04,316.17 L240.20,315.00 L240.36,313.97 L240.51,313.21 L240.65,312.77 L240.80,312.70 L240.95,312.97 L241.11,313.58 L241.26,314.57 L241.40,316.00 L241.51,317.82 L241.61,320.02 L241.70,322.71 L241.80,326.00 L241.90,329.98 L241.99,334.56 L242.09,339.62 L242.20,345.00 L242.32,350.71 L242.45,356.81 L242.58,363.26 L242.70,370.00 L242.81,377.27 L242.91,385.00 L243.00,392.73 L243.10,400.00 L243.20,406.90 L243.30,413.61 L243.40,419.76 L243.50,425.00 L243.60,429.54 L243.70,433.48 L243.80,436.25 L243.90,437.30 L244.00,436.25 L244.10,433.48 L244.20,429.54 L244.30,425.00 L244.40,419.76 L244.50,413.61 L244.60,406.90 L244.70,400.00 L244.80,392.73 L244.89,385.00 L244.99,377.27 L245.10,370.00 L245.24,363.26 L245.39,356.81 L245.55,350.71 L245.70,345.00 L245.83,339.62 L245.96,334.56 L246.08,329.98 L246.20,326.00 L246.32,322.71 L246.44,320.02 L246.56,317.82 L246.70,316.00 L246.86,314.57 L247.04,313.58 L247.23,312.97 L247.40,312.70 L247.56,312.77 L247.71,313.21 L247.85,313.97 L248.00,315.00 L248.15,316.17 L248.29,317.54 L248.44,319.37 L248.60,321.90 L248.77,325.30 L248.96,329.40 L249.14,333.95 L249.30,338.70 L249.44,343.50 L249.56,348.53 L249.68,353.96 L249.80,360.00 L249.91,366.89 L250.02,374.46 L250.14,382.30 L250.30,390.00 L250.52,397.64 L250.78,405.38 L251.05,412.92 L251.30,420.00 L251.54,426.66 L251.77,433.00 L251.99,438.84 L252.20,444.00 L252.41,448.53 L252.61,452.50 L252.78,455.72 L252.90,458.00 L253.78,467.64 L254.80,459.53 L255.81,453.45 L256.83,463.58 L257.84,471.69 L258.85,458.52 L259.87,450.00 L260.88,459.53 L262.30,468.65 L263.92,459.53 L264.93,458.52 L265.95,467.64 L266.96,472.71 L268.38,463.58 L269.80,459.53 L271.02,466.62 L272.43,471.69 L273.85,463.58 L275.07,455.48 L276.08,452.03 L277.10,459.53 L278.52,470.68 L279.94,463.58 L281.15,471.69 L282.17,465.61 L283.58,473.11 L285.00,467.64 L286.22,462.57 L287.64,468.65 L289.06,461.56 L290.68,456.08 L291.69,455.48 L292.71,464.60 L293.72,473.11 L295.14,467.03 L296.76,468.65 L298.38,472.30 L300.21,471.69 L301.83,472.30 L303.25,469.06 L304.46,471.69 L305.88,470.68 L307.50,467.03 L308.92,464.19 L310.34,470.68 L311.56,475.75 L313.38,473.11 L315.01,469.06 L316.63,466.62 L318.65,469.67 L320.48,472.30 L322.10,473.11 L323.72,474.33 L325.14,476.36 L326.76,473.72 L328.59,474.73 L330.21,473.11 L331.63,467.03 L332.84,465.00 L334.26,468.65 L335.68,469.67 L337.30,473.11 L339.33,475.14 L340.95,470.68 L342.37,463.58 L343.79,456.49 L345.01,454.87 L346.22,463.58 L347.44,471.69 L348.86,476.76 L350.48,470.68 L351.90,465.61 L353.52,461.56 L354.74,459.53 L355.95,464.60 L357.58,467.64 L359.20,473.11 L361.02,476.36 L362.64,477.77 L364.06,479.19 L365.68,476.76 L367.71,475.14 L369.33,474.33 L371.16,476.76 L372.78,477.77 L374.20,481.22 L375.82,483.86 L377.44,479.19 L378.86,474.73 L380.48,473.72 L381.90,474.33 L383.12,462.98 L384.33,475.14 L385.96,477.77 L387.98,478.79 L390.01,477.77 L392.04,477.17 L394.06,476.36 L396.09,475.14 L397.71,477.77 L399.13,476.76 L400.55,479.19 L401.77,478.79 L402.78,473.72 L403.79,479.80 L405.21,476.76 L406.63,481.83 L407.85,487.91 L409.27,484.87 L410.28,488.92 L411.30,493.99 L412.51,468.65 L413.32,480.81 L414.34,491.96 L415.55,484.87" fill="none" stroke="#176EAF" stroke-width="1.5" stroke-linejoin="round" stroke-linecap="butt" />
</g>
<line x1="585.98" y1="309.60" x2="585.98" y2="531.30" stroke="#1a1a1a" stroke-width="1.25" stroke-dasharray="2.7 2.7"/>
<line x1="738.42" y1="309.60" x2="738.42" y2="531.30" stroke="#1a1a1a" stroke-width="1.25" stroke-dasharray="2.7 2.7"/>
<g clip-path="url(#cpe)">
<path d="M490.70,516.49 L490.41,516.49 L492.57,520.54 L494.46,518.38 L496.35,521.08 L497.97,520.54 L499.32,509.73 L500.68,498.92 L502.03,488.11 L503.38,486.22 L505.27,487.57 L507.16,485.41 L508.78,482.16 L510.14,485.95 L512.03,484.86 L513.38,487.57 L515.27,484.05 L516.89,488.11 L518.78,485.41 L520.68,486.76 L522.84,482.70 L525.00,480.54 L526.89,479.46 L528.78,482.16 L530.41,481.35 L532.30,488.11 L533.65,494.05 L535.54,488.11 L537.16,482.70 L539.05,480.54 L540.95,484.05 L542.57,481.35 L544.46,482.16 L546.62,480.54 L548.51,480.54 L550.41,476.76 L552.57,470.54 L554.73,474.59 L556.62,478.65 L558.51,473.24 L560.68,468.65 L562.57,475.95 L564.73,481.35 L566.89,477.30 L568.78,473.24 L570.95,465.95 L572.30,465.14 L574.19,469.19 L576.35,470.54 L578.24,474.05 L580.14,475.95 L582.30,476.76 L583.65,471.89 L584.46,447.57 L584.94,419.63 L585.65,406.85 L586.36,394.07 L587.49,390.52 L588.91,391.52 L589.91,397.62 L590.90,400.46 L592.04,395.49 L593.17,391.94 L594.17,389.81 L595.30,391.94 L596.58,393.79 L598.00,392.94 L599.42,393.36 L600.84,391.94 L602.26,394.07 L604.10,398.33 L605.52,394.78 L606.94,390.95 L608.36,393.36 L610.21,394.07 L611.63,393.36 L612.62,397.19 L613.61,400.46 L614.75,394.07 L615.74,388.39 L616.60,386.26 L617.59,392.65 L618.73,399.75 L619.72,394.07 L620.71,389.10 L621.85,395.49 L622.84,403.30 L623.98,395.49 L624.97,388.39 L625.82,385.84 L626.82,388.39 L627.81,394.07 L628.66,389.10 L629.66,388.39 L630.65,395.49 L631.79,401.45 L632.92,389.81 L633.63,383.42 L634.63,383.42 L635.76,392.65 L636.75,399.04 L637.89,395.49 L639.17,393.36 L640.30,394.07 L641.44,390.52 L642.43,389.10 L643.43,390.52 L644.56,393.36 L645.98,394.78 L647.40,397.62 L648.82,395.49 L649.96,391.94 L650.95,389.81 L651.94,394.07 L653.08,396.20 L654.22,393.36 L655.21,391.94 L656.20,394.78 L657.34,393.36 L658.48,389.10 L659.47,392.65 L660.60,397.19 L661.88,392.65 L663.02,389.81 L664.44,390.52 L665.57,391.94 L666.57,390.52 L667.56,395.49 L668.70,401.17 L669.83,396.91 L670.83,392.37 L671.96,390.52 L672.96,393.36 L674.09,390.52 L675.09,387.68 L676.50,386.69 L677.92,386.69 L679.34,387.26 L680.34,390.52 L681.47,394.78 L682.61,392.94 L683.60,390.52 L684.60,389.10 L685.73,391.94 L686.87,394.07 L688.15,393.36 L689.28,394.78 L690.70,397.19 L691.70,394.78 L692.83,393.79 L693.97,397.19 L695.39,400.46 L696.38,397.19 L697.37,394.07 L698.51,395.49 L699.93,398.61 L701.06,395.49 L702.06,391.94 L703.19,390.10 L704.19,389.53 L705.32,391.94 L706.74,391.52 L707.74,392.65 L708.87,395.49 L710.15,399.04 L711.29,401.45 L712.42,399.04 L713.42,395.49 L714.55,392.37 L715.55,390.95 L716.68,392.37 L717.67,394.07 L718.67,392.37 L719.80,390.52 L720.94,389.81 L721.93,391.52 L723.07,393.36 L724.06,394.78 L725.20,396.20 L726.19,398.33 L727.19,399.04 L728.32,394.07 L729.46,388.39 L730.45,387.26 L731.45,387.68 L732.58,393.36 L733.72,390.52 L735.14,390.95 L736.13,393.36 L737.12,398.33 L737.98,408.27 L739.19,434.05 L740.00,452.97 L740.81,466.49 L742.16,469.73 L743.78,467.03 L745.68,471.89 L747.57,468.65 L749.19,465.95 L751.08,463.24 L752.97,467.03 L754.59,470.54 L756.49,468.65 L758.38,469.73 L760.54,471.35 L762.70,473.24 L764.59,475.14 L766.49,477.84 L768.65,475.95 L770.81,475.14 L772.70,474.05 L774.86,473.24 L776.76,471.89 L778.92,469.19 L780.81,472.43 L782.70,474.59 L784.86,473.24 L787.03,469.19 L788.92,467.84 L790.81,471.89 L792.97,475.95 L794.86,480.54 L796.49,475.95 L798.38,477.30 L800.27,473.24 L801.35,465.95 L802.43,476.76 L804.32,480.54 L806.49,482.16 L808.65,481.35 L810.54,484.05 L812.43,482.16 L814.05,485.41 L815.95,483.24 L817.84,486.76 L819.46,488.11 L820.81,480.54 L822.16,482.70 L823.78,477.84 L825.41,484.05 L826.76,489.46 L828.11,481.35 L829.19,493.51 L830.27,467.84 L831.08,488.11 L832.16,478.65" fill="none" stroke="#176EAF" stroke-width="1.5" stroke-linejoin="round" stroke-linecap="butt" />
</g>
<line x1="1004.58" y1="309.60" x2="1004.58" y2="531.30" stroke="#1a1a1a" stroke-width="1.25" stroke-dasharray="2.7 2.7"/>
<line x1="1080.80" y1="309.60" x2="1080.80" y2="531.30" stroke="#1a1a1a" stroke-width="1.25" stroke-dasharray="2.7 2.7"/>
<line x1="1118.91" y1="309.60" x2="1118.91" y2="531.30" stroke="#1a1a1a" stroke-width="1.25" stroke-dasharray="2.7 2.7"/>
<g clip-path="url(#cpf)">
<path d="M909.30,520.34 L909.05,520.34 L910.68,518.32 L912.10,517.71 L913.11,521.36 L914.73,522.98 L916.15,519.74 L917.57,513.25 L918.78,505.14 L920.20,495.01 L921.22,489.94 L922.84,491.36 L924.26,489.94 L925.88,491.96 L927.30,490.55 L928.92,492.57 L930.34,489.94 L931.96,489.33 L933.38,487.91 L935.00,486.90 L936.42,484.87 L937.84,483.86 L939.46,487.91 L941.08,485.88 L942.50,485.27 L944.12,484.46 L945.54,481.22 L947.17,481.83 L948.58,480.81 L950.00,481.83 L951.62,480.81 L953.25,482.44 L954.67,480.81 L956.29,482.44 L957.71,481.22 L959.33,481.83 L960.75,484.46 L962.37,480.81 L963.79,475.75 L965.21,477.77 L966.42,469.67 L967.84,466.22 L969.26,465.61 L970.48,471.69 L971.90,478.79 L973.32,479.19 L974.53,473.11 L975.95,467.03 L977.37,467.64 L978.59,471.69 L980.01,475.75 L981.63,473.72 L983.05,477.17 L984.46,480.41 L986.09,476.76 L987.71,474.33 L989.13,475.75 L990.75,478.38 L992.17,474.73 L993.59,465.61 L994.80,462.17 L996.02,464.60 L996.93,461.56 L997.95,440.27 L998.96,420.00 L999.42,405.72 L999.88,392.68 L1000.34,380.89 L1000.81,370.33 L1001.27,361.02 L1001.73,352.95 L1002.19,346.12 L1002.65,340.53 L1003.11,336.19 L1003.58,333.08 L1004.04,331.22 L1004.50,330.60 L1004.94,331.22 L1005.38,333.08 L1005.83,336.19 L1006.27,340.53 L1006.71,346.12 L1007.15,352.95 L1007.59,361.02 L1008.04,370.33 L1008.48,380.89 L1008.92,392.68 L1009.36,405.72 L1009.80,420.00 L1010.41,440.27 L1011.02,460.54 L1011.63,471.08 L1012.64,468.25 L1013.86,465.00 L1015.08,467.03 L1016.49,463.58 L1017.91,462.57 L1019.13,466.62 L1020.14,474.73 L1021.36,481.83 L1022.58,477.77 L1023.99,478.79 L1025.21,474.73 L1026.63,471.08 L1027.64,467.03 L1029.06,470.68 L1030.28,474.33 L1031.70,473.11 L1033.12,476.36 L1034.74,474.73 L1036.36,477.17 L1037.78,479.19 L1039.20,475.75 L1040.82,473.11 L1042.44,471.69 L1043.86,475.14 L1045.28,469.67 L1046.50,463.58 L1047.71,462.57 L1048.93,467.03 L1050.14,461.56 L1051.36,457.50 L1052.98,456.89 L1054.40,457.50 L1055.62,465.61 L1057.04,473.11 L1058.05,475.75 L1059.47,472.71 L1061.09,469.67 L1062.71,467.03 L1064.13,468.65 L1065.55,465.61 L1066.77,461.56 L1067.78,463.58 L1068.79,458.52 L1069.81,463.58 L1070.82,469.67 L1072.04,467.03 L1073.25,469.67 L1074.27,474.73 L1074.98,460.54 L1075.89,440.27 L1076.50,420.00 L1076.82,407.78 L1077.15,396.31 L1077.47,385.61 L1077.80,375.72 L1078.12,366.66 L1078.45,358.46 L1078.77,351.17 L1079.10,344.83 L1079.42,339.52 L1079.75,335.33 L1080.07,332.40 L1080.40,331.10 L1080.69,332.40 L1080.99,335.33 L1081.28,339.52 L1081.57,344.83 L1081.87,351.17 L1082.16,358.46 L1082.45,366.66 L1082.75,375.72 L1083.04,385.61 L1083.33,396.31 L1083.63,407.78 L1083.92,420.00 L1084.73,440.27 L1085.54,460.54 L1086.45,472.30 L1087.77,465.61 L1088.78,458.11 L1090.20,460.54 L1091.62,462.57 L1093.24,457.50 L1094.66,450.00 L1095.88,460.54 L1096.89,468.65 L1097.91,461.56 L1098.92,454.46 L1099.93,461.56 L1100.95,468.65 L1102.37,462.57 L1103.79,467.03 L1105.00,460.54 L1106.02,454.87 L1107.03,461.56 L1108.04,467.03 L1109.46,463.58 L1110.88,460.54 L1111.69,459.53 L1112.60,450.41 L1113.31,430.14 L1113.92,420.00 L1114.33,407.89 L1114.73,396.52 L1115.14,385.92 L1115.55,376.12 L1115.95,367.14 L1116.36,359.02 L1116.77,351.79 L1117.17,345.51 L1117.58,340.25 L1117.99,336.09 L1118.39,333.19 L1118.80,331.90 L1119.20,333.19 L1119.61,336.09 L1120.01,340.25 L1120.42,345.51 L1120.82,351.79 L1121.23,359.02 L1121.63,367.14 L1122.03,376.12 L1122.44,385.92 L1122.84,396.52 L1123.25,407.89 L1123.65,420.00 L1124.26,436.22 L1124.87,452.43 L1125.58,468.65 L1126.90,462.17 L1128.11,463.58 L1129.33,467.03 L1130.54,459.53 L1131.76,452.03 L1132.77,458.52 L1133.79,465.61 L1135.00,473.11 L1136.42,471.08 L1137.84,468.65 L1139.26,464.19 L1140.48,460.54 L1141.49,458.52 L1142.91,462.57 L1144.33,461.56 L1145.95,465.61 L1147.37,468.65 L1148.59,463.58 L1150.01,457.50 L1151.63,458.11 L1153.05,463.58 L1154.46,467.64 L1155.68,469.67 L1157.10,467.03 L1158.52,463.58 L1160.14,465.00 L1161.56,469.67 L1163.18,473.72 L1164.80,475.75 L1166.63,476.36 L1167.84,473.11 L1168.86,464.60 L1169.87,470.68 L1170.88,475.75 L1172.30,473.11 L1173.93,475.14 L1175.34,473.11 L1176.97,471.69 L1178.39,468.65 L1180.01,469.67 L1181.43,471.08 L1183.05,470.27 L1184.47,473.72 L1185.89,475.75 L1187.51,471.69 L1188.93,467.64 L1190.55,463.58 L1192.17,460.54 L1193.59,459.53 L1194.60,456.49 L1195.82,459.53 L1197.24,461.56 L1198.66,465.61 L1200.28,470.68 L1201.70,473.72 L1203.12,475.14 L1204.74,477.77 L1206.36,474.73 L1207.78,473.11 L1209.20,475.14 L1210.82,477.77 L1212.44,479.80 L1213.86,476.76 L1215.48,474.33 L1216.90,475.75 L1218.32,479.19 L1219.33,465.61 L1220.35,478.79 L1221.97,479.80 L1223.59,480.81 L1225.01,481.83 L1226.63,479.80 L1228.05,480.41 L1229.47,477.77 L1231.09,478.79 L1232.71,475.14 L1233.73,473.72 L1235.15,477.17 L1236.56,475.75 L1237.78,479.80 L1239.20,474.33 L1240.21,468.65 L1241.23,474.73 L1242.65,473.11 L1243.86,478.79 L1245.28,480.81 L1246.90,480.41 L1247.92,489.94 L1248.73,495.01 L1249.54,468.25 L1250.35,480.81 L1251.36,486.90 L1252.58,480.81" fill="none" stroke="#176EAF" stroke-width="1.5" stroke-linejoin="round" stroke-linecap="butt" />
</g>
<line x1="73.60" y1="242.20" x2="73.60" y2="237.20" stroke="#262626" stroke-width="2.5"/>
<line x1="73.60" y1="22.00" x2="73.60" y2="27.00" stroke="#262626" stroke-width="2.5"/>
<line x1="130.42" y1="242.20" x2="130.42" y2="237.20" stroke="#262626" stroke-width="2.5"/>
<line x1="130.42" y1="22.00" x2="130.42" y2="27.00" stroke="#262626" stroke-width="2.5"/>
<line x1="187.23" y1="242.20" x2="187.23" y2="237.20" stroke="#262626" stroke-width="2.5"/>
<line x1="187.23" y1="22.00" x2="187.23" y2="27.00" stroke="#262626" stroke-width="2.5"/>
<line x1="244.05" y1="242.20" x2="244.05" y2="237.20" stroke="#262626" stroke-width="2.5"/>
<line x1="244.05" y1="22.00" x2="244.05" y2="27.00" stroke="#262626" stroke-width="2.5"/>
<line x1="300.87" y1="242.20" x2="300.87" y2="237.20" stroke="#262626" stroke-width="2.5"/>
<line x1="300.87" y1="22.00" x2="300.87" y2="27.00" stroke="#262626" stroke-width="2.5"/>
<line x1="357.68" y1="242.20" x2="357.68" y2="237.20" stroke="#262626" stroke-width="2.5"/>
<line x1="357.68" y1="22.00" x2="357.68" y2="27.00" stroke="#262626" stroke-width="2.5"/>
<line x1="414.50" y1="242.20" x2="414.50" y2="237.20" stroke="#262626" stroke-width="2.5"/>
<line x1="414.50" y1="22.00" x2="414.50" y2="27.00" stroke="#262626" stroke-width="2.5"/>
<line x1="73.60" y1="34.46" x2="78.60" y2="34.46" stroke="#262626" stroke-width="2.5"/>
<line x1="414.50" y1="34.46" x2="409.50" y2="34.46" stroke="#262626" stroke-width="2.5"/>
<line x1="73.60" y1="76.01" x2="78.60" y2="76.01" stroke="#262626" stroke-width="2.5"/>
<line x1="414.50" y1="76.01" x2="409.50" y2="76.01" stroke="#262626" stroke-width="2.5"/>
<line x1="73.60" y1="117.56" x2="78.60" y2="117.56" stroke="#262626" stroke-width="2.5"/>
<line x1="414.50" y1="117.56" x2="409.50" y2="117.56" stroke="#262626" stroke-width="2.5"/>
<line x1="73.60" y1="159.11" x2="78.60" y2="159.11" stroke="#262626" stroke-width="2.5"/>
<line x1="414.50" y1="159.11" x2="409.50" y2="159.11" stroke="#262626" stroke-width="2.5"/>
<line x1="73.60" y1="200.65" x2="78.60" y2="200.65" stroke="#262626" stroke-width="2.5"/>
<line x1="414.50" y1="200.65" x2="409.50" y2="200.65" stroke="#262626" stroke-width="2.5"/>
<line x1="73.60" y1="242.20" x2="78.60" y2="242.20" stroke="#262626" stroke-width="2.5"/>
<line x1="414.50" y1="242.20" x2="409.50" y2="242.20" stroke="#262626" stroke-width="2.5"/>
<rect x="73.60" y="22.00" width="340.90" height="220.20" fill="none" stroke="#262626" stroke-width="2.7"/>
<text x="72.90" y="266.40" text-anchor="middle" class="tl">-90</text>
<text x="129.72" y="266.40" text-anchor="middle" class="tl">-60</text>
<text x="186.53" y="266.40" text-anchor="middle" class="tl">-30</text>
<text x="244.05" y="266.40" text-anchor="middle" class="tl">0</text>
<text x="300.87" y="266.40" text-anchor="middle" class="tl">30</text>
<text x="357.68" y="266.40" text-anchor="middle" class="tl">60</text>
<text x="414.50" y="266.40" text-anchor="middle" class="tl">90</text>
<text x="68.60" y="41.36" text-anchor="end" class="tl">0</text>
<text x="68.60" y="82.91" text-anchor="end" class="tl">-10</text>
<text x="68.60" y="124.46" text-anchor="end" class="tl">-20</text>
<text x="68.60" y="166.01" text-anchor="end" class="tl">-30</text>
<text x="68.60" y="207.55" text-anchor="end" class="tl">-40</text>
<text x="68.60" y="249.10" text-anchor="end" class="tl">-50</text>
<text x="243.45" y="291.70" text-anchor="middle" class="al">Angle (deg)</text>
<text transform="translate(29.70,138.90) rotate(-90)" text-anchor="middle" class="al">Normalized Power (dB)</text>
<text x="92.60" y="45.50" class="tag">(a)</text>
<line x1="491.60" y1="242.20" x2="491.60" y2="237.20" stroke="#262626" stroke-width="2.5"/>
<line x1="491.60" y1="22.00" x2="491.60" y2="27.00" stroke="#262626" stroke-width="2.5"/>
<line x1="586.29" y1="242.20" x2="586.29" y2="237.20" stroke="#262626" stroke-width="2.5"/>
<line x1="586.29" y1="22.00" x2="586.29" y2="27.00" stroke="#262626" stroke-width="2.5"/>
<line x1="662.05" y1="242.20" x2="662.05" y2="237.20" stroke="#262626" stroke-width="2.5"/>
<line x1="662.05" y1="22.00" x2="662.05" y2="27.00" stroke="#262626" stroke-width="2.5"/>
<line x1="737.81" y1="242.20" x2="737.81" y2="237.20" stroke="#262626" stroke-width="2.5"/>
<line x1="737.81" y1="22.00" x2="737.81" y2="27.00" stroke="#262626" stroke-width="2.5"/>
<line x1="832.50" y1="242.20" x2="832.50" y2="237.20" stroke="#262626" stroke-width="2.5"/>
<line x1="832.50" y1="22.00" x2="832.50" y2="27.00" stroke="#262626" stroke-width="2.5"/>
<line x1="491.60" y1="34.46" x2="496.60" y2="34.46" stroke="#262626" stroke-width="2.5"/>
<line x1="832.50" y1="34.46" x2="827.50" y2="34.46" stroke="#262626" stroke-width="2.5"/>
<line x1="491.60" y1="76.01" x2="496.60" y2="76.01" stroke="#262626" stroke-width="2.5"/>
<line x1="832.50" y1="76.01" x2="827.50" y2="76.01" stroke="#262626" stroke-width="2.5"/>
<line x1="491.60" y1="117.56" x2="496.60" y2="117.56" stroke="#262626" stroke-width="2.5"/>
<line x1="832.50" y1="117.56" x2="827.50" y2="117.56" stroke="#262626" stroke-width="2.5"/>
<line x1="491.60" y1="159.11" x2="496.60" y2="159.11" stroke="#262626" stroke-width="2.5"/>
<line x1="832.50" y1="159.11" x2="827.50" y2="159.11" stroke="#262626" stroke-width="2.5"/>
<line x1="491.60" y1="200.65" x2="496.60" y2="200.65" stroke="#262626" stroke-width="2.5"/>
<line x1="832.50" y1="200.65" x2="827.50" y2="200.65" stroke="#262626" stroke-width="2.5"/>
<line x1="491.60" y1="242.20" x2="496.60" y2="242.20" stroke="#262626" stroke-width="2.5"/>
<line x1="832.50" y1="242.20" x2="827.50" y2="242.20" stroke="#262626" stroke-width="2.5"/>
<rect x="491.60" y="22.00" width="340.90" height="220.20" fill="none" stroke="#262626" stroke-width="2.7"/>
<text x="490.90" y="266.40" text-anchor="middle" class="tl">-90</text>
<text x="585.59" y="266.40" text-anchor="middle" class="tl">-40</text>
<text x="662.05" y="266.40" text-anchor="middle" class="tl">0</text>
<text x="737.81" y="266.40" text-anchor="middle" class="tl">40</text>
<text x="832.50" y="266.40" text-anchor="middle" class="tl">90</text>
<text x="486.60" y="41.36" text-anchor="end" class="tl">0</text>
<text x="486.60" y="82.91" text-anchor="end" class="tl">-10</text>
<text x="486.60" y="124.46" text-anchor="end" class="tl">-20</text>
<text x="486.60" y="166.01" text-anchor="end" class="tl">-30</text>
<text x="486.60" y="207.55" text-anchor="end" class="tl">-40</text>
<text x="486.60" y="249.10" text-anchor="end" class="tl">-50</text>
<text x="661.45" y="291.70" text-anchor="middle" class="al">Angle (deg)</text>
<text transform="translate(446.90,132.60) rotate(-90)" text-anchor="middle" class="al">Normalized Power (dB)</text>
<text x="505.60" y="45.50" class="tag">(b)</text>
<line x1="910.80" y1="242.20" x2="910.80" y2="237.20" stroke="#262626" stroke-width="2.5"/>
<line x1="910.80" y1="22.00" x2="910.80" y2="27.00" stroke="#262626" stroke-width="2.5"/>
<line x1="1005.38" y1="242.20" x2="1005.38" y2="237.20" stroke="#262626" stroke-width="2.5"/>
<line x1="1005.38" y1="22.00" x2="1005.38" y2="27.00" stroke="#262626" stroke-width="2.5"/>
<line x1="1081.05" y1="242.20" x2="1081.05" y2="237.20" stroke="#262626" stroke-width="2.5"/>
<line x1="1081.05" y1="22.00" x2="1081.05" y2="27.00" stroke="#262626" stroke-width="2.5"/>
<line x1="1156.72" y1="242.20" x2="1156.72" y2="237.20" stroke="#262626" stroke-width="2.5"/>
<line x1="1156.72" y1="22.00" x2="1156.72" y2="27.00" stroke="#262626" stroke-width="2.5"/>
<line x1="1251.30" y1="242.20" x2="1251.30" y2="237.20" stroke="#262626" stroke-width="2.5"/>
<line x1="1251.30" y1="22.00" x2="1251.30" y2="27.00" stroke="#262626" stroke-width="2.5"/>
<line x1="910.80" y1="34.46" x2="915.80" y2="34.46" stroke="#262626" stroke-width="2.5"/>
<line x1="1251.30" y1="34.46" x2="1246.30" y2="34.46" stroke="#262626" stroke-width="2.5"/>
<line x1="910.80" y1="76.01" x2="915.80" y2="76.01" stroke="#262626" stroke-width="2.5"/>
<line x1="1251.30" y1="76.01" x2="1246.30" y2="76.01" stroke="#262626" stroke-width="2.5"/>
<line x1="910.80" y1="117.56" x2="915.80" y2="117.56" stroke="#262626" stroke-width="2.5"/>
<line x1="1251.30" y1="117.56" x2="1246.30" y2="117.56" stroke="#262626" stroke-width="2.5"/>
<line x1="910.80" y1="159.11" x2="915.80" y2="159.11" stroke="#262626" stroke-width="2.5"/>
<line x1="1251.30" y1="159.11" x2="1246.30" y2="159.11" stroke="#262626" stroke-width="2.5"/>
<line x1="910.80" y1="200.65" x2="915.80" y2="200.65" stroke="#262626" stroke-width="2.5"/>
<line x1="1251.30" y1="200.65" x2="1246.30" y2="200.65" stroke="#262626" stroke-width="2.5"/>
<line x1="910.80" y1="242.20" x2="915.80" y2="242.20" stroke="#262626" stroke-width="2.5"/>
<line x1="1251.30" y1="242.20" x2="1246.30" y2="242.20" stroke="#262626" stroke-width="2.5"/>
<rect x="910.80" y="22.00" width="340.50" height="220.20" fill="none" stroke="#262626" stroke-width="2.7"/>
<text x="910.10" y="266.40" text-anchor="middle" class="tl">-90</text>
<text x="1004.68" y="266.40" text-anchor="middle" class="tl">-40</text>
<text x="1081.05" y="266.40" text-anchor="middle" class="tl">0</text>
<text x="1156.72" y="266.40" text-anchor="middle" class="tl">40</text>
<text x="1251.30" y="266.40" text-anchor="middle" class="tl">90</text>
<text x="905.80" y="41.36" text-anchor="end" class="tl">0</text>
<text x="905.80" y="82.91" text-anchor="end" class="tl">-10</text>
<text x="905.80" y="124.46" text-anchor="end" class="tl">-20</text>
<text x="905.80" y="166.01" text-anchor="end" class="tl">-30</text>
<text x="905.80" y="207.55" text-anchor="end" class="tl">-40</text>
<text x="905.80" y="249.10" text-anchor="end" class="tl">-50</text>
<text x="1080.45" y="291.70" text-anchor="middle" class="al">Angle (deg)</text>
<text transform="translate(865.80,132.60) rotate(-90)" text-anchor="middle" class="al">Normalized Power (dB)</text>
<text x="924.10" y="45.50" class="tag">(c)</text>
<line x1="72.80" y1="531.30" x2="72.80" y2="526.30" stroke="#262626" stroke-width="2.5"/>
<line x1="72.80" y1="309.60" x2="72.80" y2="314.60" stroke="#262626" stroke-width="2.5"/>
<line x1="129.93" y1="531.30" x2="129.93" y2="526.30" stroke="#262626" stroke-width="2.5"/>
<line x1="129.93" y1="309.60" x2="129.93" y2="314.60" stroke="#262626" stroke-width="2.5"/>
<line x1="187.07" y1="531.30" x2="187.07" y2="526.30" stroke="#262626" stroke-width="2.5"/>
<line x1="187.07" y1="309.60" x2="187.07" y2="314.60" stroke="#262626" stroke-width="2.5"/>
<line x1="244.20" y1="531.30" x2="244.20" y2="526.30" stroke="#262626" stroke-width="2.5"/>
<line x1="244.20" y1="309.60" x2="244.20" y2="314.60" stroke="#262626" stroke-width="2.5"/>
<line x1="301.33" y1="531.30" x2="301.33" y2="526.30" stroke="#262626" stroke-width="2.5"/>
<line x1="301.33" y1="309.60" x2="301.33" y2="314.60" stroke="#262626" stroke-width="2.5"/>
<line x1="358.47" y1="531.30" x2="358.47" y2="526.30" stroke="#262626" stroke-width="2.5"/>
<line x1="358.47" y1="309.60" x2="358.47" y2="314.60" stroke="#262626" stroke-width="2.5"/>
<line x1="415.60" y1="531.30" x2="415.60" y2="526.30" stroke="#262626" stroke-width="2.5"/>
<line x1="415.60" y1="309.60" x2="415.60" y2="314.60" stroke="#262626" stroke-width="2.5"/>
<line x1="72.80" y1="309.60" x2="77.80" y2="309.60" stroke="#262626" stroke-width="2.5"/>
<line x1="415.60" y1="309.60" x2="410.60" y2="309.60" stroke="#262626" stroke-width="2.5"/>
<line x1="72.80" y1="372.94" x2="77.80" y2="372.94" stroke="#262626" stroke-width="2.5"/>
<line x1="415.60" y1="372.94" x2="410.60" y2="372.94" stroke="#262626" stroke-width="2.5"/>
<line x1="72.80" y1="436.29" x2="77.80" y2="436.29" stroke="#262626" stroke-width="2.5"/>
<line x1="415.60" y1="436.29" x2="410.60" y2="436.29" stroke="#262626" stroke-width="2.5"/>
<line x1="72.80" y1="499.63" x2="77.80" y2="499.63" stroke="#262626" stroke-width="2.5"/>
<line x1="415.60" y1="499.63" x2="410.60" y2="499.63" stroke="#262626" stroke-width="2.5"/>
<rect x="72.80" y="309.60" width="342.80" height="221.70" fill="none" stroke="#262626" stroke-width="2.7"/>
<text x="72.10" y="554.80" text-anchor="middle" class="tl">-90</text>
<text x="129.23" y="554.80" text-anchor="middle" class="tl">-60</text>
<text x="186.37" y="554.80" text-anchor="middle" class="tl">-30</text>
<text x="244.20" y="554.80" text-anchor="middle" class="tl">0</text>
<text x="301.33" y="554.80" text-anchor="middle" class="tl">30</text>
<text x="358.47" y="554.80" text-anchor="middle" class="tl">60</text>
<text x="415.60" y="554.80" text-anchor="middle" class="tl">90</text>
<text x="67.80" y="316.50" text-anchor="end" class="tl">-30</text>
<text x="67.80" y="379.84" text-anchor="end" class="tl">-40</text>
<text x="67.80" y="443.19" text-anchor="end" class="tl">-50</text>
<text x="67.80" y="506.53" text-anchor="end" class="tl">-60</text>
<text x="243.60" y="580.20" text-anchor="middle" class="al">Angle (deg)</text>
<text transform="translate(29.90,420.70) rotate(-90)" text-anchor="middle" class="al">Power (dBm)</text>
<text x="86.30" y="337.60" class="tag">(d)</text>
<line x1="490.70" y1="531.30" x2="490.70" y2="526.30" stroke="#262626" stroke-width="2.5"/>
<line x1="490.70" y1="309.60" x2="490.70" y2="314.60" stroke="#262626" stroke-width="2.5"/>
<line x1="585.98" y1="531.30" x2="585.98" y2="526.30" stroke="#262626" stroke-width="2.5"/>
<line x1="585.98" y1="309.60" x2="585.98" y2="314.60" stroke="#262626" stroke-width="2.5"/>
<line x1="662.20" y1="531.30" x2="662.20" y2="526.30" stroke="#262626" stroke-width="2.5"/>
<line x1="662.20" y1="309.60" x2="662.20" y2="314.60" stroke="#262626" stroke-width="2.5"/>
<line x1="738.42" y1="531.30" x2="738.42" y2="526.30" stroke="#262626" stroke-width="2.5"/>
<line x1="738.42" y1="309.60" x2="738.42" y2="314.60" stroke="#262626" stroke-width="2.5"/>
<line x1="833.70" y1="531.30" x2="833.70" y2="526.30" stroke="#262626" stroke-width="2.5"/>
<line x1="833.70" y1="309.60" x2="833.70" y2="314.60" stroke="#262626" stroke-width="2.5"/>
<line x1="490.70" y1="309.60" x2="495.70" y2="309.60" stroke="#262626" stroke-width="2.5"/>
<line x1="833.70" y1="309.60" x2="828.70" y2="309.60" stroke="#262626" stroke-width="2.5"/>
<line x1="490.70" y1="372.94" x2="495.70" y2="372.94" stroke="#262626" stroke-width="2.5"/>
<line x1="833.70" y1="372.94" x2="828.70" y2="372.94" stroke="#262626" stroke-width="2.5"/>
<line x1="490.70" y1="436.29" x2="495.70" y2="436.29" stroke="#262626" stroke-width="2.5"/>
<line x1="833.70" y1="436.29" x2="828.70" y2="436.29" stroke="#262626" stroke-width="2.5"/>
<line x1="490.70" y1="499.63" x2="495.70" y2="499.63" stroke="#262626" stroke-width="2.5"/>
<line x1="833.70" y1="499.63" x2="828.70" y2="499.63" stroke="#262626" stroke-width="2.5"/>
<rect x="490.70" y="309.60" width="343.00" height="221.70" fill="none" stroke="#262626" stroke-width="2.7"/>
<text x="490.00" y="554.80" text-anchor="middle" class="tl">-90</text>
<text x="585.28" y="554.80" text-anchor="middle" class="tl">-40</text>
<text x="662.20" y="554.80" text-anchor="middle" class="tl">0</text>
<text x="738.42" y="554.80" text-anchor="middle" class="tl">40</text>
<text x="833.70" y="554.80" text-anchor="middle" class="tl">90</text>
<text x="485.70" y="316.50" text-anchor="end" class="tl">-30</text>
<text x="485.70" y="379.84" text-anchor="end" class="tl">-40</text>
<text x="485.70" y="443.19" text-anchor="end" class="tl">-50</text>
<text x="485.70" y="506.53" text-anchor="end" class="tl">-60</text>
<text x="661.60" y="580.20" text-anchor="middle" class="al">Angle (deg)</text>
<text transform="translate(448.20,420.70) rotate(-90)" text-anchor="middle" class="al">Power (dBm)</text>
<text x="499.20" y="337.60" class="tag">(e)</text>
<line x1="909.30" y1="531.30" x2="909.30" y2="526.30" stroke="#262626" stroke-width="2.5"/>
<line x1="909.30" y1="309.60" x2="909.30" y2="314.60" stroke="#262626" stroke-width="2.5"/>
<line x1="1004.58" y1="531.30" x2="1004.58" y2="526.30" stroke="#262626" stroke-width="2.5"/>
<line x1="1004.58" y1="309.60" x2="1004.58" y2="314.60" stroke="#262626" stroke-width="2.5"/>
<line x1="1080.80" y1="531.30" x2="1080.80" y2="526.30" stroke="#262626" stroke-width="2.5"/>
<line x1="1080.80" y1="309.60" x2="1080.80" y2="314.60" stroke="#262626" stroke-width="2.5"/>
<line x1="1157.02" y1="531.30" x2="1157.02" y2="526.30" stroke="#262626" stroke-width="2.5"/>
<line x1="1157.02" y1="309.60" x2="1157.02" y2="314.60" stroke="#262626" stroke-width="2.5"/>
<line x1="1252.30" y1="531.30" x2="1252.30" y2="526.30" stroke="#262626" stroke-width="2.5"/>
<line x1="1252.30" y1="309.60" x2="1252.30" y2="314.60" stroke="#262626" stroke-width="2.5"/>
<line x1="909.30" y1="309.60" x2="914.30" y2="309.60" stroke="#262626" stroke-width="2.5"/>
<line x1="1252.30" y1="309.60" x2="1247.30" y2="309.60" stroke="#262626" stroke-width="2.5"/>
<line x1="909.30" y1="372.94" x2="914.30" y2="372.94" stroke="#262626" stroke-width="2.5"/>
<line x1="1252.30" y1="372.94" x2="1247.30" y2="372.94" stroke="#262626" stroke-width="2.5"/>
<line x1="909.30" y1="436.29" x2="914.30" y2="436.29" stroke="#262626" stroke-width="2.5"/>
<line x1="1252.30" y1="436.29" x2="1247.30" y2="436.29" stroke="#262626" stroke-width="2.5"/>
<line x1="909.30" y1="499.63" x2="914.30" y2="499.63" stroke="#262626" stroke-width="2.5"/>
<line x1="1252.30" y1="499.63" x2="1247.30" y2="499.63" stroke="#262626" stroke-width="2.5"/>
<rect x="909.30" y="309.60" width="343.00" height="221.70" fill="none" stroke="#262626" stroke-width="2.7"/>
<text x="908.60" y="554.80" text-anchor="middle" class="tl">-90</text>
<text x="1003.88" y="554.80" text-anchor="middle" class="tl">-40</text>
<text x="1080.80" y="554.80" text-anchor="middle" class="tl">0</text>
<text x="1157.02" y="554.80" text-anchor="middle" class="tl">40</text>
<text x="1252.30" y="554.80" text-anchor="middle" class="tl">90</text>
<text x="904.30" y="316.50" text-anchor="end" class="tl">-30</text>
<text x="904.30" y="379.84" text-anchor="end" class="tl">-40</text>
<text x="904.30" y="443.19" text-anchor="end" class="tl">-50</text>
<text x="904.30" y="506.53" text-anchor="end" class="tl">-60</text>
<text x="1080.20" y="580.20" text-anchor="middle" class="al">Angle (deg)</text>
<text transform="translate(866.90,420.70) rotate(-90)" text-anchor="middle" class="al">Power (dBm)</text>
<text x="918.10" y="337.60" class="tag">(f)</text>
<text x="1118.6" y="556.0" text-anchor="middle" class="tl" style="fill:#1B75BC">20</text>
</svg>
</body></html>
